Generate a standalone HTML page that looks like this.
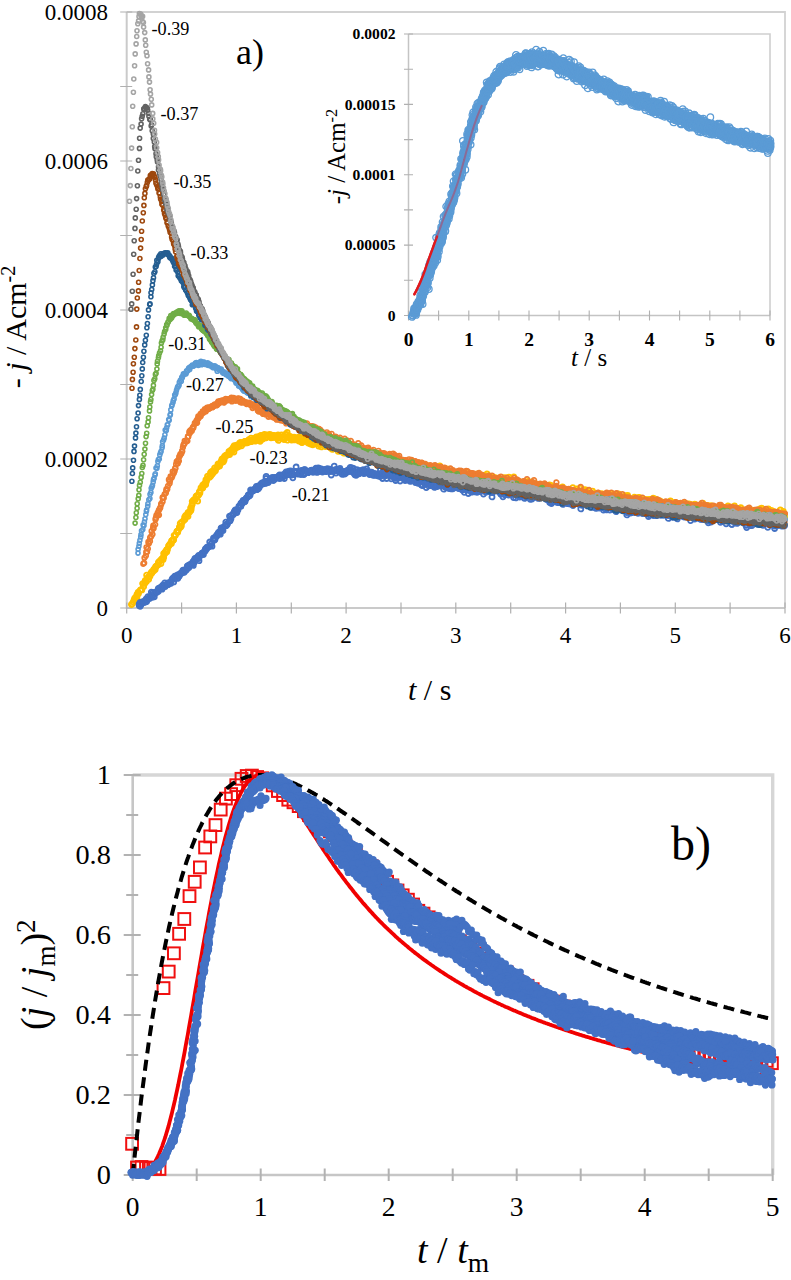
<!DOCTYPE html>
<html><head><meta charset="utf-8"><style>
html,body{margin:0;padding:0;background:#fff;}
svg{display:block;}
text{font-family:'Liberation Serif',serif;fill:#000;}
</style></head><body>
<svg width="791" height="1280" viewBox="0 0 791 1280">
<rect width="791" height="1280" fill="#fff"/>
<defs><marker id="a0" markerWidth="8" markerHeight="8" refX="4" refY="4" markerUnits="userSpaceOnUse"><circle cx="4" cy="4" r="2.5" fill="none" stroke="#FFC000" stroke-width="1.8"/></marker>
<marker id="a1" markerWidth="8" markerHeight="8" refX="4" refY="4" markerUnits="userSpaceOnUse"><circle cx="4" cy="4" r="2.5" fill="none" stroke="#4472C4" stroke-width="1.8"/></marker>
<marker id="a2" markerWidth="8" markerHeight="8" refX="4" refY="4" markerUnits="userSpaceOnUse"><circle cx="4" cy="4" r="2.3" fill="none" stroke="#ED7D31" stroke-width="1.7"/></marker>
<marker id="a3" markerWidth="8" markerHeight="8" refX="4" refY="4" markerUnits="userSpaceOnUse"><circle cx="4" cy="4" r="2.0" fill="none" stroke="#5B9BD5" stroke-width="1.6"/></marker>
<marker id="a4" markerWidth="8" markerHeight="8" refX="4" refY="4" markerUnits="userSpaceOnUse"><circle cx="4" cy="4" r="2.0" fill="none" stroke="#70AD47" stroke-width="1.6"/></marker>
<marker id="a5" markerWidth="8" markerHeight="8" refX="4" refY="4" markerUnits="userSpaceOnUse"><circle cx="4" cy="4" r="2.0" fill="none" stroke="#255E91" stroke-width="1.6"/></marker>
<marker id="a6" markerWidth="8" markerHeight="8" refX="4" refY="4" markerUnits="userSpaceOnUse"><circle cx="4" cy="4" r="2.0" fill="none" stroke="#9E480E" stroke-width="1.6"/></marker>
<marker id="a7" markerWidth="8" markerHeight="8" refX="4" refY="4" markerUnits="userSpaceOnUse"><circle cx="4" cy="4" r="2.0" fill="none" stroke="#636363" stroke-width="1.6"/></marker>
<marker id="a8" markerWidth="8" markerHeight="8" refX="4" refY="4" markerUnits="userSpaceOnUse"><circle cx="4" cy="4" r="2.0" fill="none" stroke="#A5A5A5" stroke-width="1.6"/></marker><marker id="ib" markerWidth="10" markerHeight="10" refX="5" refY="5" markerUnits="userSpaceOnUse"><circle cx="5" cy="5" r="3.3" fill="none" stroke="#5B9BD5" stroke-width="1.3"/></marker><marker id="bs" markerWidth="16" markerHeight="16" refX="8" refY="8" markerUnits="userSpaceOnUse"><rect x="2.1" y="2.1" width="11.8" height="11.8" fill="none" stroke="#F01010" stroke-width="2"/></marker>
<marker id="bc" markerWidth="10" markerHeight="10" refX="5" refY="5" markerUnits="userSpaceOnUse"><circle cx="5" cy="5" r="3.6" fill="#4472C4"/></marker></defs>
<path d="M126.7 12.0H785.0V608.0" fill="none" stroke="#d2d2d2" stroke-width="1.8"/>
<path d="M126.7 12.0V608.0H785.0" fill="none" stroke="#cacaca" stroke-width="2"/>
<path d="M120.2 608.0H132.2M120.2 533.5H132.2M120.2 459.0H132.2M120.2 384.5H132.2M120.2 310.0H132.2M120.2 235.5H132.2M120.2 161.0H132.2M120.2 86.5H132.2M120.2 12.0H132.2M126.7 602.5V613.5M181.6 602.5V613.5M236.4 602.5V613.5M291.3 602.5V613.5M346.1 602.5V613.5M401.0 602.5V613.5M455.8 602.5V613.5M510.7 602.5V613.5M565.6 602.5V613.5M620.4 602.5V613.5M675.3 602.5V613.5M730.1 602.5V613.5M785.0 602.5V613.5" stroke="#b0b0b0" stroke-width="1.2"/>
<text x="108" y="615.8" text-anchor="end" font-size="23">0</text>
<text x="108" y="466.8" text-anchor="end" font-size="23">0.0002</text>
<text x="108" y="317.8" text-anchor="end" font-size="23">0.0004</text>
<text x="108" y="168.8" text-anchor="end" font-size="23">0.0006</text>
<text x="108" y="19.8" text-anchor="end" font-size="23">0.0008</text>
<text x="126.7" y="643" text-anchor="middle" font-size="23">0</text>
<text x="236.4" y="643" text-anchor="middle" font-size="23">1</text>
<text x="346.1" y="643" text-anchor="middle" font-size="23">2</text>
<text x="455.8" y="643" text-anchor="middle" font-size="23">3</text>
<text x="565.6" y="643" text-anchor="middle" font-size="23">4</text>
<text x="675.3" y="643" text-anchor="middle" font-size="23">5</text>
<text x="785.0" y="643" text-anchor="middle" font-size="23">6</text>
<text x="408" y="700" font-size="30"><tspan font-style="italic">t</tspan> / s</text>
<text transform="translate(26 327) rotate(-90)" text-anchor="middle" font-size="30">- <tspan font-style="italic">j</tspan> / Acm<tspan font-size="20" dy="-11">-2</tspan></text>
<text x="236" y="64" font-size="36">a)</text>
<polyline points="131.4,604.5 132.2,603.8 133.2,602.0 134.8,600.2 134.1,599.7 134.8,597.9 136.5,598.3 137.1,598.9 136.9,595.5 137.0,594.3 137.3,594.7 138.5,593.5 138.1,592.2 140.8,589.8 140.4,590.0 141.8,589.9 143.4,586.3 143.6,586.4 142.6,583.6 144.6,583.4 145.4,581.7 144.7,582.8 145.2,580.5 146.4,581.6 146.0,580.5 148.7,579.2 146.6,575.2 148.2,576.9 149.4,576.6 150.0,575.9 150.9,572.8 151.6,573.3 151.9,571.7 153.5,571.0 151.8,572.5 153.9,569.2 154.0,569.3 155.2,569.6 155.9,566.7 155.7,566.4 156.6,565.8 158.2,564.8 158.5,562.2 158.4,562.9 160.9,563.6 161.7,558.9 159.7,561.0 161.6,559.1 163.7,557.1 163.1,559.5 163.4,556.9 163.7,553.3 164.1,554.0 164.9,553.6 165.3,551.6 166.8,551.7 166.6,549.6 167.2,549.6 167.3,549.5 168.7,545.7 168.8,545.8 169.9,543.9 171.4,543.6 171.5,540.8 172.2,540.5 172.7,540.0 173.2,540.3 173.7,539.6 174.1,535.3 175.5,534.9 174.8,535.7 177.2,531.2 176.9,532.1 176.9,531.5 177.7,532.2 178.2,530.3 179.4,527.9 179.4,526.8 181.4,525.8 180.6,527.0 180.2,523.4 181.9,522.4 181.6,522.1 183.6,520.4 185.0,519.2 185.4,516.8 184.6,517.1 185.6,515.4 188.0,516.3 187.6,514.5 188.0,512.5 189.4,512.3 191.0,509.8 190.8,510.5 190.6,508.0 191.3,507.6 192.2,504.1 191.9,505.1 192.2,501.3 193.6,499.8 193.5,501.0 194.8,499.1 195.5,499.4 197.7,501.1 196.1,496.1 197.2,495.3 197.8,495.4 198.8,494.8 199.9,492.9 199.4,491.8 199.8,492.0 199.9,490.8 201.0,487.7 202.6,488.0 202.9,487.2 202.8,484.8 203.9,485.5 204.8,483.1 205.7,484.5 205.6,482.5 206.4,481.5 205.9,479.6 207.0,479.3 209.6,475.9 207.5,476.1 209.5,477.2 210.5,473.0 210.7,476.1 211.0,471.8 212.1,474.3 212.8,471.3 213.4,472.6 212.7,471.0 214.6,467.9 214.7,470.9 215.5,470.4 216.7,467.5 217.6,466.5 218.4,465.9 218.0,464.0 219.6,466.0 220.4,463.0 221.0,463.0 221.8,461.2 221.4,460.7 222.0,459.0 223.3,461.8 222.4,459.2 224.1,460.0 224.2,458.0 224.9,456.3 224.6,456.2 225.8,455.2 227.0,455.3 228.3,454.2 229.0,453.6 228.9,451.5 229.4,451.7 229.6,454.6 231.1,450.8 231.2,449.7 232.4,451.1 233.9,452.1 233.2,447.5 232.8,448.8 233.9,447.7 234.1,445.6 234.9,448.7 237.3,447.2 237.1,446.8 236.5,445.2 238.7,446.5 239.7,444.6 239.2,444.8 239.6,443.0 240.5,442.4 241.5,445.8 242.4,442.7 243.4,443.5 244.0,442.7 244.6,441.9 245.4,441.5 245.5,442.9 244.6,441.3 246.2,441.3 247.1,441.3 247.3,442.8 248.8,441.9 248.5,441.3 248.7,439.6 251.0,438.2 251.1,441.5 251.4,441.4 252.5,439.6 253.2,440.4 253.3,440.6 252.0,440.6 253.9,440.6 254.6,438.4 254.9,441.2 256.3,436.9 257.7,440.0 257.1,439.3 257.3,439.8 260.1,441.3 259.0,440.6 259.1,436.4 260.7,435.5 261.5,439.3 261.3,436.4 263.0,437.8 262.7,439.0 263.0,435.1 264.4,434.3 265.4,437.9 265.1,437.5 266.4,437.0 266.7,437.3 269.3,435.9 267.5,434.8 269.6,436.9 269.2,435.6 269.8,434.5 271.0,437.8 271.7,436.9 272.6,437.6 272.6,435.4 272.5,436.0 273.2,435.4 274.5,435.6 275.2,437.3 276.4,435.8 276.3,437.6 277.4,437.6 278.3,440.4 278.0,434.9 277.5,438.6 278.3,437.1 278.8,437.2 281.5,435.0 280.4,436.6 282.5,438.6 282.7,437.3 284.1,437.6 284.2,437.1 284.0,439.5 284.6,437.6 285.4,434.1 286.1,436.6 286.2,434.6 287.2,432.5 288.9,437.0 287.2,440.2 289.2,438.1 289.0,436.2 290.4,436.6 291.5,440.1 291.5,438.5 292.7,438.4 291.7,438.3 294.2,438.5 293.6,439.9 295.1,439.6 295.4,439.1 294.1,437.1 296.0,439.8 297.3,437.9 298.8,441.0 298.6,437.1 299.2,439.1 298.6,439.4 301.2,437.3 302.1,442.6 301.5,442.3 301.9,439.1 301.6,441.4 303.9,440.8 305.8,435.9 305.1,440.9 306.1,440.5 306.2,440.8 305.7,439.0 308.0,440.5 306.8,440.8 308.1,443.2 309.1,441.9 310.1,441.5 310.4,444.2 311.0,440.8 310.8,441.2 311.1,438.9 312.7,444.8 312.7,443.9 312.9,444.0 313.6,443.7 314.8,442.9 314.4,443.2 315.4,442.5 315.8,442.7 317.7,443.3 318.5,446.0 320.2,444.5 318.4,443.6 319.6,442.8 321.3,442.9 321.1,446.9 321.7,445.2 323.7,444.5 322.9,444.0 323.0,442.8 323.5,444.8 325.3,446.6 325.9,444.5 325.3,445.0 326.2,445.1 327.9,445.8 328.5,443.0 328.3,445.5 329.8,444.6 330.4,447.8 329.4,445.0 331.0,447.6 332.1,449.4 332.1,446.3 331.6,445.9 333.5,447.5 334.8,447.3 336.0,445.7 334.0,448.4 338.0,451.3 336.0,447.4 338.1,447.7 338.9,446.3 339.3,448.9 339.4,446.2 339.1,446.6 341.0,451.1 340.6,447.3 340.0,451.0 344.4,451.9 343.5,449.8 344.9,450.5 343.6,453.2 345.9,449.4 346.6,448.9 347.2,447.6 346.7,450.3 346.5,453.1 347.8,452.3 347.0,449.0 348.0,449.3 349.9,450.1 349.7,451.7 350.9,450.9 351.6,451.8 353.7,452.1 353.8,451.2 353.5,451.8 355.0,452.4 354.2,452.0 355.2,453.2 356.7,455.9 355.8,453.7 357.1,452.9 357.0,449.8 358.6,453.8 360.3,449.6 359.2,450.8 360.5,455.1 360.4,455.0 360.8,453.6 361.4,450.8 363.9,453.5 365.1,453.1 364.4,455.7 364.2,458.8 365.8,455.2 365.7,453.5 367.1,452.9 367.4,455.1 368.0,455.1 368.8,453.4 368.6,455.9 369.4,453.7 369.1,458.1 370.6,458.2 370.5,458.4 372.0,455.6 372.1,457.6 373.5,456.5 374.3,456.2 373.6,456.5 374.7,454.8 375.2,454.7 377.0,459.1 378.3,457.4 378.3,458.3 378.1,459.9 380.0,454.9 378.5,456.8 381.2,458.8 380.4,459.4 379.5,458.1 383.9,460.9 383.8,459.5 382.6,456.9 384.0,457.6 384.4,461.1 385.2,460.6 384.7,456.2 385.9,462.6 387.3,461.3 387.8,462.9 389.1,459.7 388.9,460.0 391.1,458.6 389.6,465.8 390.9,460.7 390.0,464.3 391.1,460.1 393.5,461.8 392.6,458.4 394.2,461.1 394.4,463.9 394.3,459.7 395.5,464.3 396.0,463.1 396.6,460.5 398.1,461.7 398.6,462.0 398.4,462.9 398.8,462.1 400.2,461.7 400.6,462.9 402.0,461.6 403.8,461.2 403.1,463.8 403.1,465.8 403.6,461.2 403.8,464.4 404.4,463.2 404.9,462.8 406.0,466.5 406.6,464.0 408.0,468.0 407.8,463.7 408.6,466.2 408.5,465.1 411.1,464.2 410.9,467.0 412.5,465.7 412.4,467.3 413.5,466.2 412.9,464.3 414.2,466.4 416.2,466.8 414.1,468.7 416.4,465.2 417.3,467.0 417.1,463.9 417.9,468.6 418.9,465.4 418.2,464.1 419.6,467.7 419.3,470.1 420.0,465.1 420.7,466.0 421.6,466.8 422.5,466.2 423.3,469.3 422.6,467.1 425.6,467.4 425.7,470.0 426.0,467.5 425.8,470.0 426.6,467.4 427.7,467.0 428.2,465.9 427.4,473.2 429.7,469.1 431.9,470.3 429.1,469.9 431.8,470.4 431.9,470.3 432.2,474.0 433.9,468.4 432.7,467.5 434.3,468.6 435.8,468.1 435.2,472.3 435.7,472.5 436.7,469.2 436.9,468.5 439.0,470.6 437.8,474.1 439.7,466.0 438.8,472.6 440.8,469.6 440.9,473.8 439.7,469.8 442.2,471.5 442.1,469.2 443.1,470.3 445.2,475.0 443.9,474.0 444.5,471.7 447.0,470.9 446.6,469.0 448.3,472.1 448.0,472.9 447.8,472.9 449.0,473.0 450.5,471.1 450.9,473.2 450.9,473.4 451.5,476.1 452.0,477.3 452.3,473.5 454.8,472.3 454.0,473.8 453.8,472.9 454.9,472.7 456.4,474.1 456.9,472.3 457.0,475.6 457.2,474.3 458.3,475.1 457.7,474.4 458.6,473.4 460.8,473.1 460.5,474.5 461.7,474.0 462.9,475.7 463.1,475.3 463.3,472.7 465.4,475.6 465.0,473.0 464.9,474.5 466.3,475.2 466.7,471.8 466.4,476.1 467.7,476.3 468.1,475.8 467.4,475.4 469.4,475.6 469.9,474.5 470.4,476.0 470.2,475.5 471.7,476.8 472.6,474.4 473.3,477.3 473.0,477.2 474.9,476.7 474.2,476.2 475.5,478.3 477.2,474.0 476.4,478.3 477.2,477.9 478.9,478.1 478.5,478.4 479.2,476.4 480.2,477.3 481.4,479.1 479.7,478.8 481.3,478.5 481.8,475.2 482.3,479.3 483.1,480.6 483.8,480.4 485.2,478.9 485.0,475.5 486.3,480.5 487.1,478.4 486.9,473.9 488.2,479.6 489.9,476.1 489.6,476.5 489.5,477.9 490.5,481.7 490.5,478.6 492.0,479.9 493.0,482.9 492.5,482.6 493.5,479.4 495.1,479.2 494.5,477.3 495.7,478.5 495.4,480.7 496.2,480.8 497.0,480.3 499.5,482.1 498.3,478.7 498.9,480.2 499.5,481.8 500.4,481.6 501.6,482.6 501.9,481.4 503.8,480.1 503.1,481.5 504.6,478.9 504.4,477.7 505.2,482.1 504.4,481.0 506.0,481.8 506.6,477.9 507.1,480.6 506.4,480.2 509.2,479.8 508.9,477.2 509.5,481.0 510.2,483.5 510.9,482.6 511.9,480.7 511.4,482.0 512.2,483.5 513.7,476.8 514.2,482.0 514.5,483.4 515.0,483.7 515.4,485.8 516.6,484.8 518.0,483.3 517.1,483.3 519.5,484.4 519.7,481.9 519.4,482.9 520.9,484.9 519.9,487.0 520.3,483.0 521.3,483.3 522.5,483.9 523.2,486.2 523.7,483.6 524.7,486.6 523.8,482.0 526.2,483.6 525.5,483.7 526.7,485.7 527.5,486.3 527.6,481.4 528.0,482.7 528.9,485.2 530.2,483.4 531.3,481.8 531.9,486.9 531.4,485.9 532.2,486.0 532.7,484.2 534.3,487.3 533.2,484.9 536.1,487.6 535.5,483.8 535.9,484.0 537.3,486.2 538.4,484.5 538.5,487.3 539.7,486.6 539.6,484.4 541.0,486.5 541.7,485.8 541.3,488.3 543.0,485.4 542.8,485.9 543.3,489.2 543.2,491.3 544.3,491.0 545.7,487.3 544.8,487.7 546.8,490.4 547.2,487.3 547.8,485.7 546.7,487.9 548.8,488.7 549.9,486.3 549.5,484.8 550.8,485.3 549.7,489.5 552.4,486.9 552.1,488.2 553.8,489.0 552.5,489.9 554.9,488.1 554.9,489.9 556.2,487.2 555.6,488.4 556.5,487.2 559.1,491.5 557.6,489.3 558.3,488.1 559.2,488.9 559.3,489.3 561.5,491.2 562.4,486.8 561.4,488.0 561.3,489.4 563.9,495.1 564.5,492.2 564.9,490.2 565.8,491.9 565.0,494.6 566.1,490.2 565.9,490.1 566.4,493.2 568.7,491.9 568.2,492.4 570.9,490.1 570.0,495.0 570.1,494.7 571.7,492.5 573.0,492.8 572.7,487.7 572.2,492.9 573.9,491.4 575.2,492.7 574.5,493.3 575.0,491.4 576.8,488.9 576.8,493.0 576.6,490.9 577.7,491.8 578.1,491.3 579.4,491.9 579.9,488.2 581.3,495.2 581.6,493.4 580.6,495.1 582.6,496.9 583.6,493.2 583.9,489.7 584.9,491.6 584.4,491.1 584.8,492.5 586.7,493.8 585.9,489.8 585.8,494.5 588.6,490.9 588.0,494.5 588.9,493.8 588.8,493.5 589.5,494.1 590.2,493.3 591.4,493.2 592.5,491.2 591.3,494.5 594.0,498.3 593.3,498.6 594.0,497.4 595.8,496.3 595.9,493.7 595.5,497.9 598.5,495.1 597.2,495.1 598.6,494.8 599.2,495.6 600.7,494.7 600.0,495.4 601.6,493.6 601.0,495.1 602.9,500.3 602.2,495.8 603.1,495.6 605.3,497.2 604.9,497.6 605.3,494.1 607.4,496.0 606.8,498.2 606.5,497.1 608.3,496.9 607.5,499.7 609.8,495.5 610.4,497.0 609.8,495.9 610.4,499.9 611.6,493.3 612.1,495.9 612.0,496.2 613.7,498.7 612.5,498.6 614.3,500.2 614.9,494.5 615.6,499.1 616.6,497.2 616.2,496.5 618.1,499.0 618.2,496.2 618.4,494.0 618.6,497.4 619.3,495.3 621.0,497.1 620.7,499.1 622.0,499.1 623.4,501.7 624.0,498.3 625.0,495.7 624.3,497.3 624.3,497.1 626.4,496.6 626.6,499.9 627.7,497.9 627.6,495.3 629.0,500.6 629.4,499.1 629.9,500.1 630.4,499.7 631.0,500.8 631.5,499.7 632.1,502.1 633.2,500.6 632.8,500.7 635.0,500.8 634.3,497.2 635.7,499.8 635.6,499.7 636.1,500.7 638.3,497.7 637.3,503.6 637.2,500.7 638.2,498.2 639.1,497.3 641.5,500.2 640.7,500.6 641.9,499.5 641.1,501.1 642.7,499.8 643.6,502.2 645.0,499.8 643.8,501.2 645.4,503.2 645.8,506.4 645.5,499.5 646.8,500.6 647.2,500.0 646.4,503.2 649.1,499.5 649.7,500.9 649.6,501.9 649.6,500.1 652.2,500.2 651.9,501.2 653.1,498.1 654.0,499.5 653.3,501.5 654.8,502.7 654.7,502.1 655.4,499.1 656.0,501.7 656.7,504.3 658.1,503.9 658.0,502.7 658.5,501.2 659.0,504.2 660.1,501.9 659.8,500.8 660.7,501.6 661.6,506.1 661.9,503.8 662.8,505.7 663.1,502.5 665.6,505.4 665.7,502.4 665.7,503.4 666.0,508.6 668.2,505.3 667.5,502.9 667.8,503.8 668.7,504.7 669.3,506.4 670.7,503.2 670.3,500.8 672.4,503.7 671.0,504.4 672.7,504.6 672.1,507.1 674.7,505.2 673.8,506.2 674.7,502.5 676.0,506.4 676.8,508.9 675.8,506.4 676.9,505.4 676.8,505.3 678.5,508.6 679.0,503.3 679.4,505.0 679.8,506.2 680.6,506.8 681.0,504.5 682.5,506.1 683.8,505.0 682.0,505.8 683.9,505.4 684.3,503.5 685.6,505.7 685.2,507.5 686.4,504.0 686.4,505.5 688.2,507.3 688.4,504.0 688.8,506.5 689.8,504.1 690.0,508.5 689.7,510.8 691.9,510.3 692.3,506.0 692.6,507.9 694.0,506.8 694.8,506.8 693.8,509.7 694.6,504.2 696.9,508.9 697.4,506.8 696.5,509.7 696.8,507.3 697.8,505.7 698.5,507.6 698.4,508.6 700.1,507.3 699.8,508.2 700.5,506.3 702.6,503.2 702.1,509.2 703.2,508.9 704.3,507.9 705.0,507.8 704.8,509.7 705.7,506.8 705.7,506.4 708.2,507.5 708.0,510.2 707.4,505.3 708.8,510.3 709.9,506.8 710.4,506.0 711.9,510.6 712.2,508.1 711.5,505.8 712.5,507.7 712.2,510.2 713.9,510.8 714.5,507.7 716.9,509.4 715.7,510.0 714.8,507.4 716.4,509.4 717.6,508.7 717.2,507.8 718.1,508.0 719.1,509.1 720.2,509.1 720.5,508.0 720.6,508.3 722.4,511.4 722.1,509.7 722.7,511.0 722.7,511.7 723.7,510.6 725.4,513.9 724.4,507.9 726.1,511.2 727.3,509.0 727.1,513.3 728.2,513.1 727.9,506.0 730.2,508.0 730.7,511.2 730.7,511.5 729.9,511.4 731.0,509.9 733.0,511.0 734.2,511.4 733.8,510.1 735.1,512.3 734.4,505.9 735.3,511.6 736.1,508.4 737.0,512.4 736.2,510.1 738.6,508.9 739.5,511.4 738.4,508.9 738.9,509.0 740.7,507.7 740.6,510.8 740.0,511.9 742.8,513.0 743.0,510.7 743.2,513.1 745.6,511.1 744.9,511.0 744.9,512.3 746.1,513.3 745.9,510.7 746.7,510.9 748.1,511.1 748.1,511.6 748.8,509.8 750.9,513.6 750.9,510.8 751.5,512.6 752.0,510.1 752.5,512.5 753.8,512.6 753.4,511.1 755.4,515.9 754.0,512.7 755.1,515.5 755.0,514.0 756.3,510.8 757.5,511.4 758.8,513.1 757.9,512.4 759.0,512.4 759.4,511.8 759.7,508.9 760.0,512.0 761.5,508.2 760.9,513.3 762.8,511.2 763.4,511.3 763.5,512.3 763.9,513.3 764.3,510.0 767.1,509.5 765.5,510.8 768.2,509.0 768.1,511.1 768.1,516.2 768.1,511.1 770.3,514.4 771.4,510.5 770.1,513.8 771.2,512.7 772.8,513.2 772.9,514.5 774.7,516.9 773.5,513.9 774.9,513.8 774.3,511.7 777.2,514.8 775.9,513.2 775.5,515.4 777.5,513.7 778.1,517.2 780.2,510.0 779.2,513.3 780.1,515.7 781.1,513.3 782.5,512.5 781.9,513.6 783.3,511.5 783.6,514.4 783.6,519.0 784.5,516.5" fill="none" stroke="none" marker-start="url(#a0)" marker-mid="url(#a0)" marker-end="url(#a0)"/>
<polyline points="139.1,605.6 139.2,604.0 140.1,606.3 140.1,602.5 140.0,605.4 140.9,604.7 142.8,602.8 143.2,601.5 144.6,601.8 144.1,602.2 145.3,602.1 146.2,601.0 146.6,601.5 146.1,599.0 147.1,599.5 147.9,596.7 147.7,599.2 149.4,598.0 150.4,596.7 149.9,598.3 152.3,597.2 151.3,592.1 152.0,595.3 152.6,592.8 152.9,595.5 154.3,596.8 154.6,592.3 156.4,592.5 156.3,591.6 156.9,591.8 156.9,591.6 156.7,591.9 158.3,588.4 158.4,591.2 160.2,587.4 160.2,588.5 162.0,589.2 162.0,588.1 162.6,585.5 162.8,585.4 163.4,585.2 164.4,585.3 165.2,586.5 164.7,582.9 166.1,584.8 168.2,584.5 167.0,584.1 167.5,583.6 167.8,584.5 167.9,582.8 170.3,582.9 170.2,582.1 170.9,583.3 172.7,578.1 173.7,581.9 172.0,579.5 174.0,579.0 174.3,577.7 174.7,576.1 175.4,577.7 175.7,576.8 177.4,577.9 177.4,574.9 177.8,578.3 179.1,576.3 179.4,575.2 179.7,574.1 180.3,573.5 181.9,572.5 181.6,572.8 181.8,573.0 181.9,572.3 182.9,570.1 183.0,571.1 184.5,569.8 185.2,570.6 184.2,572.3 186.3,570.1 187.3,568.4 187.6,566.1 187.4,565.8 189.6,564.9 188.9,567.5 189.1,564.9 189.8,565.4 191.2,564.0 192.5,564.3 193.3,565.4 193.2,562.1 192.8,562.0 193.8,560.7 194.3,562.3 195.4,559.2 194.9,558.5 196.9,557.5 197.9,556.9 197.9,558.7 199.0,560.7 198.6,555.5 198.9,557.3 200.1,555.7 201.9,553.3 202.5,553.7 202.0,553.1 203.8,551.8 203.4,554.5 205.3,548.8 205.2,551.0 205.1,550.3 206.6,548.3 206.2,548.6 206.7,548.8 206.9,547.1 208.7,546.7 209.1,546.3 209.7,542.0 210.1,545.9 212.0,546.2 211.4,543.7 211.8,543.0 213.8,539.0 214.5,540.0 214.4,538.3 213.5,537.9 215.0,539.2 216.4,536.0 216.6,536.2 218.3,533.0 216.9,534.6 219.0,534.1 218.7,532.2 220.6,531.4 220.3,534.2 221.7,529.1 221.1,528.5 221.2,528.0 222.0,530.0 223.0,530.4 223.3,527.2 225.5,524.9 226.2,524.5 226.1,525.7 225.8,522.1 227.1,524.6 227.3,523.8 229.4,521.1 229.2,521.0 230.0,520.4 230.0,520.7 229.5,516.2 231.0,518.6 231.3,515.5 233.0,514.2 233.4,514.6 233.4,513.4 234.3,511.4 236.3,509.8 235.2,509.9 235.8,512.5 236.9,512.5 237.2,509.8 238.0,509.8 239.3,506.5 240.8,506.4 238.9,506.2 240.8,503.5 241.4,502.8 242.0,503.7 242.5,502.3 243.0,500.4 244.6,501.8 244.2,500.1 245.1,501.2 245.8,498.9 246.5,497.7 246.9,497.6 248.3,496.4 248.2,495.0 249.0,494.7 249.4,495.7 249.4,494.8 250.1,495.1 250.6,490.0 252.1,491.3 252.1,490.7 252.5,491.0 254.0,489.5 254.8,488.8 253.8,490.3 256.9,488.9 256.3,486.4 256.8,489.7 258.3,488.7 258.2,485.9 258.4,487.6 260.9,484.8 259.3,487.2 260.6,484.8 261.9,483.4 261.1,483.7 262.4,482.7 263.4,483.8 265.4,483.4 263.7,482.9 264.9,481.6 266.1,476.4 266.3,481.9 266.0,478.5 267.7,481.5 268.2,482.6 269.0,481.0 270.1,479.6 270.6,479.7 270.8,479.5 271.4,478.5 271.0,478.2 272.3,477.4 273.2,480.5 273.4,478.3 274.3,479.6 274.3,477.4 276.6,477.7 277.6,477.0 276.5,477.8 277.7,478.2 277.8,477.0 279.5,475.3 279.5,474.9 279.9,478.6 280.3,475.3 281.2,475.1 281.0,477.7 282.8,476.9 282.5,475.9 284.0,474.2 284.3,478.5 285.6,475.2 285.4,475.3 286.8,474.0 286.0,471.8 287.7,471.9 287.8,474.6 288.7,474.5 289.2,473.3 290.4,471.7 289.0,471.1 291.2,472.9 290.6,470.9 293.1,474.7 291.5,475.1 292.8,477.8 292.9,474.5 295.9,471.9 294.5,471.4 296.1,467.0 296.2,471.7 296.0,472.3 297.6,474.2 298.9,473.5 299.0,473.4 300.4,472.7 300.1,473.4 300.9,474.6 301.3,470.3 302.4,471.3 304.1,469.6 303.7,474.6 304.2,474.0 304.2,473.0 304.8,469.6 306.9,471.9 305.7,471.1 306.5,471.6 307.7,471.1 308.1,472.2 310.4,470.6 308.0,472.7 310.5,471.5 311.4,470.6 310.7,470.8 311.6,470.2 313.0,472.3 314.5,470.4 313.3,471.4 313.5,470.2 315.9,468.2 316.9,472.4 316.2,469.0 315.5,471.9 318.7,471.5 318.2,467.9 319.7,469.1 319.5,469.8 319.9,469.3 320.5,468.6 322.4,472.0 323.0,470.3 321.1,471.3 322.6,469.9 325.1,471.2 324.2,469.3 324.2,470.6 325.7,471.7 326.3,470.7 326.9,469.8 327.3,468.7 328.0,470.9 328.5,471.2 329.7,470.1 329.5,469.2 330.5,471.6 331.2,475.0 332.9,470.1 332.8,471.2 333.1,471.3 334.2,466.1 334.7,470.9 335.8,469.4 336.0,473.1 337.5,470.2 337.8,469.3 337.5,470.3 337.8,471.0 339.4,469.8 339.7,470.7 339.9,468.4 339.6,470.4 340.0,472.3 342.1,474.4 343.0,472.2 343.7,471.4 342.8,473.1 345.1,472.9 344.6,474.1 345.9,473.1 346.5,470.9 346.3,471.6 347.0,471.5 346.6,471.8 348.0,471.7 348.0,469.9 350.2,467.5 350.6,470.2 351.8,467.8 352.0,471.6 352.0,471.6 353.3,468.5 353.4,472.9 354.7,473.3 355.1,471.9 354.8,474.8 356.1,475.3 356.8,469.6 357.1,473.8 358.6,472.8 359.8,472.8 359.0,473.8 359.6,470.8 358.9,471.0 361.0,470.6 361.4,470.8 360.8,472.1 363.1,469.6 364.0,470.4 363.7,473.5 364.5,472.3 364.7,473.2 366.6,469.0 365.6,471.1 367.1,471.6 369.3,472.8 368.6,471.7 369.5,474.6 369.7,472.8 369.6,473.0 371.0,473.0 371.9,474.4 371.5,472.2 373.1,475.3 374.4,474.1 374.8,473.6 373.6,473.5 374.7,474.4 374.8,475.4 377.3,475.4 377.6,474.4 378.3,475.4 377.8,474.0 378.2,476.2 379.7,473.9 380.4,470.1 380.3,476.6 381.6,474.4 382.6,472.0 382.9,473.9 382.7,472.7 382.5,478.5 384.5,475.5 385.4,471.6 385.7,475.7 386.2,474.0 386.6,478.5 388.2,472.9 388.3,470.7 389.1,475.2 388.9,474.5 389.8,474.5 391.0,471.3 390.8,476.3 391.2,478.8 392.5,472.0 394.2,478.0 394.1,474.8 395.6,480.5 395.1,476.9 395.6,475.8 395.4,478.4 396.6,477.4 398.7,475.4 398.5,478.0 399.4,475.8 400.0,473.4 400.1,481.0 400.6,476.5 401.5,476.1 402.5,478.1 402.9,474.6 403.6,475.1 404.0,476.9 403.9,477.0 404.9,478.3 405.1,480.5 407.0,477.5 405.5,479.6 407.4,479.9 409.9,476.8 408.6,479.5 408.6,477.4 410.0,481.4 411.6,480.4 411.2,479.7 412.3,477.2 412.6,480.2 412.9,478.6 416.0,481.6 414.4,480.2 414.6,478.9 415.3,482.5 416.5,482.2 417.2,479.8 418.0,483.4 418.2,480.6 417.7,480.7 419.7,481.7 419.8,480.1 420.4,480.9 420.2,481.5 421.4,485.0 422.0,485.0 423.1,481.7 422.7,485.5 424.4,482.3 425.0,483.3 424.8,484.4 425.7,483.3 426.2,487.6 428.1,483.5 426.3,480.8 428.4,485.8 428.1,482.5 429.6,482.9 431.1,477.7 430.7,485.6 431.9,485.4 431.8,485.5 434.4,485.9 434.3,487.4 435.0,484.2 433.9,486.2 434.7,483.0 436.9,483.9 436.6,486.7 437.2,485.6 438.2,482.3 437.7,485.7 439.7,484.7 439.8,483.6 440.8,486.2 440.6,484.6 442.0,482.4 441.8,483.4 443.6,489.2 444.3,482.8 444.8,486.3 445.1,487.2 445.8,487.3 444.1,483.8 447.2,485.6 447.1,486.6 447.9,488.0 448.3,485.3 448.1,484.3 449.4,488.6 450.8,488.9 452.0,487.6 451.2,485.7 451.6,487.8 453.9,487.3 452.8,488.8 455.5,484.8 454.7,487.5 454.7,487.0 456.6,485.2 457.7,487.9 456.2,487.6 458.9,486.8 458.2,488.4 460.1,484.9 459.4,487.6 459.2,488.6 461.3,488.4 462.2,490.0 463.6,485.6 464.0,485.1 463.9,488.5 463.8,489.0 464.3,492.3 465.0,489.4 465.3,486.6 466.3,489.9 465.3,486.7 467.8,485.5 468.3,493.5 470.8,489.1 470.1,490.0 469.9,489.7 471.2,492.2 470.6,489.3 471.6,491.1 471.4,486.8 474.3,486.2 474.3,491.7 473.7,491.9 475.1,490.0 476.4,489.5 476.7,489.5 477.3,487.9 477.0,492.3 477.8,490.6 478.9,490.4 480.1,490.2 479.5,491.6 480.0,490.6 482.2,491.1 481.3,487.4 483.4,490.8 483.4,494.1 484.5,488.9 485.7,489.7 485.6,491.8 486.2,492.0 485.7,491.4 486.5,487.1 488.0,491.3 489.3,488.1 489.8,488.9 491.0,491.6 490.3,490.1 490.8,492.3 492.0,496.9 491.9,492.4 492.5,492.3 492.4,489.3 494.5,489.8 493.6,489.1 495.4,490.2 494.6,489.2 497.0,490.1 496.1,491.1 498.1,489.6 497.0,488.9 498.4,489.1 500.2,492.7 499.4,492.0 500.6,494.0 500.9,494.1 500.2,491.5 502.7,493.5 503.4,489.5 502.9,496.8 504.7,494.8 504.4,492.1 504.8,490.4 506.2,493.5 506.3,489.2 509.0,491.4 506.9,494.4 509.2,493.2 510.0,492.2 508.5,495.1 509.3,491.3 511.5,494.0 511.4,492.5 512.6,491.9 513.8,494.6 513.3,491.8 513.5,497.6 512.9,492.8 515.6,497.9 515.4,492.0 516.9,495.4 517.5,492.0 517.0,491.8 519.8,494.8 519.9,495.9 520.4,492.2 519.6,497.1 520.8,493.3 521.3,495.2 522.0,495.8 522.1,496.3 523.8,491.7 524.3,498.4 525.0,496.5 525.0,494.6 526.9,493.6 526.8,492.4 525.3,493.1 527.4,496.9 528.4,495.3 529.8,493.8 529.5,495.1 530.2,499.3 530.5,495.7 532.0,495.3 531.9,499.1 532.4,497.5 532.9,496.8 534.4,495.6 534.3,493.8 534.1,494.7 536.4,496.1 536.0,496.7 537.4,497.9 538.0,498.4 539.2,497.9 539.8,497.9 539.2,495.6 540.1,493.5 540.0,496.8 542.7,496.0 542.4,496.7 543.7,497.5 543.1,495.7 542.5,496.1 545.7,498.1 545.3,498.7 545.9,497.2 546.5,499.6 547.5,498.3 548.1,496.8 547.2,499.0 549.7,502.7 549.2,497.8 549.9,501.4 552.0,501.9 552.1,502.3 551.8,497.8 551.4,503.5 553.4,499.8 554.3,499.2 554.5,499.4 554.3,501.1 555.2,500.1 555.5,499.7 557.2,502.7 558.2,498.8 559.0,498.3 558.3,502.0 559.6,501.9 560.5,502.7 560.4,498.6 561.2,502.9 563.4,501.8 562.7,504.4 563.8,498.6 563.5,501.6 564.5,500.7 563.9,498.2 565.7,500.0 567.1,503.7 568.4,500.6 568.4,500.2 568.6,503.4 568.8,503.7 569.0,503.8 569.9,500.4 571.1,502.0 570.7,504.2 572.5,501.0 571.8,500.9 571.9,504.0 573.0,505.6 573.2,500.3 574.0,497.6 576.4,499.9 576.1,500.9 577.0,502.7 578.3,504.2 579.0,502.8 578.3,501.8 580.2,503.6 580.2,501.5 580.6,503.4 581.5,502.3 580.8,508.9 581.9,505.3 583.0,502.2 584.1,502.0 584.0,503.1 584.8,500.9 586.2,502.7 587.1,502.8 587.3,506.1 588.3,503.6 587.7,503.0 588.4,502.0 589.5,502.4 589.6,504.6 590.1,504.4 592.3,507.2 591.6,503.8 591.7,507.2 593.3,505.7 594.9,505.3 594.3,501.5 595.7,503.0 595.1,507.0 595.7,508.4 596.2,506.1 597.2,507.3 599.2,505.1 597.7,505.3 600.3,504.8 599.1,508.1 600.2,506.9 601.6,505.9 602.1,505.8 602.5,507.6 601.7,507.2 603.8,505.0 603.4,510.1 606.5,507.3 605.2,506.9 606.1,509.9 605.8,509.1 606.9,507.0 606.9,508.3 609.1,505.2 608.9,506.2 610.1,503.1 609.8,510.0 610.6,504.0 612.5,509.1 611.5,506.2 611.5,506.0 613.7,507.6 613.2,508.6 614.4,509.3 615.9,511.7 615.3,509.0 617.1,510.1 616.7,507.3 618.8,509.9 619.3,508.9 618.7,507.8 619.5,508.6 619.7,508.7 621.0,509.3 622.3,509.8 621.1,508.1 623.4,507.7 622.4,510.7 623.4,506.0 623.3,508.2 626.7,512.5 625.9,504.3 626.6,508.3 626.6,511.0 628.4,506.6 626.8,514.9 628.9,504.9 631.1,512.8 629.9,513.1 630.8,511.9 631.9,509.8 631.5,511.0 632.7,508.6 633.9,512.0 634.0,508.3 634.8,510.1 634.9,512.6 636.0,508.6 636.4,510.1 638.0,511.2 638.1,508.4 638.0,513.3 637.1,511.8 640.0,508.2 640.6,511.2 640.1,509.8 639.9,510.1 641.1,511.6 643.2,510.2 642.4,513.5 643.5,510.3 644.6,513.7 645.9,511.8 645.6,513.6 646.2,510.9 646.5,511.1 648.7,509.9 648.9,513.3 648.7,514.1 648.4,516.5 649.4,514.9 651.0,513.0 650.7,512.1 652.5,513.4 652.7,512.6 653.3,515.6 654.2,514.7 654.7,511.3 654.4,511.6 655.4,515.7 657.8,513.7 656.0,512.7 657.1,515.6 658.8,512.6 658.6,512.8 658.7,512.6 659.0,509.7 660.9,515.3 661.9,511.3 662.8,512.6 662.4,512.3 663.8,515.3 662.9,513.8 664.4,514.0 664.4,510.8 665.6,514.0 666.6,511.3 667.5,514.9 666.7,515.0 668.9,514.4 668.3,518.4 668.5,515.5 669.7,515.7 669.4,514.9 671.1,514.3 671.9,516.7 672.2,517.0 673.3,512.4 673.3,517.0 674.2,516.0 673.8,517.0 675.4,516.1 675.4,512.8 676.3,513.0 677.2,518.9 678.0,515.9 677.4,512.7 678.0,516.2 679.5,514.9 680.7,512.1 681.3,511.2 682.2,512.6 683.2,516.4 683.2,515.8 683.5,515.5 683.4,516.6 684.1,517.2 685.0,512.0 686.1,515.6 686.7,514.6 687.2,513.9 687.7,515.3 688.9,516.2 689.2,516.0 689.9,513.7 690.5,515.7 690.5,520.6 690.8,514.7 692.5,513.5 693.1,517.4 693.2,518.1 693.7,517.9 696.2,514.8 694.7,519.0 695.7,515.6 696.7,515.0 696.3,516.1 697.8,517.1 699.6,518.8 699.6,518.6 700.0,517.4 700.6,519.4 700.9,517.7 702.1,519.4 702.0,515.0 702.4,514.7 703.4,519.3 704.6,515.2 704.8,517.3 705.7,517.8 704.4,517.1 707.3,517.2 708.7,520.9 708.6,513.3 708.1,520.0 708.3,522.8 709.7,518.4 709.4,518.4 711.3,519.9 711.0,522.1 712.7,516.3 713.6,518.8 711.8,518.3 714.1,519.8 714.0,519.1 714.1,520.1 715.3,518.1 716.2,519.1 717.7,517.7 716.5,517.8 718.9,518.8 720.2,518.9 719.9,516.9 720.4,522.3 720.7,519.1 720.5,516.7 722.3,521.6 722.8,518.0 723.7,520.5 725.6,519.6 724.9,520.1 725.3,520.0 726.7,518.6 725.3,519.9 726.1,523.8 727.2,515.5 727.7,520.1 729.2,520.9 729.1,518.0 731.2,517.4 731.7,524.4 731.8,519.5 731.6,524.3 732.9,521.4 733.6,520.5 733.0,521.3 734.6,521.7 735.4,522.8 735.7,521.4 737.3,520.9 737.6,521.0 736.8,523.4 738.1,522.4 738.1,518.9 739.7,519.6 739.3,521.6 741.2,519.8 741.4,520.3 742.4,519.2 742.3,520.6 742.0,522.0 744.9,523.2 744.1,521.3 745.8,525.4 745.8,521.2 746.6,527.6 748.0,523.4 747.6,522.5 748.9,520.6 747.5,516.1 749.8,521.4 749.7,522.1 750.3,525.5 751.1,519.1 751.9,525.6 753.5,521.4 751.6,523.4 753.6,517.1 753.7,522.3 755.6,521.4 755.1,523.5 756.3,522.4 756.4,520.0 757.7,524.1 758.6,523.7 758.2,523.6 759.2,524.4 758.7,524.6 760.6,522.5 761.6,519.9 761.2,519.9 763.0,525.3 761.4,524.1 762.2,523.0 763.1,522.0 764.4,522.9 765.3,523.0 765.9,522.3 766.5,521.6 767.7,527.3 767.5,523.5 767.5,522.0 768.2,520.6 771.1,521.8 768.6,524.7 770.8,524.8 772.5,522.9 772.5,523.5 772.2,522.9 773.4,521.3 774.6,526.1 775.5,524.3 774.6,528.5 776.4,522.2 776.7,523.5 777.9,525.5 778.7,523.3 778.1,521.2 777.9,522.1 779.9,524.1 781.4,524.7 781.3,523.9 781.6,526.0 783.7,526.1 782.0,524.8 783.9,524.3 783.5,523.8 784.6,525.4" fill="none" stroke="none" marker-start="url(#a1)" marker-mid="url(#a1)" marker-end="url(#a1)"/>
<polyline points="143.3,563.8 144.2,562.9 144.5,557.8 145.9,555.8 146.2,552.2 147.1,552.1 147.9,548.7 146.5,547.3 148.9,543.4 148.4,541.9 150.0,541.2 150.1,537.7 151.2,536.4 152.5,534.2 151.6,531.2 153.1,527.8 153.6,528.6 153.3,525.7 155.2,524.6 155.5,519.4 155.9,517.9 156.4,515.5 159.0,515.0 157.8,515.3 157.7,512.9 158.8,510.4 159.7,508.8 160.3,507.7 161.1,504.8 161.2,503.8 162.6,501.7 162.7,497.4 162.9,497.7 163.8,497.9 164.6,494.3 165.9,492.9 166.3,490.7 166.5,489.2 167.3,489.3 168.0,486.1 169.6,483.6 168.9,479.7 170.0,480.9 170.8,477.8 170.6,476.4 171.7,477.7 172.4,476.0 172.7,471.6 173.8,473.2 174.6,471.2 175.3,468.3 175.3,468.5 176.1,464.4 177.8,463.4 176.7,461.6 178.0,460.4 178.9,461.1 179.2,457.0 180.0,455.6 180.4,454.2 181.3,453.8 182.2,451.5 182.1,451.1 182.9,447.6 183.4,445.3 183.8,444.5 184.7,443.5 184.7,440.9 186.3,440.7 187.4,441.0 188.0,437.0 188.4,436.5 187.9,436.7 189.8,433.3 189.3,432.0 190.2,430.6 191.8,431.1 191.0,430.2 192.5,428.4 192.9,427.6 193.3,428.0 193.5,426.6 194.8,423.2 195.0,423.7 196.4,423.0 197.1,422.7 196.4,420.8 197.4,419.4 198.2,418.7 198.3,416.4 199.0,417.4 200.2,415.9 200.7,416.2 200.6,413.8 201.8,413.6 202.9,412.3 202.7,411.5 203.4,412.8 205.3,410.9 205.8,411.4 204.9,409.1 205.7,410.0 207.2,407.6 207.0,408.5 208.1,408.1 208.6,409.0 209.8,408.2 208.8,407.4 209.6,408.2 210.7,407.2 212.5,407.2 212.5,407.2 212.3,405.9 214.1,405.3 214.8,405.6 214.9,404.4 215.5,405.0 216.5,405.4 217.5,404.7 217.6,402.8 218.4,401.4 218.7,402.4 219.2,401.9 219.6,403.0 220.8,401.0 221.1,400.9 221.7,401.8 223.0,400.3 223.4,400.5 224.2,402.6 223.6,402.2 225.2,401.0 225.3,400.5 225.8,398.9 226.4,400.6 228.1,400.0 228.5,400.1 228.3,399.1 228.7,399.7 229.9,399.4 230.3,400.0 232.0,401.4 231.1,400.1 231.5,397.7 232.9,398.5 233.7,397.8 234.3,398.8 235.3,400.5 236.5,400.4 236.0,399.2 236.5,400.4 236.5,399.2 238.1,398.5 239.0,398.6 239.1,399.3 240.4,402.2 240.5,398.9 241.8,402.2 241.9,402.5 241.8,400.8 242.6,401.1 242.8,400.6 243.3,401.6 244.9,402.7 245.9,402.1 247.0,403.6 246.6,404.1 247.2,403.4 247.4,403.6 249.0,403.4 249.3,404.2 249.5,402.7 250.7,404.9 251.3,404.9 250.7,403.9 252.6,408.1 252.9,404.4 253.3,404.9 253.9,406.8 255.6,404.3 256.1,406.2 256.9,405.6 256.0,406.8 256.9,408.2 258.3,409.2 257.8,410.6 258.7,410.6 258.8,411.5 261.2,411.0 261.5,410.0 261.8,412.4 262.3,410.6 262.6,410.8 263.2,413.9 264.3,413.3 264.3,412.9 265.9,413.9 265.6,414.4 266.1,411.8 267.8,413.7 267.7,412.6 268.6,414.6 268.8,413.9 268.5,416.8 270.5,416.0 270.2,414.5 272.0,415.8 271.3,414.5 271.8,416.4 273.5,417.4 274.2,417.3 274.6,414.6 274.6,416.9 276.3,418.3 275.7,418.3 276.8,419.7 277.3,416.6 278.1,419.3 279.3,417.9 279.2,419.3 280.4,419.8 281.1,420.4 280.5,418.8 281.4,420.1 282.4,418.4 283.0,418.3 284.0,421.1 283.5,420.5 285.5,418.5 286.1,419.7 286.3,421.1 286.3,423.4 287.6,422.9 287.9,422.7 289.1,419.2 289.4,421.8 290.4,422.7 290.5,422.8 292.0,422.9 290.8,422.2 292.0,425.1 293.4,424.9 293.0,422.8 294.8,421.7 294.4,426.2 295.7,422.6 295.8,425.2 296.7,426.4 297.6,422.5 298.1,424.4 298.6,423.6 300.4,425.0 300.0,424.9 300.1,427.4 301.7,425.6 302.3,424.9 303.1,426.7 304.0,424.9 303.2,424.9 304.9,428.8 305.5,424.6 305.6,425.2 306.3,426.2 305.3,424.8 307.1,423.4 308.9,428.2 307.8,425.7 309.0,426.3 310.1,426.7 310.8,426.1 312.0,426.1 310.9,428.2 312.4,431.7 313.4,429.5 313.0,429.7 314.2,426.7 315.8,429.1 316.1,427.7 316.4,430.9 315.4,429.7 317.3,430.4 318.2,430.5 318.4,430.1 319.2,429.0 321.4,432.4 320.3,429.8 320.6,430.4 321.8,432.1 322.2,431.8 322.8,433.5 323.5,434.9 324.6,434.1 324.9,434.4 324.8,434.4 326.0,436.0 326.9,432.3 327.0,435.8 328.5,434.2 328.9,434.1 328.6,436.2 329.9,435.9 331.4,437.6 331.8,438.6 331.6,433.8 332.7,437.4 332.5,440.7 332.7,439.3 334.4,440.4 334.8,438.7 335.6,436.6 335.9,437.3 336.7,440.3 336.9,440.9 338.0,438.6 338.8,439.5 339.0,440.5 340.1,437.7 339.4,440.1 340.5,443.3 342.3,444.4 343.0,441.1 342.9,444.3 343.3,440.9 343.4,440.7 344.8,438.7 345.6,443.8 345.1,442.0 346.8,446.4 347.4,443.6 348.0,443.6 347.8,440.7 349.2,446.0 348.8,443.4 351.0,443.9 350.9,441.0 350.9,446.0 352.7,446.4 353.3,444.1 353.0,445.4 355.0,446.1 354.0,447.3 355.3,446.2 356.4,448.9 355.3,446.1 357.5,445.8 357.6,446.2 358.3,443.2 358.4,446.1 359.7,449.2 359.6,448.3 360.3,446.8 361.1,448.9 361.4,445.4 363.4,448.3 362.6,449.8 363.5,450.3 364.3,448.2 365.1,451.1 366.1,452.8 366.7,449.4 366.8,451.5 367.4,448.1 368.2,447.6 369.2,451.9 369.8,451.2 369.8,451.6 369.6,450.6 372.4,451.2 372.4,453.2 372.7,454.8 373.3,451.9 373.5,449.8 373.9,454.6 374.8,453.8 375.5,454.1 375.9,453.4 376.1,457.0 377.3,453.6 378.4,454.5 378.5,450.8 379.4,453.0 378.9,453.0 380.5,454.2 381.1,455.0 381.2,453.4 381.6,457.6 383.3,453.2 383.3,454.4 384.6,455.6 384.7,453.4 385.9,456.5 386.0,456.8 386.0,455.4 387.4,459.1 387.9,456.3 389.0,456.8 389.0,455.0 389.7,454.0 390.9,455.8 391.7,456.5 392.1,456.4 392.9,458.6 393.2,453.6 394.0,455.8 394.7,454.8 395.1,460.2 395.5,457.2 396.2,457.5 397.9,456.7 397.3,460.1 397.8,458.2 398.4,459.4 399.2,455.8 399.9,461.3 399.9,460.2 400.1,460.6 401.8,461.9 401.5,459.7 403.0,459.9 403.6,461.5 404.7,461.2 405.6,460.3 405.6,460.9 405.7,460.2 406.0,462.3 406.9,462.9 407.9,461.5 407.5,464.8 409.1,459.3 409.7,461.6 410.7,465.0 410.8,461.6 411.6,459.8 411.8,464.9 412.6,463.7 412.6,461.0 414.1,464.4 415.5,461.6 415.4,461.2 416.1,463.3 416.1,462.9 417.9,462.1 417.4,463.4 418.8,462.5 419.1,464.4 419.2,464.4 420.8,465.9 420.9,464.0 421.6,462.7 422.4,462.9 422.7,464.8 423.2,467.9 424.2,466.9 424.4,464.6 425.3,467.3 425.5,464.0 425.7,467.7 426.8,465.6 427.5,467.6 428.3,467.5 429.5,466.2 428.7,467.3 430.3,465.1 429.7,466.9 430.9,469.0 431.8,474.1 431.5,468.6 432.4,467.7 434.0,466.0 434.6,469.6 435.1,465.2 435.4,466.8 437.5,468.8 436.9,466.4 437.2,471.0 439.1,470.4 439.2,467.8 439.3,468.0 440.7,466.8 440.8,466.8 441.7,470.0 442.1,470.4 442.1,470.1 443.7,470.1 443.9,468.8 443.9,470.5 444.7,467.6 446.2,470.2 446.1,472.7 447.0,472.6 447.9,469.8 448.2,470.1 448.0,473.1 449.7,473.9 450.5,468.5 451.1,470.4 452.1,471.7 452.1,473.4 452.9,470.1 453.9,472.7 453.6,471.3 455.2,475.8 455.9,472.7 456.0,471.9 457.1,471.7 457.3,474.1 457.0,473.6 458.7,470.8 458.9,473.1 459.5,470.6 460.0,471.7 461.2,471.0 461.5,471.0 461.5,472.2 462.7,471.8 463.4,474.5 463.3,475.0 464.1,473.4 464.7,472.1 465.2,475.4 466.3,470.8 467.3,471.1 468.3,475.6 468.6,475.6 469.1,476.3 469.8,474.4 470.5,472.8 470.3,474.1 471.5,476.0 471.9,473.9 472.3,474.2 472.7,473.1 473.3,473.6 474.1,477.1 474.2,476.5 475.7,474.0 476.1,474.2 476.7,475.2 477.5,477.1 478.3,474.4 478.3,476.1 479.1,472.9 479.0,474.5 479.3,477.4 480.1,478.3 482.4,475.0 481.4,475.7 483.1,478.4 484.2,476.5 483.9,476.4 485.6,478.2 486.3,477.8 486.5,479.4 487.8,478.9 487.5,476.7 487.5,477.6 488.7,477.8 488.9,475.7 489.1,476.4 489.7,479.7 492.1,475.6 491.3,479.9 492.2,478.8 492.5,478.2 493.5,479.4 493.9,479.4 494.5,480.7 494.7,478.1 495.2,478.5 496.2,478.5 497.3,482.1 498.8,480.7 498.9,477.6 499.9,478.7 499.9,478.2 500.2,479.4 500.2,479.8 501.5,483.4 501.0,476.6 502.6,481.4 504.2,480.5 504.1,478.7 505.2,479.7 505.0,479.2 505.2,480.2 506.2,481.9 506.9,477.8 508.3,482.5 509.3,479.8 508.6,483.0 509.4,481.3 510.1,482.7 510.6,481.7 510.8,482.6 512.1,481.0 512.8,479.6 513.5,482.2 513.3,482.3 514.5,484.7 514.3,478.0 516.2,481.1 515.9,483.3 516.9,479.5 517.4,481.3 518.0,485.3 518.3,484.2 518.6,480.5 521.0,484.4 520.9,484.1 521.5,483.5 523.0,483.0 522.5,482.8 523.5,481.1 523.8,481.8 525.0,483.9 525.3,483.1 525.8,486.0 526.2,482.5 527.1,479.2 528.1,482.7 527.1,483.8 528.7,484.1 529.2,483.7 529.9,482.3 529.7,486.2 531.6,482.8 531.5,485.1 532.4,483.6 532.9,482.2 532.9,486.6 534.1,480.2 534.1,483.1 535.1,485.3 536.1,484.1 536.8,486.1 537.5,484.8 538.0,484.3 539.8,488.7 539.5,484.9 539.3,485.1 540.3,483.7 540.9,484.3 541.7,486.8 542.1,486.7 542.6,485.9 544.5,484.9 544.3,487.3 544.7,483.4 545.4,485.8 546.0,486.0 547.5,485.2 547.6,486.9 548.6,485.7 547.1,485.6 549.4,490.0 550.4,488.3 551.5,489.2 551.1,487.4 550.9,489.0 552.6,488.8 552.7,489.7 552.7,491.7 553.9,487.5 555.4,488.4 556.0,488.0 556.4,482.4 556.2,486.0 558.6,488.4 557.3,489.6 558.5,487.7 558.4,490.6 560.4,490.9 560.6,488.2 561.5,491.4 561.7,492.0 562.2,490.0 563.0,487.7 562.6,491.9 564.6,489.3 565.2,489.0 565.2,489.9 566.0,488.9 566.8,491.7 568.0,491.3 568.1,492.1 568.5,491.2 568.8,489.0 569.0,490.1 570.0,491.9 571.0,489.9 571.4,495.5 572.2,490.4 573.2,489.9 573.6,492.9 574.2,492.3 575.0,491.1 575.4,490.9 575.9,492.0 576.8,492.8 576.3,492.8 578.4,491.1 577.7,492.4 579.4,493.2 579.6,493.2 580.8,486.9 580.9,490.6 581.0,490.9 582.7,491.9 582.8,492.7 583.4,494.0 584.0,493.6 585.1,492.4 585.6,492.8 586.0,495.7 585.7,491.9 586.9,493.5 587.7,495.7 589.2,493.8 589.1,489.9 589.5,494.0 590.8,492.8 590.7,493.4 591.4,495.4 592.1,494.5 591.9,493.4 593.8,495.4 594.1,494.7 594.4,494.2 594.6,494.7 595.9,494.7 597.1,493.8 596.7,493.7 597.1,494.6 598.4,493.0 598.1,492.6 598.4,496.9 599.9,494.5 600.4,494.9 601.2,494.8 601.7,495.2 602.7,495.2 603.1,495.4 603.5,494.1 604.2,497.0 605.4,494.4 606.2,497.3 606.8,492.6 607.3,494.1 605.9,497.5 607.7,495.7 608.6,495.0 609.5,496.8 609.2,494.5 611.4,496.4 611.4,492.7 611.6,495.7 612.6,495.5 612.9,497.5 613.4,498.2 614.6,495.4 614.8,499.5 614.9,496.0 615.9,493.7 616.8,493.2 616.9,499.8 618.7,497.2 618.2,496.3 620.2,496.2 620.4,495.7 620.1,499.9 621.2,497.6 622.4,500.7 622.3,497.5 622.4,494.1 623.7,499.4 625.3,497.5 624.2,497.8 625.8,500.8 626.1,497.9 626.7,500.3 627.2,498.5 627.8,497.3 629.1,499.5 629.5,497.7 629.4,500.8 631.3,500.5 630.5,499.1 632.1,500.1 632.4,500.1 633.6,498.7 633.8,500.8 634.7,499.0 634.8,500.5 635.9,497.9 636.2,499.8 637.8,500.4 637.0,498.4 638.5,499.1 638.8,499.0 639.3,501.2 639.5,498.9 640.6,500.9 640.3,502.7 641.0,500.9 642.6,497.7 642.1,500.6 644.2,502.2 644.0,500.1 644.9,502.5 645.4,501.8 646.2,501.5 646.5,500.5 647.0,500.1 647.8,500.6 649.0,501.2 649.7,502.1 650.3,502.0 650.5,500.8 650.8,501.5 650.7,502.1 652.5,498.9 653.2,500.4 653.2,500.4 654.5,501.4 655.3,501.4 655.3,501.5 656.4,500.6 656.7,503.2 656.3,502.6 657.5,499.5 658.2,502.3 659.3,500.5 659.2,505.2 660.0,501.7 660.4,501.9 661.5,502.8 662.1,502.4 663.2,502.7 663.7,505.4 664.1,503.3 664.7,504.4 665.3,504.9 665.9,501.5 667.2,506.0 665.8,504.4 667.6,504.9 668.5,502.0 669.5,504.8 669.0,504.2 670.3,502.7 671.2,507.4 671.2,504.7 671.1,503.4 672.5,504.2 672.7,505.4 674.2,505.9 674.1,505.0 676.0,506.1 675.8,506.6 676.0,502.2 676.7,503.5 677.1,502.9 678.4,504.6 679.6,506.9 679.4,505.7 680.6,502.9 680.2,504.2 681.5,506.5 683.1,504.0 681.9,504.8 683.8,505.5 684.4,502.0 683.5,506.4 684.3,505.7 685.2,506.2 686.8,503.7 686.7,504.1 687.4,504.4 688.5,505.9 688.8,505.7 689.5,505.8 689.8,508.6 691.2,507.9 690.9,504.6 692.7,504.8 692.3,508.7 692.7,505.5 694.1,508.3 694.6,508.7 694.0,505.3 695.7,505.8 695.5,506.4 696.4,504.9 697.8,504.8 697.6,505.8 698.9,507.9 699.1,505.8 700.9,506.3 700.5,505.9 700.6,504.5 701.2,509.3 702.0,503.0 703.1,505.9 703.6,507.9 704.7,504.7 705.0,508.1 705.6,509.2 706.3,505.8 706.7,507.6 707.5,505.5 708.4,508.2 709.0,507.6 709.0,507.9 709.0,509.8 710.1,508.4 711.2,509.9 710.5,508.8 712.1,505.8 713.2,508.3 713.3,508.7 713.6,505.6 715.7,510.2 716.1,508.2 715.9,508.7 717.3,506.7 717.9,508.4 717.3,508.8 719.9,507.8 718.7,508.5 719.6,505.0 719.8,510.8 721.0,506.7 721.0,505.0 722.2,507.1 723.4,507.4 723.6,509.7 724.0,507.3 725.5,509.4 724.9,507.4 726.4,512.7 726.4,510.0 727.3,512.4 727.8,507.5 728.5,510.3 729.0,507.7 729.3,510.3 730.0,510.5 731.1,506.8 731.5,507.6 731.6,507.6 732.4,507.1 733.0,508.5 734.0,508.1 734.7,507.4 735.3,510.0 735.5,510.8 736.5,507.8 736.4,509.1 736.3,510.1 738.3,509.7 738.1,509.0 739.1,511.5 739.6,511.7 741.1,511.4 740.8,510.0 742.2,513.7 742.4,513.3 742.7,509.9 743.1,510.4 744.8,512.6 745.4,509.4 746.2,511.4 747.3,510.9 747.2,509.7 747.8,510.5 748.2,508.3 748.9,510.1 749.3,507.7 749.7,514.8 751.7,513.6 750.4,513.2 752.1,511.7 752.8,512.9 753.3,513.4 753.4,513.1 754.4,513.0 754.8,510.0 755.2,512.3 756.3,510.7 756.7,509.7 757.3,509.8 758.5,512.4 758.3,513.5 759.6,509.6 759.7,514.8 760.9,514.4 761.3,511.4 762.0,511.3 762.0,512.0 762.7,513.8 763.3,511.6 764.5,510.4 765.4,512.9 766.1,508.9 766.0,512.6 766.9,514.3 766.7,513.0 767.0,513.8 768.3,513.4 769.0,513.8 769.2,512.9 769.7,511.4 771.5,512.4 771.4,512.7 771.6,514.9 774.2,515.6 773.7,513.7 774.1,511.8 775.2,511.9 775.1,512.8 776.9,515.4 776.0,513.8 776.7,513.2 777.9,512.0 778.2,514.8 779.9,513.9 779.1,513.4 780.1,513.7 781.2,516.3 782.0,513.3 782.8,516.4 783.1,515.7 784.7,513.8 784.0,515.2 784.9,513.6" fill="none" stroke="none" marker-start="url(#a2)" marker-mid="url(#a2)" marker-end="url(#a2)"/>
<polyline points="138.0,553.1 138.1,549.2 138.9,546.3 139.3,543.3 139.9,540.2 140.7,536.9 141.0,534.6 141.5,530.8 142.8,529.6 143.1,525.0 144.0,525.4 144.4,522.1 145.0,518.7 145.8,514.6 146.4,511.3 146.6,510.0 147.7,506.2 147.9,503.7 148.8,499.8 149.9,498.6 150.0,494.2 150.9,492.4 151.2,488.2 152.0,486.7 152.5,485.2 153.2,481.9 153.5,479.5 154.1,478.2 155.0,475.0 155.3,473.7 156.0,468.0 156.9,468.3 157.3,465.8 157.9,461.6 158.4,459.5 159.3,459.0 159.8,454.9 160.5,452.8 161.1,451.3 162.1,447.8 162.3,445.7 162.6,441.7 163.6,440.0 164.2,438.0 164.9,434.7 165.2,430.1 166.3,430.4 166.7,427.7 167.3,424.8 167.7,424.7 168.7,419.6 169.2,420.3 170.1,415.3 170.4,414.3 170.8,409.9 171.7,406.0 172.1,404.8 173.0,402.6 173.3,400.5 174.1,398.9 174.7,395.1 175.4,394.4 175.9,392.9 176.5,390.3 177.2,388.1 177.8,386.5 178.5,386.5 179.1,385.1 179.3,382.2 180.3,380.3 181.3,381.2 181.7,377.4 182.3,377.7 182.9,375.8 183.4,373.9 183.8,374.5 184.9,373.3 185.5,373.8 186.1,373.7 186.6,370.8 187.3,371.2 187.8,370.5 188.5,368.5 189.0,367.7 189.7,369.4 190.1,367.1 190.8,367.0 191.6,366.3 192.1,366.0 192.3,365.1 193.4,365.9 193.6,366.0 195.0,364.2 195.4,363.0 196.0,364.0 196.4,362.5 196.9,363.1 197.7,364.7 198.3,365.5 198.8,363.7 199.6,362.4 200.3,364.0 200.9,361.2 201.2,362.6 201.6,364.7 202.7,364.1 203.2,362.3 204.0,362.1 204.9,364.5 205.5,363.8 205.8,363.5 206.6,364.6 207.3,363.8 207.7,362.8 208.3,365.5 209.0,364.4 209.5,364.3 210.0,364.3 210.6,366.0 211.4,365.2 211.9,366.8 212.8,366.2 213.2,367.7 214.1,366.6 214.7,366.6 214.8,365.7 215.9,366.8 216.2,368.8 217.2,371.2 217.7,367.5 218.2,368.0 218.9,369.6 219.3,370.1 220.1,369.3 220.7,370.3 221.3,369.1 222.0,370.7 222.3,372.2 223.3,373.2 223.5,371.9 224.5,372.2 225.1,373.3 225.8,374.4 226.1,374.2 227.4,373.5 227.4,375.0 228.1,376.1 228.6,374.9 229.6,374.8 229.9,377.1 230.8,377.5 231.0,378.6 231.9,378.2 232.4,378.0 233.2,378.8 233.6,378.7 234.1,379.3 235.0,380.2 235.3,380.9 236.0,383.1 236.9,381.4 237.1,383.1 238.2,383.2 238.6,385.9 239.1,385.3 239.9,385.3 240.6,387.1 241.0,386.9 241.7,386.9 242.5,389.5 243.1,389.2 243.6,390.8 244.1,390.7 244.7,390.9 245.4,390.8 246.2,390.0 246.8,392.4 247.4,392.2 248.2,393.3 248.5,393.1 249.1,392.8 249.7,392.9 250.8,395.1 250.7,396.2 251.7,394.9 252.4,396.1 252.9,397.4 254.0,395.5 254.4,396.4 254.9,395.9 255.2,398.7 256.1,398.1 256.6,397.7 257.3,396.8 257.9,398.6 258.4,400.2 259.2,399.2 260.0,399.3 260.6,400.8 261.0,399.1 261.2,400.8 262.4,401.7 263.0,400.6 263.4,400.8 264.0,402.3 264.8,402.3 265.2,402.4 266.1,403.2 266.4,403.6 267.0,402.7 267.8,403.3 268.1,404.9 269.0,406.0 269.8,406.6 270.0,404.6 271.1,407.1 271.4,407.1 272.2,406.6 272.8,407.6 273.3,408.4 273.9,409.9 274.3,407.2 275.1,409.4 275.7,409.1 276.8,409.4 277.3,411.4 277.5,411.4 278.5,409.9 279.0,411.1 279.5,412.2 280.3,410.8 281.0,413.8 281.3,413.2 282.0,413.9 282.7,414.6 283.1,416.7 284.0,415.1 284.5,415.2 285.0,417.9 285.6,415.9 286.5,416.3 287.2,415.8 287.7,419.0 288.1,418.5 289.0,419.2 289.5,419.2 290.2,419.3 291.0,419.0 291.2,419.4 292.0,421.2 292.5,421.2 293.1,423.3 294.2,421.0 294.6,421.7 294.7,421.5 295.8,424.6 296.2,422.0 297.2,424.7 297.6,425.8 298.1,424.4 298.8,425.8 299.5,422.9 300.0,425.3 300.6,424.2 301.3,426.6 302.0,426.8 302.3,426.3 303.1,428.7 303.7,428.3 304.3,427.7 305.1,428.0 305.4,427.3 306.2,429.1 306.7,432.2 307.6,429.2 308.0,430.9 308.7,430.1 309.4,432.0 309.7,432.0 310.7,431.5 311.1,430.0 311.8,431.9 312.4,434.2 313.2,432.8 313.8,434.2 314.6,433.2 315.0,431.9 315.5,434.9 316.1,435.1 316.9,434.4 317.7,435.0 318.1,436.1 318.5,435.3 319.3,436.8 319.9,436.4 320.5,434.2 321.0,437.1 321.3,436.9 322.3,436.9 323.2,438.7 323.6,437.9 323.8,439.5 324.8,440.4 325.1,439.6 326.5,437.9 326.7,439.1 327.1,441.4 328.1,440.3 328.4,439.9 329.3,441.1 329.8,442.1 330.2,442.0 331.2,442.8 331.4,441.3 332.5,442.2 332.9,442.5 333.3,443.1 333.8,440.8 335.1,443.3 335.7,442.2 335.8,445.8 336.9,446.3 337.3,446.7 337.8,445.9 338.5,444.6 339.0,446.6 340.0,445.4 340.4,446.6 340.6,445.0 342.0,445.7 342.4,447.2 342.6,449.0 343.4,447.1 343.9,450.1 344.7,451.0 345.4,446.2 346.0,448.0 346.4,447.1 347.0,448.4 347.9,448.1 348.4,448.9 349.4,450.5 349.5,450.7 350.4,450.1 350.9,450.0 351.4,450.4 352.4,450.6 352.8,451.5 353.2,451.0 353.9,451.9 354.8,449.8 355.0,452.7 356.1,454.2 356.6,452.5 357.0,450.7 358.0,454.5 358.6,452.6 359.1,449.5 359.6,453.2 360.5,454.5 361.1,454.5 361.2,455.8 362.0,455.3 362.6,454.9 363.2,452.5 363.6,453.8 364.7,455.7 365.2,456.6 365.8,454.6 366.6,455.4 366.9,457.0 367.6,454.2 368.3,454.4 368.8,456.8 369.5,457.6 370.2,456.9 370.7,454.8 371.6,458.0 371.8,456.4 372.6,459.2 372.9,458.4 373.8,459.1 374.3,459.8 375.3,458.5 375.8,460.4 376.4,461.1 377.3,460.2 377.8,461.6 378.3,459.3 378.7,461.5 379.1,460.8 380.0,459.4 380.6,460.7 381.1,460.3 381.8,460.5 382.2,461.5 383.4,462.9 383.5,461.3 384.2,462.1 385.1,460.2 385.3,462.4 386.4,464.0 387.0,463.7 387.4,463.4 387.9,462.3 388.6,461.9 389.0,463.2 390.2,461.7 390.6,462.0 391.0,465.1 391.6,462.8 392.5,466.6 393.3,462.5 393.4,465.1 394.2,463.2 394.6,465.1 395.6,463.7 396.2,465.3 397.2,465.2 397.4,465.0 397.9,466.4 398.5,467.9 399.4,465.3 399.6,467.4 400.6,466.6 401.1,466.6 401.6,469.7 402.2,464.0 403.2,466.2 403.9,464.9 404.1,467.0 404.9,467.3 405.8,472.9 405.9,468.4 406.6,470.5 407.1,470.0 407.9,467.9 408.5,469.3 409.1,471.0 409.6,469.2 410.1,469.4 410.8,469.9 411.5,467.4 412.4,468.5 412.8,470.2 413.3,470.6 414.2,468.8 414.8,469.8 415.2,470.2 415.9,470.3 416.7,471.6 417.3,471.0 417.7,471.2 418.5,469.3 419.1,469.9 419.9,471.9 420.2,469.5 421.1,472.1 421.6,471.0 422.0,470.9 423.0,473.0 423.6,471.4 423.8,471.3 425.0,471.7 425.1,472.8 425.7,476.5 426.5,470.2 427.3,473.1 427.9,473.0 428.4,474.7 429.3,473.1 429.7,470.4 430.5,475.6 431.4,472.5 431.5,474.0 431.6,472.4 432.6,472.9 433.1,473.8 434.0,475.8 434.6,475.9 435.0,474.1 435.6,475.7 436.4,474.6 437.0,475.4 437.2,475.6 438.5,476.3 438.9,474.8 439.5,475.6 440.2,476.2 440.6,476.1 441.4,475.1 442.2,478.6 442.8,475.8 443.3,477.5 443.8,476.9 444.3,478.4 445.4,473.9 445.8,479.7 446.3,476.8 446.6,475.6 447.4,477.5 447.8,480.5 449.1,478.3 449.5,476.1 449.9,477.2 450.6,479.7 451.8,476.2 452.2,477.9 452.3,477.9 453.2,481.3 453.6,478.1 454.1,480.4 455.1,477.9 456.1,477.8 456.6,480.4 456.9,480.0 457.4,476.9 458.2,480.2 459.0,480.3 459.1,478.8 459.6,480.0 461.0,480.2 461.3,479.3 462.2,479.3 462.5,479.3 463.4,479.9 463.6,478.6 464.4,480.5 465.3,478.7 465.8,480.9 466.1,480.8 467.0,479.6 467.3,482.3 467.8,483.8 468.8,483.1 469.6,479.6 470.1,483.3 470.3,482.0 471.3,481.7 471.9,481.1 472.3,482.0 472.5,484.0 473.8,483.0 474.4,481.8 475.0,481.5 475.2,482.0 475.8,483.4 476.9,485.2 477.5,481.4 478.1,482.9 478.6,482.5 479.3,482.1 479.7,483.8 480.4,484.1 480.9,481.5 481.8,482.1 482.2,485.2 483.1,484.1 483.7,484.5 484.0,483.2 485.2,483.4 485.2,484.7 486.1,483.5 486.9,482.7 487.5,484.3 487.5,485.6 488.7,483.1 489.4,486.0 490.0,485.6 489.9,483.5 490.9,484.8 491.6,484.8 492.2,485.8 493.1,485.9 493.3,483.4 494.3,483.4 494.8,486.6 495.0,485.5 495.8,486.0 496.5,485.9 497.2,487.6 498.0,484.0 498.4,487.2 499.2,484.7 499.4,486.8 499.7,487.7 500.9,484.2 501.6,486.6 502.1,485.8 502.6,485.8 503.5,486.4 504.4,485.0 504.6,485.2 505.1,487.4 505.7,487.7 506.9,485.9 507.1,484.8 507.9,489.9 508.6,488.4 509.2,487.5 509.4,485.7 510.4,486.4 511.0,487.5 511.6,486.0 512.3,489.5 512.6,487.6 513.3,488.1 513.8,486.2 514.7,486.5 515.0,486.7 515.9,488.2 516.2,487.6 517.0,487.7 517.6,488.5 518.3,488.5 518.9,490.3 519.5,488.1 520.1,487.1 520.3,488.5 521.6,490.6 521.9,488.0 522.6,488.9 523.1,488.5 524.1,489.6 524.3,489.5 525.2,488.1 526.0,489.0 526.7,490.7 527.2,491.0 527.7,490.8 528.0,490.8 529.1,489.4 529.7,489.4 530.2,491.2 530.8,488.5 531.3,490.1 531.8,487.8 532.8,489.9 533.4,489.6 533.6,489.0 534.6,491.5 535.1,489.8 535.8,490.4 536.3,490.7 537.1,490.2 537.7,493.1 538.3,490.7 538.5,491.7 539.5,489.8 540.0,491.0 540.4,491.3 541.4,491.5 541.6,491.2 542.6,492.3 543.4,494.3 543.6,492.1 544.5,492.2 545.0,492.0 545.7,496.0 545.9,494.9 546.9,493.6 547.5,493.9 548.2,492.1 548.7,492.9 549.5,493.5 550.0,493.5 550.7,492.3 551.4,492.5 551.8,494.3 552.6,494.2 553.1,491.1 553.7,494.1 554.1,495.8 555.0,493.3 555.7,494.6 556.1,492.5 556.9,495.6 557.4,493.1 557.7,493.0 558.7,494.4 559.5,498.0 559.7,494.2 560.1,493.4 561.1,495.8 561.6,495.6 562.7,497.6 562.9,493.8 563.5,493.5 564.0,495.3 564.8,496.3 565.3,496.3 565.8,497.4 566.6,494.1 567.1,495.1 568.1,496.1 568.3,497.4 569.1,497.1 569.6,496.0 570.1,495.3 571.3,497.9 571.2,498.1 572.5,500.5 572.6,496.7 573.5,499.2 574.5,495.6 574.3,496.5 575.1,496.4 576.2,496.8 576.6,496.4 577.1,496.9 577.8,497.6 578.2,497.2 579.1,498.8 580.0,497.9 580.2,498.1 580.9,500.1 581.8,498.7 582.5,498.5 582.7,498.4 583.4,498.6 583.9,499.4 584.5,497.6 585.2,500.3 585.7,500.9 586.1,500.5 586.7,498.4 587.6,497.0 588.4,498.6 589.2,499.5 589.5,500.5 590.2,499.2 591.0,499.2 591.6,501.7 592.0,498.9 592.7,501.2 593.7,501.1 593.9,498.2 594.5,500.5 594.8,499.4 595.9,499.0 596.4,497.9 597.4,498.4 597.6,501.1 598.4,500.1 599.1,501.0 599.8,499.4 599.9,500.4 601.1,500.6 601.4,499.0 602.0,498.9 602.5,501.8 603.1,501.5 603.8,500.1 604.0,501.3 605.2,502.4 605.7,504.0 606.1,500.5 606.9,502.6 608.0,504.7 608.3,502.0 608.7,504.0 609.8,498.7 609.9,504.1 610.6,502.2 611.2,499.9 611.9,503.5 612.7,503.9 613.3,504.2 613.6,504.2 614.4,502.7 615.0,501.8 615.5,502.3 616.2,502.9 616.7,503.6 617.3,502.5 618.1,503.3 618.5,504.5 619.4,503.8 619.9,506.5 620.4,506.4 621.1,502.1 621.7,502.9 622.4,502.0 623.1,502.3 623.6,504.6 624.1,502.7 625.2,502.7 625.7,503.8 626.2,505.3 627.0,503.8 627.5,503.9 628.0,505.7 628.7,505.2 629.8,505.2 630.1,506.0 630.7,503.4 631.0,505.1 631.9,504.1 632.8,506.4 633.1,506.2 633.8,503.8 634.5,507.0 635.0,503.8 635.8,506.9 636.1,505.7 636.8,504.4 637.2,504.1 638.5,505.3 638.6,505.7 639.2,504.9 640.1,506.7 640.3,504.1 641.0,506.0 641.5,506.1 642.3,503.7 642.8,506.7 643.6,504.7 644.1,503.1 644.6,505.7 645.3,506.3 646.0,507.8 646.5,506.1 647.4,508.7 648.0,508.8 648.5,508.4 648.9,508.8 649.8,507.5 650.1,506.4 651.0,508.1 651.6,508.6 652.1,507.7 652.7,507.1 653.3,505.4 654.5,508.5 654.6,508.1 655.3,506.0 656.1,507.9 656.6,508.8 657.4,507.8 657.5,509.0 658.2,509.1 659.7,506.2 659.6,507.8 660.2,508.9 660.9,509.6 661.7,510.3 661.9,505.9 662.8,508.5 663.4,509.6 664.1,510.3 664.6,511.0 665.1,507.6 665.7,508.4 666.0,507.5 667.3,510.1 667.4,507.3 668.2,510.7 669.3,510.5 669.5,509.9 670.3,506.5 670.8,508.5 671.6,510.5 672.1,507.7 672.6,509.3 673.5,509.5 673.9,510.9 674.3,510.2 675.1,510.2 675.9,509.3 676.2,510.0 677.2,509.9 677.8,511.1 678.7,509.9 678.7,511.6 679.6,508.0 679.8,512.0 680.6,510.2 681.4,512.0 682.0,510.7 682.6,511.8 683.2,512.7 683.7,510.0 684.4,510.9 685.1,510.6 685.8,511.2 686.4,508.8 687.1,510.8 687.8,510.8 687.8,510.1 688.7,511.0 689.4,509.2 689.9,513.2 690.8,512.0 691.4,514.0 691.9,510.4 692.5,510.0 693.4,512.0 693.7,509.5 694.3,512.1 695.2,510.9 695.7,511.4 696.5,512.3 696.9,512.1 697.6,514.5 698.0,513.0 698.5,510.5 699.3,513.5 699.4,510.5 700.6,512.5 701.4,510.7 701.8,511.4 702.4,514.3 703.3,511.8 703.7,511.8 704.5,511.9 705.3,512.3 705.7,514.7 706.3,511.3 706.9,511.3 707.4,513.7 708.1,510.9 708.6,512.6 709.5,514.6 709.6,513.2 710.4,512.6 711.2,512.4 711.6,512.1 712.3,512.6 712.8,513.6 713.7,515.2 714.4,514.9 715.1,512.9 715.5,512.7 715.9,514.7 716.7,511.4 717.4,513.3 718.2,513.5 718.1,512.5 719.2,512.7 719.4,514.5 720.5,511.9 721.1,512.9 721.7,513.4 722.4,514.4 723.0,512.5 723.4,515.8 724.2,514.0 725.0,514.1 725.3,514.0 726.0,513.7 726.4,513.3 727.4,516.2 727.7,515.0 728.3,514.6 729.0,516.2 729.5,513.9 730.3,515.8 731.2,515.0 731.7,513.9 732.5,516.1 733.1,513.2 733.3,516.1 734.1,514.1 735.0,515.8 735.7,517.2 735.6,516.2 736.3,514.7 737.2,515.5 737.7,515.1 738.2,514.0 739.1,514.2 739.5,515.8 739.8,516.5 740.9,513.5 741.5,515.8 742.2,516.6 742.9,516.1 743.4,514.7 743.9,517.4 744.5,514.5 744.9,517.0 745.7,518.3 746.6,513.5 747.2,516.6 748.1,516.8 748.3,516.7 748.6,515.4 749.7,516.1 750.4,514.7 750.6,516.8 751.1,517.4 752.1,515.8 752.8,515.5 753.1,516.2 753.8,516.8 754.4,517.0 754.9,516.8 755.5,517.1 756.4,515.3 756.9,513.5 757.5,518.0 757.7,519.1 759.2,515.4 759.3,516.4 760.1,517.7 760.5,518.6 761.4,518.3 761.7,519.2 762.6,517.5 763.1,518.1 764.0,518.2 764.2,517.1 764.9,519.3 765.6,518.6 766.7,519.1 766.6,517.3 767.6,519.3 768.0,516.6 768.8,518.5 769.5,514.6 770.0,516.8 770.7,519.1 771.3,517.6 771.8,518.5 772.4,516.1 772.8,520.4 773.7,519.2 774.2,518.4 774.9,519.0 775.7,518.9 776.3,520.4 776.9,518.9 777.7,516.7 777.6,518.4 778.8,520.4 779.3,519.5 779.9,518.3 780.3,519.7 781.3,519.1 782.0,519.8 782.6,516.9 783.0,517.9 783.8,520.0 784.4,518.8 785.2,519.6" fill="none" stroke="none" marker-start="url(#a3)" marker-mid="url(#a3)" marker-end="url(#a3)"/>
<polyline points="135.1,523.1 135.9,517.5 136.3,512.8 137.1,508.3 137.2,503.8 138.2,498.7 138.8,495.4 139.0,489.7 139.5,485.4 140.3,482.3 141.1,477.4 141.8,473.5 142.3,467.5 143.0,465.4 143.6,459.7 144.2,454.2 144.9,449.1 145.5,443.2 146.1,436.6 146.7,433.3 147.2,425.7 148.1,421.9 148.5,417.8 149.5,410.9 149.8,407.0 150.5,401.9 150.9,399.5 151.6,394.6 152.3,390.5 152.9,389.2 153.4,385.4 153.9,380.4 154.8,378.7 155.4,374.4 156.1,373.2 156.9,369.0 157.2,363.9 157.5,361.2 158.4,357.8 158.7,355.8 159.5,353.0 160.5,350.7 161.1,347.2 161.4,343.0 162.1,340.7 162.8,340.0 163.1,337.4 164.1,333.9 164.6,331.6 165.7,329.5 165.7,327.8 166.7,324.6 167.0,325.3 168.0,322.5 168.2,321.8 169.2,318.3 169.5,319.6 170.1,319.6 170.8,315.6 171.6,318.1 172.2,316.5 173.0,314.8 173.5,313.5 173.4,315.3 174.5,314.1 174.8,314.0 175.8,313.0 176.6,312.3 176.8,313.5 177.5,311.7 178.3,313.1 178.9,310.8 179.9,311.4 180.2,311.0 180.9,313.4 181.8,310.9 181.9,311.6 182.7,313.4 183.1,313.2 183.9,315.1 184.7,315.1 185.4,314.3 185.7,314.8 186.2,313.0 186.8,314.3 187.3,315.2 188.3,315.8 189.1,315.2 189.0,316.1 189.7,316.6 191.0,318.7 191.0,318.6 192.0,318.5 192.3,319.0 193.3,320.0 194.0,319.7 194.5,320.6 195.2,319.9 195.7,322.5 196.4,323.4 197.3,323.4 197.8,324.1 198.0,324.7 198.6,326.7 199.3,325.8 200.0,325.2 200.6,326.1 201.1,328.3 202.0,329.4 202.5,329.8 203.2,330.6 203.7,330.8 204.5,330.2 204.7,331.6 205.9,331.4 206.3,333.5 206.9,333.4 207.6,335.5 208.3,336.1 208.8,335.4 209.4,338.7 209.9,339.6 210.2,338.6 211.2,340.9 211.7,342.3 212.4,342.3 213.5,344.3 213.3,344.5 214.3,346.2 215.1,346.2 215.7,346.7 216.4,348.1 216.5,349.1 217.2,349.3 218.1,349.3 218.6,349.7 219.6,350.7 219.9,351.2 220.5,352.5 221.2,353.1 221.7,353.5 222.4,354.2 222.8,355.0 223.6,357.0 224.1,357.3 224.9,356.3 225.2,357.9 225.8,357.9 226.8,358.8 227.3,359.4 227.7,359.8 228.5,359.8 228.9,359.5 230.2,362.7 230.1,364.4 231.4,363.1 231.5,365.2 232.3,365.1 232.8,366.4 233.4,366.1 234.3,367.4 234.9,368.3 235.3,366.8 235.8,370.0 237.0,370.4 237.5,368.9 237.9,372.7 238.4,372.7 239.1,373.7 239.7,374.6 240.6,374.5 240.7,374.6 241.6,375.9 242.0,376.6 243.1,379.9 243.8,380.2 244.0,378.6 244.8,379.4 245.6,380.8 245.8,381.7 246.3,381.1 247.3,381.4 247.9,384.9 248.3,384.7 249.3,382.7 249.7,383.1 249.9,384.6 250.9,386.2 251.5,387.1 252.5,386.8 252.7,386.0 253.3,388.4 254.0,389.3 254.6,389.3 254.9,389.3 255.8,390.9 256.4,390.8 257.3,390.2 258.2,391.9 258.1,391.0 258.7,393.8 259.4,393.8 260.0,392.8 260.6,394.5 261.4,396.1 262.2,393.0 262.4,395.6 263.0,397.9 263.5,395.0 264.7,397.0 265.4,396.1 265.4,398.0 266.0,396.0 267.0,397.3 267.8,398.9 268.4,400.1 268.9,400.8 269.6,401.3 270.1,402.5 270.6,402.5 271.7,403.0 271.9,401.6 272.3,403.0 273.1,407.0 273.5,406.5 274.4,405.4 275.3,405.8 275.4,406.5 276.5,405.4 277.3,408.4 277.6,406.4 277.9,407.1 278.6,410.0 279.3,405.8 279.7,408.9 280.4,407.1 281.2,408.7 281.8,409.8 282.6,409.9 282.9,410.9 284.1,410.3 284.6,411.5 285.1,410.7 285.4,412.0 286.5,411.3 286.8,414.0 287.8,412.2 288.3,414.9 288.5,414.0 289.2,414.6 290.3,416.6 290.7,415.8 291.1,414.0 291.8,417.1 292.4,413.6 292.9,417.6 293.6,417.3 294.1,416.5 294.8,418.6 295.6,418.5 295.9,421.6 296.9,419.2 297.4,422.3 298.1,422.0 298.8,420.1 299.5,420.2 300.0,423.1 300.6,421.8 301.0,422.5 301.8,422.4 302.1,421.6 302.9,423.0 303.7,422.7 304.2,422.4 304.9,424.2 305.2,427.0 306.3,427.1 306.5,425.5 307.4,426.1 307.9,426.9 308.7,428.2 309.1,427.4 309.6,426.8 310.0,427.2 310.9,429.3 311.4,431.4 312.3,427.9 313.1,426.6 313.0,430.3 313.8,429.6 314.8,430.2 315.6,431.8 316.0,430.7 316.6,429.4 317.3,429.0 317.9,431.6 318.8,430.5 319.2,432.6 319.4,431.0 320.2,432.5 321.0,431.4 321.4,433.1 322.1,433.3 322.7,434.8 323.3,436.0 324.2,434.5 324.6,434.0 325.0,437.7 325.7,436.1 326.5,436.7 327.5,436.9 327.8,438.3 328.7,438.0 329.1,437.9 329.2,438.3 330.3,436.6 330.7,437.2 331.2,438.1 331.9,438.6 333.1,438.8 333.0,439.4 333.8,439.3 334.8,439.0 335.3,437.8 335.5,441.1 336.4,441.0 336.9,439.5 337.6,441.4 338.4,441.5 338.8,441.4 339.5,439.3 340.4,440.3 340.4,441.3 341.3,444.3 342.1,441.5 342.4,442.3 343.1,441.6 343.6,442.6 344.5,443.9 345.0,441.1 345.9,440.4 346.5,445.0 347.0,444.5 347.5,443.9 348.3,446.1 348.8,446.4 349.2,442.8 350.3,445.4 350.7,447.3 351.5,445.3 351.6,446.0 352.7,447.8 353.6,446.5 353.9,445.6 354.1,446.5 355.0,445.9 355.6,448.6 356.3,445.9 356.8,449.7 357.6,446.5 358.0,448.9 358.8,447.3 359.2,449.0 360.0,450.9 360.8,451.3 361.1,451.8 362.0,450.3 362.3,450.8 363.0,451.2 363.6,451.9 364.6,450.8 364.8,453.0 365.8,452.2 365.9,453.5 366.8,452.9 367.6,453.4 368.2,451.8 368.5,452.4 369.0,451.5 370.1,453.0 370.3,453.4 371.3,454.9 371.7,452.4 372.4,458.5 373.5,454.3 373.9,456.3 374.4,456.3 374.6,451.8 375.5,455.0 376.1,457.4 376.7,452.5 377.6,456.9 377.6,454.9 378.6,455.7 379.2,456.8 379.7,454.2 380.8,457.1 380.8,456.2 381.7,456.3 382.3,458.4 382.5,462.3 383.2,458.3 384.0,458.8 384.9,458.1 385.6,457.4 386.1,458.9 386.7,460.8 386.8,459.2 387.9,460.3 388.4,459.0 389.4,462.9 390.0,457.5 390.8,460.7 391.1,460.8 391.8,460.6 392.0,459.0 392.9,459.1 393.2,460.5 394.3,461.2 394.5,459.6 395.3,460.0 395.8,462.4 396.5,463.2 397.3,461.2 397.7,461.2 398.5,461.4 398.8,465.9 399.9,463.4 400.1,462.8 401.1,464.5 401.9,466.4 401.6,465.1 402.6,461.8 403.3,463.8 404.2,463.5 404.5,463.8 405.3,462.8 405.7,464.1 406.6,463.3 406.8,465.4 407.9,465.2 407.7,463.4 408.6,463.2 409.9,465.1 410.2,466.8 410.6,466.8 411.9,466.2 412.3,462.0 412.9,466.0 413.2,465.8 414.0,466.5 414.6,465.5 414.8,466.7 415.9,466.6 416.4,471.4 417.3,468.8 417.9,467.8 418.1,468.1 418.8,468.2 419.5,468.8 420.2,468.2 420.7,468.8 421.3,470.4 422.1,470.3 422.7,469.8 423.5,471.3 423.9,470.0 424.3,468.5 424.7,467.6 425.9,469.2 426.2,470.2 426.9,471.0 427.5,472.1 427.9,470.0 428.7,469.8 428.9,472.1 430.0,472.8 430.5,470.7 431.6,472.0 432.0,473.6 432.5,472.3 433.2,471.9 433.9,469.3 434.2,474.1 434.9,473.3 435.5,472.8 436.7,472.1 436.9,471.2 437.1,472.9 438.3,473.0 439.2,474.8 439.1,471.8 440.7,475.6 440.6,473.8 441.4,475.5 441.7,472.7 442.4,474.7 442.8,476.0 443.5,474.6 443.9,472.6 445.1,474.3 445.3,475.6 446.2,473.1 446.8,473.2 447.3,475.6 448.0,474.2 448.6,476.5 449.2,474.1 449.9,473.4 450.5,475.0 450.9,478.2 451.5,475.1 452.2,476.4 453.0,476.9 453.9,475.4 454.5,478.3 454.9,477.2 455.6,477.7 456.1,475.0 456.9,475.0 457.3,473.8 458.0,477.4 458.5,477.5 459.2,478.9 460.2,480.1 460.2,477.9 461.0,478.0 461.5,479.1 462.5,480.7 463.3,477.7 463.4,479.8 463.6,478.7 464.9,478.7 465.5,480.4 465.6,478.4 466.6,478.2 467.2,480.6 467.4,479.8 468.6,479.7 469.2,480.0 469.8,481.0 470.1,479.9 470.8,481.6 471.4,481.2 472.3,482.8 472.6,482.6 473.7,482.2 474.1,480.9 474.2,481.5 475.6,480.6 475.9,485.4 476.4,481.3 477.2,482.5 477.4,483.7 478.4,480.1 478.5,481.0 479.4,481.7 480.5,480.9 481.1,480.7 481.4,481.8 481.9,484.3 482.9,483.7 483.3,482.8 484.0,482.9 484.7,480.7 485.0,484.0 486.0,483.7 486.0,481.8 487.4,483.6 487.4,483.1 488.2,482.8 488.8,482.2 489.7,482.7 490.3,482.5 490.9,484.4 491.5,484.4 492.1,484.4 492.6,483.8 492.9,483.6 493.4,487.0 494.0,481.8 495.1,486.0 495.7,484.9 496.3,484.6 497.0,483.9 497.6,484.4 498.0,483.1 498.5,482.9 499.1,484.7 500.3,482.7 500.9,486.2 501.0,486.6 501.9,480.5 502.7,483.2 503.5,485.7 503.7,485.7 504.5,485.6 505.3,486.1 505.3,486.6 506.1,486.9 506.9,488.2 507.4,485.9 508.6,487.1 508.9,483.8 509.4,485.9 509.8,484.5 510.8,488.1 511.4,489.5 511.8,487.1 512.4,484.7 512.8,486.4 513.7,486.7 514.5,487.0 515.2,488.2 515.7,488.1 516.4,483.4 516.7,488.9 517.3,486.4 518.3,486.4 518.8,489.2 519.1,487.0 520.0,485.6 520.7,485.8 521.3,487.7 521.8,489.0 522.3,489.8 523.1,487.7 524.0,487.4 524.3,490.3 524.7,487.6 525.6,490.3 525.9,488.7 526.8,488.8 527.3,488.3 528.2,489.1 528.6,488.2 529.4,488.0 530.3,488.8 530.4,488.2 530.9,489.6 531.8,489.4 532.3,489.0 533.0,489.2 533.4,489.3 534.3,492.0 534.8,489.8 535.0,489.1 536.0,489.6 536.7,491.0 537.5,489.9 537.8,490.1 538.4,490.1 539.4,490.7 539.6,491.2 540.4,491.3 541.1,488.6 541.8,489.5 542.2,487.5 542.6,492.2 543.7,492.8 544.0,493.1 544.6,491.7 545.8,493.1 546.1,491.6 546.4,491.6 547.1,489.8 547.8,491.0 548.3,491.3 548.7,493.5 549.9,494.6 550.5,491.8 551.0,493.0 551.5,493.0 552.2,491.7 552.9,490.5 553.2,491.9 554.0,491.1 554.5,492.7 555.4,493.1 555.9,493.1 556.2,493.2 557.0,494.2 558.1,492.4 558.2,495.0 559.0,491.6 559.5,494.1 560.5,494.6 560.8,493.1 561.4,492.1 561.8,495.2 562.7,493.5 563.5,495.6 564.1,495.7 564.3,494.7 565.5,494.8 565.8,496.3 566.2,495.5 567.1,493.9 567.5,495.4 568.2,496.1 568.8,495.7 569.5,495.7 570.0,495.4 570.4,495.5 571.5,494.5 571.9,493.9 572.9,497.5 573.4,495.2 574.0,496.4 574.5,494.2 575.4,496.5 575.7,495.3 576.1,500.5 577.0,495.2 577.0,495.4 578.1,498.0 578.9,498.4 579.4,494.1 580.3,497.4 580.8,498.3 581.3,495.6 581.8,498.2 582.8,496.7 583.0,496.1 583.7,497.1 584.6,497.0 585.1,495.9 586.1,500.8 586.2,497.3 586.5,497.0 587.6,499.2 588.4,498.1 588.7,500.1 589.7,498.0 590.3,498.9 590.5,498.7 591.1,498.8 591.6,498.4 592.6,498.7 593.2,501.1 593.8,498.1 594.1,498.3 594.8,498.7 595.3,500.0 595.8,499.8 596.5,500.7 597.1,497.7 598.0,499.9 598.7,499.4 599.4,499.4 599.9,500.0 600.4,497.3 601.1,500.4 601.9,500.3 602.3,498.2 603.0,500.1 603.6,502.4 604.1,499.9 604.9,501.3 605.3,500.3 606.3,499.6 606.4,499.5 607.4,500.3 607.7,502.6 608.9,502.1 609.4,500.1 609.7,502.5 610.3,501.1 610.8,500.4 611.7,502.0 612.4,500.3 613.4,499.5 613.3,503.4 614.4,499.3 614.7,502.5 615.5,499.8 616.2,501.9 616.8,501.8 617.3,501.5 617.8,499.3 618.5,502.1 619.2,502.3 620.0,501.2 620.1,502.4 620.9,503.9 621.3,501.7 622.0,503.1 622.7,501.3 623.7,503.4 624.5,503.8 625.0,506.4 625.1,504.3 626.0,503.8 626.3,505.2 627.3,502.0 628.1,504.9 628.5,502.8 629.2,502.8 629.6,505.1 629.9,504.1 630.5,505.6 631.5,502.0 632.3,504.3 633.0,503.4 633.3,503.8 634.0,501.7 634.7,505.5 635.5,504.6 635.8,503.1 636.3,502.7 637.3,503.4 637.8,506.5 638.4,504.6 638.7,504.4 639.6,505.5 639.8,505.0 640.4,505.3 641.4,506.1 642.0,505.6 642.8,506.4 643.6,503.8 643.9,505.5 644.9,505.0 645.0,505.7 645.9,505.6 646.1,504.9 647.0,505.3 647.6,507.1 648.2,505.2 649.0,504.4 649.1,506.9 650.1,507.4 650.6,505.9 651.4,506.5 652.1,505.3 652.5,506.2 653.1,508.0 653.6,507.6 654.6,506.8 654.9,506.4 655.8,504.6 656.0,507.3 657.2,507.5 657.4,508.4 658.4,509.7 658.7,507.6 659.5,508.5 660.0,505.8 660.8,508.9 661.3,508.6 662.2,509.3 662.7,508.5 663.3,508.2 664.1,509.7 664.2,506.9 665.3,508.7 665.6,509.3 665.9,506.9 667.0,506.5 667.4,508.7 668.4,508.3 668.6,509.0 669.4,509.2 670.0,507.4 670.2,508.9 671.3,510.0 671.6,508.1 672.7,508.3 673.4,507.2 673.7,509.8 674.0,511.4 675.0,507.1 675.6,510.0 676.3,510.2 676.7,508.4 677.2,508.7 678.0,507.8 678.5,508.3 679.6,509.6 679.7,510.3 680.4,509.6 681.1,510.7 681.5,509.9 682.3,508.1 683.0,511.6 683.5,511.3 684.2,508.9 685.1,512.2 685.5,510.6 685.8,510.2 686.6,512.6 687.5,506.9 687.8,508.1 688.6,511.2 689.2,510.0 689.9,509.2 690.4,512.4 691.0,511.2 691.5,508.9 692.4,509.8 692.7,511.8 693.9,513.1 694.1,508.2 694.7,511.2 695.5,510.4 696.0,508.7 696.6,510.8 697.2,509.0 697.7,510.5 698.3,513.4 699.0,512.0 700.0,512.4 700.2,512.2 700.9,511.9 701.5,512.8 702.3,510.1 703.2,511.2 703.3,512.8 704.2,510.8 704.7,511.2 705.2,513.5 706.0,514.0 706.3,511.2 707.3,511.0 707.8,512.9 708.2,512.5 709.3,511.3 709.8,513.1 710.5,513.1 710.6,512.5 711.4,516.3 712.0,514.3 712.9,513.6 713.6,514.0 713.6,516.6 714.6,514.2 715.2,511.8 716.0,513.3 716.5,513.0 716.8,512.2 717.7,513.3 718.1,513.4 718.8,513.0 719.6,512.5 720.1,514.3 720.9,511.2 721.1,514.4 722.5,513.4 722.9,513.8 723.4,510.3 723.6,515.8 724.1,511.3 725.0,512.5 725.7,514.5 726.8,512.9 727.3,513.3 727.5,510.9 728.5,513.3 729.1,514.2 729.5,514.9 730.3,513.7 730.8,514.4 731.2,514.8 731.7,513.3 732.6,513.3 733.4,516.9 733.5,513.3 734.1,516.1 735.2,514.6 735.1,516.5 736.7,513.7 736.8,515.3 737.7,515.1 738.5,514.4 738.5,515.2 739.2,513.8 740.5,514.8 740.6,514.4 741.2,516.0 741.9,514.9 742.7,513.3 743.4,514.7 743.8,515.1 744.3,514.1 745.0,517.1 745.7,515.9 746.5,516.5 746.9,514.5 747.8,515.0 747.9,516.9 748.8,513.7 749.7,516.2 750.2,515.8 750.6,515.1 751.0,515.9 751.7,514.4 752.4,516.2 753.1,514.4 753.6,514.3 754.0,517.9 754.7,515.2 755.6,513.4 756.3,517.5 756.5,515.2 757.3,511.6 757.7,516.3 758.5,517.6 760.0,516.9 759.9,518.8 760.4,516.4 761.0,517.4 761.5,515.3 762.0,516.9 763.0,518.8 763.5,517.5 764.5,517.1 764.5,514.3 765.5,516.4 766.3,515.3 766.3,518.1 767.4,516.1 767.6,517.6 768.6,515.8 769.5,519.7 769.8,515.7 770.5,517.5 770.9,520.9 771.7,517.7 772.5,516.3 772.8,518.3 773.5,518.9 774.2,518.8 774.9,515.0 775.0,518.0 776.0,514.9 776.5,520.3 777.3,517.9 778.1,517.3 778.5,518.8 779.3,518.6 779.5,516.4 780.2,520.2 780.7,517.8 781.6,515.8 782.2,520.1 782.8,520.3 783.2,520.0 784.0,519.1 784.6,517.2" fill="none" stroke="none" marker-start="url(#a4)" marker-mid="url(#a4)" marker-end="url(#a4)"/>
<polyline points="131.9,481.2 132.4,473.5 132.7,467.9 133.5,460.2 134.0,451.4 134.5,446.1 135.5,437.9 135.9,433.1 136.5,426.7 137.1,418.7 138.1,413.0 138.5,405.6 139.4,399.4 139.8,395.3 140.3,389.4 141.2,381.5 141.8,375.8 142.3,368.9 142.7,362.5 143.4,357.3 143.9,351.2 144.7,344.9 145.4,340.2 146.3,335.3 146.9,327.8 147.4,323.5 148.1,316.7 148.5,309.9 149.7,304.5 150.0,303.9 150.9,296.8 151.0,292.7 151.7,289.5 152.4,284.9 152.9,280.7 153.5,277.8 153.9,273.2 154.9,271.8 155.3,267.1 156.1,266.5 156.5,264.4 156.8,260.4 157.9,261.7 158.6,257.4 158.8,258.2 159.5,255.6 160.2,255.5 160.8,253.8 161.2,256.2 162.5,254.5 163.0,254.9 163.2,253.7 163.6,253.5 164.7,253.0 165.6,252.7 166.0,253.7 166.7,253.6 166.9,253.6 167.8,252.9 168.0,254.4 169.3,255.9 169.7,255.8 169.8,257.4 170.4,257.8 171.5,258.0 172.1,259.2 172.6,260.6 173.4,262.2 174.3,263.6 174.6,266.2 174.8,265.5 175.7,266.0 176.1,270.0 176.8,270.3 177.7,271.9 178.2,275.7 178.7,276.0 179.5,276.5 179.9,278.1 180.8,278.6 181.3,280.7 182.0,280.6 182.5,281.8 183.4,283.3 183.8,286.5 184.4,287.8 185.0,287.1 185.7,290.1 186.0,290.2 187.5,292.6 187.4,292.7 188.2,295.2 188.7,295.5 189.3,296.7 190.1,298.2 190.5,299.6 191.2,300.2 191.6,300.7 192.3,304.7 192.9,303.9 194.1,303.7 194.1,304.4 194.8,305.0 195.6,308.1 196.5,310.9 196.5,309.2 197.2,311.5 198.1,311.1 198.8,314.8 199.0,315.1 199.6,316.1 200.4,318.0 201.3,319.3 201.8,319.7 202.6,319.2 203.0,319.4 203.7,320.6 204.4,320.9 204.9,325.2 205.6,324.3 206.0,325.6 206.6,326.6 207.5,329.3 208.0,327.8 208.5,330.5 209.4,330.6 210.0,331.2 210.5,330.5 211.0,334.2 211.9,333.6 212.8,334.9 212.8,336.6 213.3,337.6 214.0,339.6 214.6,339.0 215.2,340.9 215.8,342.2 216.9,343.1 217.5,344.9 218.2,345.2 218.7,347.8 219.1,347.1 220.0,347.6 220.3,350.2 221.0,352.6 221.4,352.1 222.5,353.2 223.1,354.7 223.4,356.4 224.1,357.3 224.8,358.9 225.4,358.0 226.2,362.4 226.6,362.6 227.3,362.2 227.5,365.5 228.4,365.6 228.7,367.6 230.1,365.9 230.6,369.7 231.1,369.0 231.8,367.7 232.6,371.4 233.0,371.2 233.1,371.4 234.0,373.0 234.2,372.1 235.1,375.5 235.7,375.5 236.5,376.3 237.2,378.8 237.6,378.2 238.3,378.3 239.1,378.7 239.6,380.4 240.2,382.3 240.4,381.4 241.4,381.6 242.3,384.4 242.8,384.2 243.0,384.8 243.9,387.8 244.6,385.0 245.0,387.2 246.0,385.7 246.3,388.0 247.0,389.6 247.7,390.8 248.7,388.9 248.9,391.7 249.4,392.3 250.3,391.9 250.7,395.3 251.4,393.3 251.6,392.9 252.7,394.9 253.3,393.0 253.6,397.2 254.8,397.2 255.1,396.2 255.7,397.8 256.1,398.3 256.7,400.3 257.5,398.0 257.9,397.8 258.9,397.5 259.6,399.9 260.0,399.0 260.4,401.0 261.2,402.1 261.7,401.7 262.6,401.6 263.2,404.4 263.7,403.4 264.4,404.3 265.3,405.6 266.0,403.5 266.2,404.4 267.0,408.7 267.5,406.2 267.9,405.7 269.0,407.0 269.5,407.1 270.0,406.9 270.7,408.3 271.2,409.2 271.7,409.6 272.8,410.7 273.3,408.6 273.8,409.4 274.5,412.4 275.2,411.5 275.5,413.8 276.3,413.3 276.8,411.8 277.6,414.4 278.0,413.1 279.2,415.0 279.2,416.6 280.0,418.1 280.6,416.0 281.1,417.3 282.0,417.3 282.4,418.3 282.9,414.9 283.6,417.8 284.1,419.1 285.1,419.7 285.6,418.7 286.3,421.0 286.5,421.7 287.4,421.0 287.8,421.0 288.6,421.3 289.5,422.3 289.9,423.9 290.4,424.7 291.3,422.8 291.9,422.7 292.7,423.2 292.6,425.8 293.6,425.3 294.1,425.7 294.6,426.4 295.4,426.6 295.8,426.4 296.2,425.7 297.1,426.6 297.8,427.9 298.9,428.6 299.0,428.1 299.5,428.4 300.0,431.0 300.9,429.1 301.6,430.3 302.3,430.1 302.6,429.8 303.3,429.4 303.6,430.9 304.8,431.0 305.0,433.3 305.4,431.3 306.8,432.5 307.3,434.2 307.9,433.6 308.5,434.7 308.9,435.5 309.9,432.8 310.1,434.7 311.3,434.4 311.6,437.5 311.8,436.1 313.0,437.2 313.8,439.0 314.0,436.8 314.9,437.7 315.2,438.4 315.8,437.9 316.0,440.1 317.4,439.9 317.7,440.5 318.4,439.6 318.8,439.5 319.4,439.8 320.4,440.1 320.8,438.8 321.4,441.6 321.8,442.5 322.7,441.8 323.5,441.5 323.9,442.5 324.5,443.0 324.9,443.4 326.1,445.6 326.3,442.6 327.0,444.4 328.0,445.1 328.2,444.6 328.6,444.5 329.3,443.9 330.1,444.7 331.1,446.6 331.4,447.8 332.0,445.5 332.8,447.1 333.5,447.5 333.7,448.4 334.8,447.7 335.3,448.2 335.8,449.0 335.9,446.7 337.0,448.5 337.9,446.5 338.1,446.5 339.3,448.2 339.5,447.5 339.9,450.4 340.8,451.2 341.4,449.8 342.1,450.3 342.5,450.4 343.4,450.7 343.7,451.4 344.4,451.9 344.8,451.1 345.5,451.0 346.3,451.6 346.8,453.5 347.4,452.2 348.1,454.8 348.8,452.9 349.5,455.2 350.1,452.2 350.8,453.1 351.3,454.8 351.7,455.1 352.1,454.5 353.0,457.6 353.5,455.3 354.0,455.8 355.3,455.0 355.2,458.1 356.3,457.3 356.9,457.0 357.4,454.6 358.6,457.5 358.7,456.6 359.1,458.0 360.3,458.9 360.4,457.0 360.9,458.5 361.6,459.6 362.3,459.0 363.0,458.6 363.7,457.9 363.9,458.6 364.9,458.1 365.9,461.2 366.0,460.3 366.7,458.8 367.5,460.6 368.2,459.2 368.5,456.8 369.0,462.9 369.6,463.1 370.7,459.8 371.2,461.0 371.2,462.4 371.9,461.9 372.7,461.5 373.2,462.1 374.2,462.7 374.8,462.4 375.8,463.6 376.2,463.3 376.7,462.8 377.5,464.0 377.7,461.9 378.2,466.2 379.1,462.2 379.9,464.6 380.0,465.3 381.2,465.6 381.8,465.6 382.1,467.1 382.9,464.1 383.4,465.7 384.1,466.2 384.9,465.5 385.2,465.5 386.2,468.2 386.7,465.7 387.4,466.2 387.4,466.7 388.0,466.9 389.2,467.6 389.5,467.3 390.1,468.2 390.8,468.1 391.3,468.7 392.1,470.1 392.6,467.3 393.3,470.8 394.1,468.2 394.4,469.9 395.5,469.4 395.4,468.9 397.0,466.9 396.8,471.8 397.8,468.8 398.5,468.9 399.0,471.6 399.7,470.5 400.2,473.1 400.5,473.0 401.5,471.8 402.3,471.4 402.6,472.2 403.0,469.6 403.8,471.8 404.6,471.9 405.2,471.3 406.0,472.4 406.5,470.3 407.1,473.6 407.2,474.3 408.7,471.0 408.9,473.1 409.7,475.1 410.1,473.8 410.7,472.0 411.4,472.2 412.3,474.9 412.9,476.3 413.4,472.6 414.3,474.2 414.4,473.3 415.2,474.1 415.6,475.1 416.6,474.8 417.0,474.1 417.8,478.0 418.5,475.1 418.4,475.2 419.9,477.1 420.1,475.7 420.6,475.6 420.9,477.3 421.8,474.8 422.1,477.3 423.2,477.8 423.7,477.5 424.8,476.5 424.9,476.9 425.8,474.7 426.5,477.0 427.3,477.7 427.4,478.6 428.3,477.8 428.4,477.2 429.1,476.7 429.9,477.9 430.6,478.3 431.0,479.9 431.7,478.4 432.6,477.9 433.0,478.5 433.7,478.1 434.1,478.6 435.2,476.1 435.9,477.1 436.2,477.7 436.8,480.1 437.7,479.5 438.1,479.9 438.5,481.4 439.0,478.6 439.8,481.6 441.0,480.7 441.0,479.4 442.3,482.5 442.4,478.7 442.9,479.2 443.9,480.6 444.2,481.5 444.9,480.8 445.3,478.4 445.8,480.9 446.6,481.3 447.4,485.0 447.8,483.5 448.2,482.0 449.3,480.5 449.8,482.5 450.4,480.6 450.9,482.6 451.2,482.9 452.6,482.0 452.8,483.0 453.6,482.3 454.4,482.1 455.0,485.1 455.4,483.9 456.0,482.9 456.7,482.4 457.4,483.7 458.0,484.4 458.4,484.9 459.2,485.8 459.8,484.6 460.5,482.6 461.0,486.9 461.9,485.9 462.3,485.6 463.0,486.4 463.5,482.7 464.0,484.3 464.5,484.3 465.3,486.6 466.0,483.6 466.8,484.9 467.2,487.4 467.7,486.4 468.3,485.1 469.3,488.2 469.7,484.1 470.2,486.6 471.0,485.8 471.2,486.9 472.2,485.9 472.7,485.3 473.3,486.8 473.8,484.9 474.8,487.4 475.6,486.4 475.6,488.2 476.5,486.5 477.2,486.3 478.2,487.8 478.2,489.0 478.8,484.7 479.6,487.7 480.6,488.5 480.8,485.8 481.5,486.7 482.4,488.8 482.2,486.9 482.8,487.3 484.1,490.5 484.7,487.0 484.9,487.2 485.9,485.4 486.4,487.1 487.1,487.0 487.5,491.0 488.2,490.4 488.7,487.2 489.5,491.6 490.1,490.1 491.1,488.9 491.5,490.3 491.6,489.8 492.7,488.4 493.5,487.1 493.9,488.3 494.7,489.6 495.1,489.2 495.8,488.8 496.1,491.1 497.1,488.5 497.3,491.2 498.4,489.4 498.5,490.3 499.0,488.7 500.1,490.3 500.6,489.3 501.3,488.1 502.0,490.5 502.5,490.5 502.9,491.8 503.8,491.1 504.4,489.5 505.1,490.1 506.0,487.7 506.1,489.6 506.9,492.9 507.6,493.2 508.0,492.3 508.5,491.8 509.2,492.2 510.2,492.2 510.5,489.3 511.3,490.5 511.7,493.3 512.5,493.4 512.9,492.3 513.5,491.6 514.3,491.6 514.9,491.5 515.8,491.0 515.8,489.8 516.9,492.6 517.7,491.9 518.3,492.3 518.6,495.0 519.1,493.6 519.8,491.9 520.6,493.7 521.1,491.1 521.8,494.6 522.5,493.6 522.8,493.1 523.4,494.2 524.0,495.5 524.6,493.0 525.4,492.4 526.1,496.6 527.2,493.9 527.4,496.0 527.9,493.2 528.8,494.7 529.0,493.5 529.9,495.3 530.6,494.2 531.2,493.7 531.7,496.8 532.2,495.3 532.6,492.2 533.5,494.7 534.0,493.9 534.9,493.6 535.3,494.6 536.1,494.8 536.3,495.6 537.4,494.6 537.7,493.3 538.1,495.2 538.8,497.2 539.6,494.3 540.6,497.0 541.1,496.9 541.3,495.8 542.2,496.9 542.8,495.6 543.1,496.2 543.8,495.5 544.3,497.6 545.1,498.9 545.4,496.3 546.4,498.9 547.0,494.5 547.6,496.3 548.2,496.2 549.2,500.0 549.6,497.0 550.3,499.0 551.0,495.3 551.7,498.3 552.2,499.0 552.6,498.3 553.1,494.8 553.8,498.8 554.5,499.7 555.2,500.5 555.8,499.4 556.7,496.7 557.0,498.8 558.1,500.4 558.5,498.2 558.8,500.1 559.7,498.8 559.6,499.7 561.1,500.7 561.5,498.8 562.1,503.7 562.3,500.2 563.8,500.5 563.8,499.2 564.5,500.4 565.4,500.0 565.7,498.5 566.2,498.5 567.1,501.0 567.4,500.6 568.4,497.3 568.9,498.0 569.7,500.6 569.8,501.0 571.0,502.0 571.4,499.6 572.4,502.2 572.4,501.1 573.6,500.9 574.0,501.5 574.6,503.1 574.9,502.6 575.8,503.2 576.4,501.1 576.7,501.8 577.3,500.7 578.0,501.6 579.1,501.9 579.4,501.9 580.2,503.6 580.7,503.3 581.3,503.8 581.9,503.0 582.4,504.4 583.4,503.2 583.8,504.4 584.4,503.9 584.7,504.3 585.7,503.3 586.1,501.8 586.7,501.6 587.7,506.3 587.8,504.3 588.6,504.5 589.4,503.7 590.2,503.4 590.4,508.0 591.2,502.7 591.8,504.2 592.2,504.3 592.6,502.9 593.3,502.8 594.4,503.7 594.9,504.3 595.2,504.2 596.0,506.0 596.7,503.4 597.3,505.6 598.0,507.2 599.1,506.5 599.1,503.8 599.9,501.4 600.3,506.7 601.0,506.3 601.5,504.9 602.3,507.5 602.8,505.3 603.6,506.1 604.2,504.6 604.6,506.5 605.8,505.6 605.8,505.6 606.7,507.8 607.7,506.7 607.8,504.5 608.8,507.5 609.4,507.8 609.8,505.7 610.0,506.3 611.3,507.0 611.6,506.7 612.1,507.3 613.1,508.1 613.3,506.6 614.3,510.2 614.6,506.5 615.5,506.8 615.7,510.3 616.5,510.9 617.0,507.8 617.7,507.6 618.5,506.5 619.0,509.5 619.7,508.3 620.6,507.0 620.9,508.8 621.2,510.2 622.1,509.3 622.8,511.5 623.6,510.1 624.2,509.2 624.8,508.7 625.2,509.5 626.0,510.5 626.2,510.1 627.4,510.5 627.8,509.4 628.5,510.2 628.9,510.9 629.6,509.1 630.1,507.7 631.0,511.8 631.2,510.4 632.3,509.1 632.8,510.0 633.7,509.5 633.9,507.6 634.6,509.7 635.2,508.1 635.8,510.4 636.4,510.0 636.8,511.8 637.4,510.2 638.2,510.9 638.9,510.1 639.3,510.1 639.9,508.8 640.7,512.1 641.5,511.0 642.0,510.1 642.8,511.2 643.4,510.5 644.0,510.1 644.4,511.5 645.0,512.9 645.3,511.0 646.2,509.5 647.1,510.6 647.4,514.0 648.5,510.5 649.1,513.3 649.4,511.4 650.3,512.8 650.4,511.8 651.1,509.9 651.9,511.5 652.6,515.0 653.1,512.0 653.6,513.0 654.8,511.9 655.1,512.2 655.7,512.9 656.4,513.2 656.9,515.6 657.5,512.7 658.0,512.5 658.4,512.0 659.7,511.2 659.8,510.8 660.3,514.0 661.1,510.6 661.5,515.1 662.9,514.4 663.2,512.9 664.0,511.9 664.6,513.5 665.1,513.6 665.7,515.1 666.0,512.7 666.8,513.3 667.3,513.8 668.1,513.5 668.5,513.1 669.5,511.7 670.1,511.9 670.5,513.3 670.8,513.9 671.9,515.6 672.6,517.5 673.0,516.7 673.4,515.0 674.3,517.1 675.1,514.5 675.1,514.0 676.2,517.9 676.4,513.4 677.4,514.3 678.3,514.6 678.6,517.0 679.3,514.3 679.8,516.2 680.4,514.7 681.5,513.6 682.0,515.7 682.2,515.6 682.9,513.9 683.6,514.4 684.6,514.5 684.8,517.0 685.6,516.3 686.0,516.1 686.4,516.5 687.5,515.3 687.9,516.6 688.4,515.2 689.0,514.3 689.6,515.2 690.2,516.5 690.7,516.4 691.9,517.8 692.3,514.1 693.0,516.2 693.4,517.1 694.2,515.3 694.7,517.0 695.6,516.2 696.1,515.2 696.6,518.3 697.1,515.0 697.6,518.3 698.3,516.4 698.9,515.8 699.6,515.9 700.0,516.2 701.2,516.1 701.6,517.7 701.7,514.8 702.5,519.1 703.1,518.6 704.1,519.4 704.8,516.3 705.0,514.5 706.0,516.9 706.4,517.5 707.3,518.2 708.0,517.2 708.4,517.8 709.1,518.2 709.6,516.0 710.1,520.5 710.6,516.7 711.5,518.6 712.1,519.7 712.6,517.3 713.3,518.4 713.9,520.7 714.3,518.1 715.1,520.0 716.0,519.0 716.4,519.0 717.3,519.7 717.4,518.5 718.0,518.6 718.9,520.2 719.7,519.3 720.0,519.7 720.9,517.5 721.6,519.1 722.2,520.8 722.6,520.5 723.2,519.8 723.5,518.7 724.5,518.6 725.1,520.1 726.0,521.4 726.1,519.6 726.8,521.4 727.4,519.3 728.4,521.4 728.3,518.4 729.2,520.1 730.5,518.5 730.8,520.8 731.0,520.8 731.9,518.8 732.7,519.1 733.3,519.6 733.7,518.2 734.2,519.0 735.2,519.2 735.6,521.4 736.4,522.3 737.0,519.9 737.4,520.2 738.4,520.9 738.6,519.9 739.4,520.3 739.8,521.9 740.5,521.1 741.2,520.7 741.7,520.1 742.5,522.9 743.3,520.2 744.1,521.2 744.6,519.7 744.9,520.4 745.8,521.4 746.3,520.7 747.2,522.0 747.2,521.5 748.3,519.6 748.5,518.4 749.5,522.9 749.8,520.8 750.7,523.6 751.1,521.7 751.4,520.7 752.2,522.5 752.9,521.5 753.6,521.9 753.8,520.7 754.6,522.9 755.3,523.5 756.0,521.4 756.8,524.6 757.2,521.4 757.6,522.6 758.6,520.1 759.1,519.8 760.0,525.2 760.3,524.4 761.2,524.0 761.5,520.3 762.3,522.9 762.9,523.2 763.6,522.8 764.0,523.1 764.7,521.6 765.2,522.6 766.0,521.4 766.8,522.5 767.9,523.5 767.9,522.0 768.6,522.7 769.1,522.6 770.0,523.2 770.4,524.5 771.2,523.6 771.7,523.9 772.7,521.4 773.1,522.9 773.1,524.6 774.1,522.4 774.7,523.0 774.9,522.3 775.8,525.5 776.5,523.1 777.0,522.8 777.8,524.6 778.0,525.3 779.2,524.6 779.8,525.3 780.3,524.3 780.8,523.9 781.5,523.5 782.0,523.4 783.0,523.4 783.5,524.7 784.4,524.1 784.5,524.4" fill="none" stroke="none" marker-start="url(#a5)" marker-mid="url(#a5)" marker-end="url(#a5)"/>
<polyline points="132.0,388.3 132.4,379.4 133.1,372.3 133.4,363.8 134.3,357.2 134.9,348.6 135.8,340.0 136.5,326.9 136.8,309.1 137.3,298.0 138.4,290.9 138.6,282.2 139.2,270.5 139.9,258.5 140.6,248.1 141.2,239.5 141.6,231.2 142.3,221.0 143.3,212.7 143.9,205.4 144.3,197.8 144.9,193.4 145.4,188.7 146.3,186.4 146.6,185.5 147.3,182.4 147.8,180.1 148.4,180.2 149.2,179.1 149.8,178.8 150.3,175.5 151.0,175.1 151.7,175.3 152.2,173.5 152.8,175.9 153.5,173.9 154.3,176.4 155.0,177.2 155.4,179.8 155.9,183.0 156.6,184.8 157.6,187.1 158.0,189.0 158.3,188.8 159.1,193.1 159.6,193.3 160.3,196.7 160.6,199.1 161.6,201.2 161.9,204.3 162.7,205.3 163.7,209.7 164.2,210.8 164.5,213.4 165.1,215.1 165.7,217.4 166.2,218.7 167.0,222.8 167.7,222.3 168.2,225.9 169.1,227.7 169.6,229.7 170.1,232.3 171.2,233.5 171.6,237.1 172.1,239.2 173.1,240.7 173.6,243.5 173.8,244.1 174.6,245.7 175.1,249.1 175.6,251.7 176.8,256.4 177.3,256.0 177.4,259.1 178.4,260.8 178.6,263.8 179.7,263.7 180.2,265.9 180.7,266.7 181.6,267.7 182.0,269.2 182.6,270.9 183.4,274.4 183.8,274.9 184.7,276.0 185.1,277.6 185.9,278.6 186.5,280.5 187.1,282.0 187.4,284.0 188.6,285.7 188.8,284.8 189.8,287.9 190.0,290.3 190.7,289.6 191.3,291.7 192.2,293.4 192.5,295.6 193.3,296.5 193.5,297.1 194.3,299.1 195.1,300.9 195.6,301.7 195.9,304.3 197.0,304.3 197.3,304.3 198.5,305.8 198.7,307.7 199.8,308.9 200.1,310.9 200.7,312.0 201.2,314.5 201.8,314.9 202.6,316.8 202.7,316.0 203.9,317.5 204.1,319.8 204.9,320.5 205.1,322.2 206.3,323.1 207.0,323.5 207.5,326.9 208.1,327.6 208.6,326.3 209.3,328.4 210.2,330.2 210.5,332.0 211.3,332.6 211.9,332.6 212.4,335.8 213.1,336.1 213.7,338.6 214.2,339.0 215.4,340.8 215.4,341.9 216.5,343.2 217.0,343.1 217.0,345.7 218.0,346.2 218.8,346.0 219.4,348.0 219.7,349.3 220.5,351.2 220.9,352.6 221.5,352.1 222.3,355.0 223.0,355.4 223.9,355.6 224.3,358.6 225.0,358.1 225.2,358.8 225.8,361.8 226.6,363.0 227.6,362.5 227.6,365.2 228.2,366.1 229.1,365.6 230.0,369.0 230.1,367.9 231.0,369.1 231.4,367.4 232.5,371.2 233.0,370.9 233.5,372.8 234.1,371.5 234.7,375.2 235.4,376.3 235.8,377.6 236.4,373.5 237.0,377.9 237.8,378.4 238.3,375.8 239.2,378.9 239.3,380.3 240.4,382.6 241.0,381.0 241.8,382.8 242.1,383.3 242.5,384.4 243.2,384.3 244.2,386.3 244.6,387.1 245.2,385.4 245.8,388.6 246.5,387.4 247.1,388.5 247.4,390.6 248.2,390.1 249.2,391.3 249.9,392.1 250.2,392.5 250.7,391.9 251.7,392.1 252.0,394.4 252.5,395.0 253.3,395.2 254.1,395.1 254.9,396.8 255.1,396.4 255.9,395.5 256.4,397.8 257.3,398.5 257.7,399.3 258.3,398.0 258.7,398.7 259.5,400.3 260.1,400.0 260.1,400.9 261.5,402.4 262.0,402.3 262.6,404.3 263.2,403.2 263.9,405.1 264.5,404.9 264.8,407.0 265.7,404.7 266.4,405.1 267.0,407.0 267.3,405.5 268.2,406.1 268.6,407.3 269.5,407.9 270.3,406.4 270.9,408.7 271.2,408.6 271.8,409.3 272.4,410.0 273.2,410.1 273.7,411.9 274.3,411.8 274.5,411.5 275.5,412.2 276.1,413.7 276.8,413.9 277.7,414.9 277.9,413.8 278.5,414.6 279.5,417.1 279.8,415.3 280.6,417.6 281.3,417.1 281.8,416.2 282.3,415.5 283.3,418.2 284.0,417.2 284.1,417.6 284.9,416.9 285.7,420.6 286.1,419.8 286.6,420.1 287.3,421.0 288.2,421.2 288.5,421.5 289.3,422.3 290.0,421.9 290.4,419.6 291.3,423.8 291.9,423.9 292.6,423.8 293.2,426.0 293.3,423.0 294.4,421.7 295.0,427.1 295.7,426.3 295.9,424.3 296.9,426.1 297.4,427.7 297.7,425.9 298.8,428.4 299.0,430.6 299.6,430.1 300.5,428.8 300.9,429.6 301.8,428.5 302.3,430.2 303.0,430.0 303.7,429.6 304.2,429.5 305.0,433.7 305.6,431.9 305.9,431.0 306.8,432.1 307.4,434.7 307.9,435.2 308.7,432.9 309.4,434.2 309.9,435.4 310.1,434.3 311.1,433.6 311.6,434.2 312.2,435.7 312.9,435.1 313.4,434.8 314.4,436.4 314.8,438.1 315.3,438.2 316.1,437.4 316.7,440.3 317.4,437.4 317.9,438.6 318.4,437.4 319.1,440.3 319.2,439.5 320.0,437.9 321.1,439.3 321.5,442.7 322.5,441.8 323.1,441.3 323.1,442.6 324.1,439.9 325.2,441.1 325.1,440.8 325.9,441.7 326.4,442.6 327.1,444.0 327.7,444.8 328.3,445.1 329.1,447.5 329.4,443.9 330.3,444.8 330.7,445.7 331.5,444.3 332.1,445.3 332.5,446.4 333.3,445.1 333.8,447.0 334.4,448.2 335.4,445.6 335.4,444.4 336.5,447.6 337.2,446.5 337.5,448.2 338.5,447.7 339.1,448.9 339.3,450.2 340.2,450.0 340.8,448.8 341.2,448.1 342.1,446.7 342.7,447.3 343.1,449.3 343.5,450.6 344.5,449.9 344.9,450.2 345.4,449.2 346.2,449.4 346.5,449.5 347.5,452.7 348.5,449.7 348.3,453.3 349.5,451.5 349.9,453.6 350.6,453.4 351.1,454.3 352.0,455.1 352.5,452.9 353.0,452.9 353.5,453.8 354.3,453.7 355.2,455.7 355.4,455.0 356.3,455.4 356.9,456.2 357.1,455.3 358.3,457.5 358.7,454.1 359.8,457.0 360.3,457.5 360.5,456.2 361.2,456.5 361.6,458.8 362.2,457.5 363.2,455.7 363.6,456.7 364.2,459.9 364.9,457.8 365.7,460.8 366.3,461.1 366.8,459.4 367.4,460.5 368.0,459.0 369.0,459.8 368.9,459.6 369.7,461.5 370.6,459.3 371.2,461.0 372.0,461.4 372.6,462.3 373.4,459.0 373.4,459.7 374.3,461.1 374.8,462.1 375.7,462.8 376.1,463.0 376.9,465.6 377.2,464.0 378.0,464.1 378.5,462.9 379.1,464.8 379.7,464.8 380.2,465.0 381.3,464.2 381.7,465.3 382.5,466.7 382.7,463.8 383.1,462.2 384.0,466.3 384.7,466.4 385.5,465.3 386.2,465.2 386.9,469.6 387.5,465.5 388.0,464.7 388.5,465.9 389.0,467.3 389.9,466.0 390.2,466.5 390.8,467.6 391.7,466.8 392.2,467.7 393.0,467.7 393.3,466.5 394.3,468.2 394.8,466.7 395.3,469.7 395.8,467.4 396.3,468.5 396.9,466.5 398.1,468.6 398.1,467.7 399.1,471.5 399.6,469.5 400.2,470.5 400.8,467.7 401.5,468.5 402.3,470.1 402.9,468.7 403.4,472.2 403.7,470.3 404.3,471.3 405.6,471.6 405.6,471.2 406.2,472.6 407.3,470.8 407.4,472.4 408.5,473.7 409.1,472.5 409.6,472.6 410.4,472.1 410.5,472.8 411.2,473.8 412.0,472.7 412.7,471.0 413.3,473.6 414.0,473.3 414.4,474.3 414.7,473.9 415.8,476.1 416.3,472.6 417.2,473.0 418.0,475.3 418.3,473.2 419.0,475.2 419.3,474.9 420.3,472.5 420.8,476.1 421.4,477.2 422.1,475.8 422.4,473.8 423.3,476.8 423.9,474.6 424.8,475.9 424.7,476.8 425.7,475.3 426.7,474.3 426.8,476.5 427.5,476.7 428.5,475.8 429.3,476.0 429.4,478.2 429.9,477.2 430.5,476.8 431.2,476.8 431.7,478.0 432.3,478.0 433.2,477.8 433.8,476.3 434.5,477.8 435.0,477.6 435.4,478.6 436.4,480.2 436.9,480.0 437.3,479.8 438.0,479.2 438.8,478.7 439.3,479.7 439.9,478.8 440.7,479.1 441.4,478.6 441.7,479.7 442.4,479.8 442.8,482.5 443.6,480.9 444.4,479.8 445.1,481.4 445.6,479.9 446.1,482.0 446.6,481.8 447.4,484.7 447.8,479.6 448.6,481.1 449.2,481.1 449.7,481.8 450.5,482.5 451.1,480.4 451.8,480.8 452.2,482.3 453.1,483.3 453.9,480.7 454.2,480.2 455.0,483.9 455.3,483.6 456.0,484.0 456.3,481.5 457.3,482.6 457.7,483.3 458.6,483.7 458.8,483.1 459.6,483.3 460.4,484.8 461.1,483.0 461.3,483.0 462.2,483.2 463.4,483.3 463.7,484.2 464.2,483.9 464.2,483.7 465.2,486.3 466.1,484.9 466.6,484.2 467.3,486.4 468.0,484.1 468.5,485.0 469.2,485.0 469.4,484.5 470.8,484.8 470.9,485.5 471.4,483.7 472.5,485.1 472.9,486.1 473.6,486.2 473.9,486.4 474.7,489.1 475.4,487.1 475.7,486.1 476.5,486.2 477.1,486.5 477.7,487.2 478.2,486.3 478.8,488.8 479.7,485.5 480.3,487.8 481.1,487.7 481.5,485.7 482.0,488.1 482.4,488.1 483.4,486.6 483.9,490.5 485.0,488.6 485.7,487.3 486.1,487.2 486.3,486.9 486.8,488.3 487.6,488.2 488.1,486.3 489.2,486.9 489.6,487.4 490.1,487.9 490.8,488.0 491.6,487.7 491.8,489.5 492.7,489.9 493.0,488.9 493.8,486.1 494.4,488.8 495.2,489.8 495.8,489.0 496.6,489.5 497.1,489.4 497.5,487.4 498.0,486.2 498.7,490.3 499.4,488.9 500.0,490.2 500.6,489.3 501.5,489.6 502.1,491.6 502.5,488.4 503.1,490.0 503.8,488.7 504.4,490.3 505.0,490.9 505.3,491.2 506.2,490.6 506.5,488.7 507.5,490.9 508.3,491.8 508.6,492.0 509.4,493.6 509.9,491.6 510.5,489.7 511.6,490.4 512.0,491.2 512.6,492.6 513.0,489.8 513.8,492.6 514.3,492.3 515.1,490.4 515.4,492.4 516.2,490.7 516.7,491.8 517.2,491.5 518.4,492.3 518.8,490.6 519.1,492.8 519.6,489.5 520.4,491.8 521.0,491.7 521.7,494.5 522.1,493.3 522.9,492.1 523.7,491.7 524.3,492.9 524.5,492.2 525.5,496.0 525.9,489.6 526.5,493.4 527.3,490.2 527.8,494.8 528.7,492.6 529.4,495.7 529.8,493.1 530.3,495.3 531.4,494.3 532.1,495.6 532.4,494.2 532.9,490.5 533.8,493.5 534.5,492.5 534.7,495.8 535.8,495.4 536.0,494.8 536.9,495.5 537.2,495.3 537.9,494.4 538.4,497.8 539.1,495.7 540.0,495.2 540.2,493.7 540.9,494.9 541.7,495.8 542.1,495.7 543.3,495.4 543.2,496.1 544.6,494.8 544.6,496.3 545.5,494.5 546.3,495.4 546.7,495.7 546.9,497.9 547.8,497.5 548.5,497.1 549.2,495.6 549.9,496.7 550.5,498.3 551.2,499.0 551.4,495.6 552.4,497.1 552.4,497.9 553.4,498.3 553.8,497.9 554.3,498.9 555.4,496.3 555.9,500.2 556.7,496.9 556.8,498.5 557.5,499.2 558.3,500.2 558.8,499.9 559.6,500.0 560.1,500.6 560.8,498.9 561.2,500.1 562.3,501.3 562.6,498.4 563.1,497.7 564.1,498.3 564.7,501.5 565.2,501.4 565.8,499.4 566.3,500.3 567.0,500.7 567.2,501.5 568.0,497.8 568.7,499.6 569.6,500.1 570.4,500.9 570.7,500.7 571.3,500.3 572.2,501.2 572.5,497.6 573.4,505.0 573.9,502.1 574.2,502.3 575.2,500.4 575.8,501.9 576.1,504.1 576.8,503.9 577.3,501.7 578.5,500.1 579.2,502.0 579.6,501.5 580.4,503.1 580.4,500.5 581.6,502.0 582.3,502.6 582.9,501.8 583.0,503.8 584.0,501.1 584.4,501.1 585.2,502.3 585.5,503.9 586.3,502.5 586.8,502.2 587.6,504.1 588.1,503.5 589.0,502.6 589.5,503.5 590.1,503.1 590.6,504.3 591.2,503.8 591.8,502.7 592.6,503.2 593.1,503.4 593.8,504.5 594.3,504.6 594.9,503.1 595.4,504.0 595.8,504.7 596.9,505.8 597.5,504.8 597.8,507.1 599.0,504.7 599.0,505.7 600.1,504.4 600.6,503.7 601.2,505.2 602.0,505.7 602.6,505.6 603.0,505.5 603.4,504.9 604.0,504.4 604.9,505.1 605.8,506.2 606.3,506.9 606.7,501.5 607.4,506.7 608.1,507.4 608.9,507.7 609.0,506.6 610.0,507.1 610.5,505.7 610.9,506.3 611.5,507.1 612.6,505.1 613.0,505.6 613.5,507.0 614.2,505.1 615.0,506.9 615.4,505.0 616.3,507.3 616.6,507.1 617.1,506.5 617.9,506.1 618.3,506.7 619.1,504.5 620.0,507.0 620.7,507.7 621.1,509.2 621.6,507.1 622.0,507.6 622.6,509.7 623.5,510.2 624.1,507.4 624.6,509.5 625.2,509.7 626.3,509.0 626.8,507.1 627.2,507.2 627.8,509.3 628.7,511.6 629.1,508.5 629.7,510.8 630.0,511.3 630.6,507.3 631.1,508.2 631.7,511.0 632.8,510.4 633.4,510.0 633.8,509.3 634.7,510.2 635.3,508.7 635.8,512.8 636.2,508.1 637.4,507.4 638.0,510.0 638.2,511.7 639.3,509.3 639.6,509.9 640.0,508.8 640.7,510.1 641.1,508.9 642.0,509.0 642.4,508.5 643.5,509.8 644.0,513.0 644.3,510.5 645.3,510.9 645.4,513.7 646.4,510.0 647.1,509.6 647.7,511.7 648.0,509.5 648.9,511.6 649.5,512.7 650.1,509.9 651.0,510.7 651.7,513.6 652.3,510.1 652.5,510.7 653.1,512.0 653.8,511.3 654.5,510.7 654.7,513.9 655.6,511.2 656.7,512.4 656.7,511.5 657.4,511.9 658.0,510.4 658.9,513.5 659.4,511.8 660.0,514.1 660.4,511.0 661.4,511.9 661.9,513.3 662.4,512.9 663.1,511.9 663.9,512.7 664.1,511.2 664.7,513.1 665.4,509.6 666.1,513.4 666.3,515.0 667.4,514.4 668.3,514.4 668.7,512.9 669.5,514.1 669.4,513.0 670.6,513.5 671.5,513.5 672.1,509.4 672.3,515.0 672.9,514.5 673.8,515.0 674.1,512.8 674.8,515.0 675.2,514.8 676.2,511.3 676.8,512.0 677.7,514.4 678.1,513.5 678.5,514.4 679.2,513.7 679.6,516.5 680.5,512.2 681.1,513.0 681.8,513.5 682.5,513.1 682.6,514.2 683.7,514.9 684.4,513.3 684.6,515.6 685.8,516.9 685.9,516.7 687.2,517.9 687.5,516.8 688.1,515.4 688.6,517.8 689.4,516.5 689.6,518.0 690.3,515.4 690.6,513.0 691.8,514.3 692.1,516.1 693.1,516.6 693.6,515.7 693.9,517.3 694.9,514.6 695.4,515.2 696.0,517.5 696.7,516.3 697.2,516.5 697.9,518.2 698.7,517.9 698.9,515.5 699.5,516.8 700.2,514.4 701.2,516.7 701.5,517.3 702.6,514.6 702.2,518.9 703.3,519.5 704.0,517.6 704.7,518.3 705.6,519.1 705.9,516.9 706.3,518.6 707.3,517.8 708.1,515.4 707.9,516.2 709.1,516.7 709.7,518.9 710.1,517.7 710.8,518.9 711.6,517.1 712.1,516.1 712.7,520.5 713.1,521.4 714.0,518.4 714.5,517.7 715.2,519.6 715.7,516.7 716.5,517.9 717.2,516.3 717.7,518.9 718.5,518.6 718.7,517.9 719.7,517.6 720.2,516.5 720.7,517.5 721.4,520.2 721.5,518.2 722.7,520.3 723.2,517.6 723.4,518.7 724.6,518.3 725.0,518.6 725.8,520.0 726.3,516.4 727.1,520.1 727.6,520.1 728.2,519.2 729.0,519.4 729.6,519.0 729.6,520.3 730.7,519.5 731.2,518.4 731.7,519.7 732.8,520.8 733.4,520.1 733.6,519.7 734.2,520.0 735.2,519.2 735.6,519.3 736.2,517.5 736.5,519.7 737.5,521.3 738.4,519.6 738.7,518.9 739.4,521.3 740.4,520.4 740.8,520.5 741.5,520.9 742.0,521.3 742.7,520.4 742.8,519.4 743.6,522.8 744.0,520.7 745.4,519.6 745.6,520.9 746.2,522.3 746.7,519.0 747.3,522.6 747.5,520.7 749.1,523.5 749.3,521.9 750.0,520.9 750.3,522.7 751.2,522.8 751.9,520.8 752.4,521.6 753.2,520.7 753.5,522.6 754.3,519.6 755.1,521.2 755.6,518.8 756.2,522.3 756.7,518.8 757.2,520.3 758.1,522.1 758.5,521.3 759.0,521.3 760.0,520.6 760.2,521.3 761.0,519.7 761.9,522.4 762.5,523.1 762.9,523.1 763.6,522.1 764.3,523.8 764.8,522.9 765.3,523.6 766.1,522.9 766.7,522.5 767.3,521.5 768.1,519.1 768.6,523.4 769.1,522.5 769.8,525.2 770.8,520.2 770.9,523.8 771.6,521.6 772.1,522.9 772.9,521.8 773.2,523.4 774.2,523.0 774.9,524.2 775.2,523.3 775.8,523.8 776.3,524.8 777.2,523.9 777.6,523.1 778.3,524.9 779.0,523.2 779.6,524.0 780.5,523.1 781.3,522.7 781.1,519.7 782.0,524.5 782.8,522.2 783.2,524.7 783.9,526.1 784.7,522.1" fill="none" stroke="none" marker-start="url(#a6)" marker-mid="url(#a6)" marker-end="url(#a6)"/>
<polyline points="131.0,309.2 131.7,303.9 132.3,291.3 133.1,274.3 133.7,254.3 134.2,240.8 135.0,228.4 135.3,217.9 136.2,209.2 136.6,198.6 137.4,185.7 137.8,171.0 138.5,160.2 139.5,148.4 139.6,138.3 140.2,128.1 141.1,124.1 141.6,118.8 142.2,116.2 142.9,113.8 143.9,109.1 143.9,108.9 144.7,108.9 145.4,106.6 145.8,107.6 146.6,107.7 147.3,108.0 147.7,110.1 148.7,113.2 148.9,116.2 149.7,119.2 150.4,119.9 151.6,124.8 151.2,126.1 152.2,130.7 153.3,134.1 153.3,138.4 154.3,141.9 154.7,146.6 155.0,148.8 156.0,153.8 156.3,156.8 157.2,159.8 157.5,162.0 158.5,166.8 158.5,169.9 159.6,173.7 160.5,176.3 161.0,179.5 161.4,183.2 162.1,186.5 162.6,189.8 163.9,194.0 163.9,194.7 164.6,199.9 165.1,198.0 165.7,203.8 166.6,204.5 166.9,209.4 167.5,209.1 168.2,213.1 168.8,213.5 169.6,215.6 170.1,219.5 170.7,221.8 171.3,222.5 172.3,227.4 172.7,227.1 173.2,230.9 173.9,230.7 174.5,232.8 174.8,235.8 175.7,236.8 176.7,240.2 177.1,239.8 177.8,243.9 178.1,245.2 178.5,246.8 179.3,249.8 180.4,251.3 180.5,253.0 181.2,256.0 182.2,257.4 182.5,259.3 183.1,262.0 183.9,262.6 184.4,265.2 185.0,265.9 185.7,268.6 186.1,270.2 186.9,271.0 187.7,271.9 187.9,273.8 188.7,275.8 189.2,278.9 190.1,279.9 190.7,281.4 191.4,283.8 192.1,285.6 192.7,287.9 193.2,287.7 193.6,290.3 194.5,292.1 194.8,292.1 196.0,294.7 196.3,295.3 196.9,297.5 197.2,299.6 198.3,299.2 198.9,301.5 199.0,303.0 199.8,305.3 200.4,306.1 201.0,308.5 202.1,308.9 202.8,310.7 202.8,313.1 203.8,314.3 204.2,315.6 205.2,316.8 205.0,319.2 206.0,320.9 207.0,320.8 207.2,321.8 208.2,322.9 208.5,326.8 209.4,325.8 210.0,326.8 210.4,329.6 210.9,331.7 211.7,330.9 212.6,333.3 212.9,333.4 213.4,335.4 214.8,338.9 214.5,338.8 215.4,339.7 216.1,341.3 216.5,342.8 217.3,343.7 217.8,343.9 218.2,345.2 219.2,349.4 219.5,348.0 220.2,351.0 221.2,350.4 221.4,353.5 222.4,354.0 223.1,354.3 223.7,357.5 224.2,355.8 224.7,357.6 225.1,358.0 226.0,359.2 226.7,360.6 227.1,361.0 227.6,362.6 228.6,365.4 228.8,363.2 229.8,364.6 230.2,365.8 230.6,367.2 231.9,369.5 232.3,370.1 232.9,370.7 233.1,371.3 234.0,374.3 234.7,371.7 235.1,372.5 236.2,374.4 236.1,375.5 237.3,375.8 237.4,376.0 238.0,376.3 238.7,378.1 239.7,378.5 240.1,379.4 240.7,379.6 241.3,382.8 241.8,382.6 242.5,384.7 243.1,383.0 243.9,384.3 244.5,384.7 244.7,385.6 245.7,386.0 246.7,386.8 246.9,385.6 247.6,388.0 248.1,389.6 248.8,387.5 249.5,389.8 249.9,391.3 250.7,392.6 251.0,391.8 252.1,393.0 252.3,394.9 253.4,395.0 254.0,393.7 254.1,394.1 255.2,396.3 255.6,396.0 256.6,395.8 256.8,396.6 257.5,397.7 258.1,397.7 259.1,398.1 259.0,398.6 260.2,397.8 260.7,401.7 261.2,401.6 261.9,402.4 262.7,401.1 263.3,401.9 264.1,402.8 264.3,403.6 264.6,401.2 265.5,404.0 266.2,403.0 266.8,404.5 267.7,404.3 268.6,407.3 268.8,406.5 269.0,406.4 270.2,408.4 270.5,407.3 271.2,407.0 272.0,408.1 272.5,408.3 273.0,409.3 273.7,410.6 274.5,410.0 275.0,410.5 276.0,412.2 275.6,411.8 276.6,413.0 277.3,412.6 278.2,411.4 278.7,412.1 279.4,411.9 279.6,415.5 280.5,415.1 281.2,414.6 281.7,414.5 282.3,416.4 283.0,416.3 283.9,417.2 283.8,416.4 285.2,416.5 285.5,419.9 285.9,417.5 286.8,419.0 287.3,421.0 288.2,417.8 288.4,421.1 289.4,420.8 289.6,421.0 290.5,421.8 291.2,420.6 291.6,419.8 292.4,424.9 292.8,422.8 293.7,424.6 294.0,425.2 294.6,424.7 295.4,425.3 296.0,426.0 296.5,427.4 297.4,426.5 297.8,427.8 298.6,426.4 298.8,426.6 299.5,427.6 300.3,428.3 300.8,428.9 301.6,430.9 302.3,430.0 303.0,429.5 303.7,432.1 304.2,430.5 304.5,430.9 305.4,431.4 305.8,430.8 306.6,430.3 306.9,432.1 308.0,431.9 308.5,431.6 309.0,433.2 309.4,433.1 310.3,433.0 310.8,432.0 311.5,434.2 312.0,436.8 312.6,436.1 313.5,436.7 314.3,435.7 314.3,437.3 315.2,435.6 315.9,436.2 316.4,437.7 317.0,435.7 318.1,437.8 318.2,438.4 319.0,440.4 319.5,437.9 320.2,439.5 320.3,438.6 321.6,439.0 322.0,436.8 322.5,439.2 323.6,442.0 323.8,441.6 324.4,441.4 325.0,444.5 326.0,442.5 326.4,440.7 326.9,442.2 327.4,442.7 328.1,445.0 328.9,442.2 329.5,444.1 329.7,445.1 330.5,443.2 331.4,444.6 332.5,442.3 332.4,445.2 332.8,442.6 334.0,445.1 334.3,448.0 334.8,446.6 335.8,446.5 336.3,446.8 336.7,449.5 337.3,447.8 338.1,448.7 338.8,447.2 339.0,447.4 340.2,446.9 340.4,448.2 341.5,447.8 341.9,450.2 342.5,450.0 343.2,449.3 343.6,449.0 344.3,446.4 345.3,449.5 345.5,450.8 346.4,451.5 346.7,447.1 347.5,448.2 348.3,451.6 348.5,450.4 349.4,451.6 349.5,451.6 350.3,453.1 351.1,450.3 352.0,452.2 352.6,454.3 352.9,453.7 353.6,452.6 354.3,454.5 354.6,454.5 355.6,453.3 356.4,455.6 357.0,455.8 357.3,455.1 357.9,456.7 358.4,454.3 359.1,457.0 359.8,456.0 360.6,455.3 361.1,456.0 361.5,458.5 362.5,456.6 363.1,457.1 363.5,457.0 364.2,457.0 364.8,459.5 365.1,461.3 366.1,460.5 366.8,459.6 367.7,460.2 368.0,459.0 368.5,459.1 369.1,458.4 369.9,462.0 370.6,459.9 370.8,459.7 371.7,460.0 372.4,461.2 372.5,460.5 373.8,461.4 374.1,461.8 374.9,463.5 375.4,460.4 375.9,462.6 376.6,461.5 377.3,462.1 378.0,464.9 378.4,463.8 378.9,462.7 379.6,464.0 380.1,463.5 381.1,465.2 381.4,463.3 382.5,464.8 382.8,464.1 383.4,464.5 384.3,464.5 384.6,464.1 385.2,465.2 386.1,466.5 386.7,464.6 386.9,465.1 388.3,466.3 388.5,465.0 388.8,467.3 389.6,467.3 390.4,463.5 390.9,465.8 391.7,465.4 392.6,468.1 392.9,468.5 393.7,465.8 394.1,466.7 394.5,467.7 395.5,467.5 395.7,469.1 396.6,469.6 397.2,469.3 397.5,470.1 398.2,470.1 398.9,468.9 399.6,468.6 400.4,468.4 400.8,470.7 401.8,470.9 402.2,471.3 402.5,469.7 403.1,469.8 403.9,470.8 404.4,472.3 405.1,471.3 405.9,471.3 406.4,470.0 407.2,471.9 407.5,472.2 408.1,470.4 408.6,474.2 409.1,470.8 410.0,473.4 410.7,472.1 411.3,472.7 412.0,471.6 413.0,472.1 413.0,473.9 413.8,472.9 414.3,472.9 414.9,474.7 415.9,474.6 416.3,474.0 417.2,474.3 417.3,476.4 418.5,474.1 419.2,475.0 419.2,475.2 420.0,472.9 420.6,472.3 421.4,475.2 421.6,476.4 422.6,475.6 423.3,474.8 423.6,474.8 423.9,476.9 424.8,475.6 425.5,474.0 426.4,477.1 426.7,476.7 427.2,477.0 428.2,478.1 428.8,478.6 429.5,477.7 429.9,476.9 430.8,474.4 431.3,477.8 431.4,477.3 432.5,479.4 433.2,479.5 433.7,478.6 434.6,479.9 434.8,478.1 435.7,478.3 435.9,477.3 436.8,478.2 437.3,479.0 437.8,480.3 438.4,478.0 439.3,480.2 439.9,482.4 440.3,477.6 440.8,479.2 441.5,479.7 442.5,481.1 442.7,482.5 443.8,481.7 443.9,480.1 444.9,479.2 445.6,480.3 446.3,480.5 446.6,481.0 447.1,479.6 447.6,482.9 448.7,480.1 449.1,482.1 449.7,481.6 450.3,480.0 451.1,481.6 451.6,481.7 452.5,481.5 452.4,483.0 453.7,481.4 454.0,485.5 454.7,483.8 455.3,481.2 456.0,479.2 456.7,484.3 457.3,483.1 457.5,483.0 458.4,481.7 459.1,481.2 459.8,480.7 460.3,486.8 460.9,485.6 461.8,482.8 462.0,486.2 463.2,481.4 463.3,484.9 463.8,485.0 464.8,483.0 465.5,483.7 466.1,483.0 466.8,484.6 467.2,486.4 467.8,486.1 468.5,485.4 469.0,486.5 469.5,482.7 470.6,487.9 471.2,485.2 471.5,483.6 472.1,485.0 472.6,484.8 473.0,485.9 473.8,486.3 474.5,482.8 475.2,487.7 475.6,488.5 476.1,484.9 477.2,488.3 478.0,488.1 477.9,487.9 478.9,488.8 479.7,484.9 479.9,487.8 480.5,485.6 481.4,490.2 482.0,485.8 482.5,485.6 483.6,488.8 484.2,488.2 484.6,487.5 485.1,487.7 485.7,488.5 486.5,490.0 486.9,486.8 487.9,487.1 488.5,487.2 488.7,488.0 489.6,488.2 490.4,486.5 490.8,488.7 491.1,486.7 491.9,488.0 492.5,488.2 493.2,488.3 493.8,490.7 494.4,491.0 495.2,490.3 495.9,491.0 496.2,488.6 496.6,491.0 497.6,489.1 498.1,489.5 498.9,489.7 499.3,487.6 500.1,488.6 500.4,489.3 501.5,490.1 502.2,489.5 502.3,488.6 502.6,488.3 503.6,489.9 504.2,488.4 505.0,488.5 505.6,490.0 506.3,490.4 507.4,489.2 507.3,487.9 508.0,490.8 508.8,491.6 508.9,490.0 510.1,490.1 510.4,487.6 510.9,492.0 511.6,489.4 512.5,491.9 513.2,490.3 513.9,490.9 514.4,491.0 514.8,488.9 515.6,495.1 516.1,489.3 517.2,491.7 517.0,490.5 518.3,491.4 518.8,493.7 519.3,489.4 519.8,491.8 520.4,492.7 520.9,492.3 521.4,492.8 522.7,491.3 523.1,490.2 523.7,490.8 524.3,492.1 524.4,493.7 525.4,492.9 526.1,495.1 526.9,493.1 527.1,493.4 528.0,493.5 528.5,491.0 529.2,494.2 529.6,492.0 530.5,493.1 531.0,496.9 531.3,492.1 532.5,494.1 533.3,494.4 533.3,494.3 534.4,494.2 534.5,493.6 535.3,497.1 536.3,491.8 536.6,493.2 537.5,496.7 537.9,495.6 538.7,493.9 539.0,493.8 540.0,494.8 540.7,498.8 541.1,496.0 541.5,494.1 542.1,495.9 542.6,494.8 543.5,497.8 544.1,496.3 544.5,497.7 545.5,496.3 545.8,499.0 546.9,496.9 547.3,496.8 548.1,495.1 548.2,496.1 548.8,497.3 549.3,496.2 550.4,500.3 550.6,497.0 551.8,496.1 552.1,498.6 552.9,496.7 553.1,498.0 553.8,497.4 554.6,496.7 555.4,499.7 555.6,498.0 556.5,499.5 556.9,497.6 557.8,496.3 558.3,496.6 558.9,497.7 559.6,498.2 560.4,498.7 560.7,499.4 561.7,497.1 561.8,499.2 562.7,497.3 563.0,498.2 563.9,502.6 564.3,501.0 565.1,498.9 565.9,501.9 566.2,501.5 566.6,500.8 567.6,501.7 568.3,499.5 568.9,499.8 569.3,498.9 570.3,500.9 570.6,498.5 571.5,499.6 571.8,501.0 572.7,499.8 573.4,501.0 573.7,503.1 574.4,499.4 575.2,502.7 575.8,500.0 576.4,499.8 576.9,501.4 577.2,502.6 578.1,500.3 578.5,500.4 579.4,500.9 579.5,500.6 580.9,501.9 581.6,500.8 582.0,501.5 582.3,502.4 583.0,501.4 583.9,503.7 584.5,501.3 584.8,501.2 585.8,505.1 586.3,504.5 586.9,502.6 587.4,503.7 588.1,503.2 588.5,502.1 589.3,503.8 589.8,503.4 590.8,504.8 591.2,500.7 591.8,504.3 592.5,503.5 593.1,502.5 593.4,502.9 594.5,503.0 594.9,501.9 595.4,503.0 595.9,504.9 596.6,501.9 597.2,503.5 598.0,500.9 598.4,503.4 599.2,504.8 599.9,504.3 600.3,504.5 601.5,503.0 601.7,505.4 602.4,503.5 603.0,506.0 603.5,505.1 604.3,504.4 605.1,507.0 605.4,504.6 605.9,506.6 606.8,505.4 606.9,505.3 607.9,506.8 608.5,506.1 609.2,505.6 609.5,505.5 610.3,506.0 610.8,506.0 611.5,505.5 612.4,504.6 612.8,502.6 613.4,506.0 614.3,505.9 614.7,508.0 614.9,507.0 615.8,508.0 616.7,508.9 617.3,506.5 617.9,505.6 618.5,507.9 618.9,506.1 619.7,506.6 620.1,509.0 620.7,507.9 621.4,508.7 622.0,505.5 622.7,507.4 623.3,508.9 623.9,505.8 624.8,507.9 625.2,508.2 626.2,504.6 626.7,510.0 626.9,506.9 627.9,507.8 628.1,510.3 629.3,505.7 629.7,508.8 630.0,507.7 630.4,508.4 631.4,507.3 631.8,510.3 632.9,507.1 633.1,509.1 633.9,509.5 634.6,508.7 635.2,508.5 635.8,508.6 636.4,510.4 637.2,509.7 637.5,509.1 638.4,507.8 638.6,509.6 639.5,510.1 639.9,509.4 640.7,511.5 641.5,507.1 642.2,513.1 642.2,509.5 643.1,508.3 643.6,507.6 644.7,511.2 644.9,510.9 645.8,509.9 646.2,510.2 646.7,510.5 647.6,509.8 648.0,512.0 648.9,511.4 649.6,510.4 650.3,508.4 650.5,512.6 651.6,510.2 652.1,509.5 652.2,512.7 653.6,511.7 654.1,508.4 654.2,508.9 655.1,510.7 655.4,509.6 656.2,511.2 656.9,515.0 657.6,515.5 657.9,511.5 658.7,512.7 659.2,512.9 660.0,511.6 660.7,509.9 661.2,513.4 662.0,511.8 662.6,512.7 663.1,513.1 663.9,511.1 664.1,514.5 664.9,512.4 665.2,512.7 666.2,511.9 666.7,513.5 667.6,514.0 667.9,511.9 668.5,513.5 669.2,512.2 669.9,511.2 670.6,512.5 670.9,513.8 671.4,513.8 672.0,514.6 673.2,512.3 673.3,512.9 674.1,513.4 674.6,514.2 675.6,513.3 676.0,512.2 676.9,511.5 677.2,515.2 678.0,515.2 678.7,512.9 679.4,515.8 679.6,513.8 680.3,514.6 681.0,515.7 681.3,513.4 682.4,513.1 683.0,511.9 683.6,514.7 683.9,515.0 684.8,515.6 685.5,515.3 686.2,514.7 686.5,516.1 687.4,513.3 688.2,515.2 688.4,515.5 689.0,514.7 689.7,517.2 690.0,515.5 690.9,516.8 691.9,516.3 692.0,514.9 692.8,517.8 693.7,516.8 694.2,515.3 694.7,515.2 695.2,514.0 695.9,515.3 696.5,515.2 697.3,515.9 697.8,515.1 698.6,516.5 698.7,515.7 699.8,513.7 700.2,515.2 700.9,514.7 701.4,514.3 702.2,515.7 702.7,517.4 703.5,514.7 703.8,513.5 704.6,516.1 705.5,520.4 706.1,515.6 706.4,516.8 707.1,516.0 707.6,517.7 708.3,518.6 708.9,516.5 709.8,518.3 710.3,515.3 711.1,517.1 711.7,515.2 711.8,517.2 712.7,516.2 713.2,517.4 713.6,515.6 714.3,517.5 715.0,517.4 716.1,516.5 716.4,516.3 717.0,515.8 717.6,516.9 718.1,518.1 718.9,517.4 719.5,517.8 719.8,519.4 720.6,517.3 722.0,518.2 722.1,519.0 722.6,518.6 723.3,518.5 723.6,518.1 724.5,520.7 725.2,518.0 725.4,517.6 726.2,519.0 726.8,520.5 727.5,520.2 728.1,518.4 728.8,519.6 729.6,519.2 730.1,518.6 730.8,519.5 731.5,519.5 731.8,518.9 732.6,521.1 733.0,518.3 733.9,520.7 734.3,521.7 734.9,521.8 735.9,519.4 736.2,518.8 736.5,516.9 737.5,519.1 738.1,522.5 738.6,517.1 739.3,517.2 740.1,520.5 740.5,520.3 741.1,517.0 741.7,519.4 742.5,520.0 743.0,517.6 743.5,521.0 744.3,517.9 745.3,521.3 745.2,520.1 745.9,518.9 746.8,517.8 747.1,519.5 748.4,519.9 748.3,519.9 749.0,519.3 749.8,519.9 750.7,521.4 751.3,519.0 751.8,520.0 752.4,521.0 753.2,520.4 753.2,521.6 754.3,522.6 755.1,520.1 755.2,520.9 756.1,516.7 756.9,520.3 757.5,521.7 757.9,519.3 758.9,522.7 759.3,518.4 760.0,522.8 760.2,520.3 760.9,519.7 761.5,520.5 762.6,520.8 762.4,519.8 763.1,519.4 764.3,520.6 764.8,522.6 764.8,521.9 765.9,523.3 766.5,520.7 767.5,521.1 767.5,521.1 768.4,521.8 769.3,522.3 769.9,524.1 770.1,522.7 770.9,522.0 771.3,523.7 772.4,520.8 772.7,520.2 773.7,522.9 774.2,522.3 774.5,522.3 775.3,523.4 776.0,521.7 776.6,522.1 777.4,522.8 778.0,523.2 778.4,523.7 779.1,522.6 779.5,522.8 780.1,519.2 781.0,524.2 781.5,520.5 781.9,522.6 782.7,526.1 783.2,522.3 783.9,520.6 784.8,525.0" fill="none" stroke="none" marker-start="url(#a7)" marker-mid="url(#a7)" marker-end="url(#a7)"/>
<polyline points="129.5,201.2 130.3,185.6 130.9,168.5 131.6,148.1 132.3,126.8 132.7,106.3 133.4,92.2 133.8,79.0 134.6,65.7 135.2,53.9 136.1,43.9 136.7,36.5 137.0,30.8 137.8,23.8 138.6,20.9 139.0,16.6 139.4,13.5 140.7,14.1 141.0,15.6 141.6,16.7 142.6,16.4 142.6,21.6 143.4,22.5 143.6,27.1 144.7,32.6 145.3,39.9 145.7,45.3 146.3,52.2 147.0,55.7 147.6,63.8 148.6,69.9 148.9,76.9 149.5,82.1 150.1,89.7 150.5,94.1 151.3,99.3 151.7,104.9 152.7,113.4 152.8,118.9 153.7,123.3 154.5,130.2 154.7,134.1 155.4,139.0 156.6,142.4 156.7,147.7 157.6,152.5 158.3,156.6 158.6,159.9 159.1,165.1 160.4,169.2 160.6,170.9 161.4,175.4 161.8,177.1 162.6,182.0 162.9,184.0 163.5,187.8 164.2,191.1 164.9,193.8 165.5,197.8 166.2,199.2 167.0,202.4 167.4,205.9 168.3,208.4 168.6,211.5 169.5,213.8 170.3,216.0 171.0,220.0 170.8,222.1 172.2,225.5 172.1,228.5 173.4,229.6 173.7,231.9 174.4,234.7 174.8,237.0 175.8,238.3 176.3,243.9 176.7,245.3 177.3,249.3 178.2,249.2 178.9,252.6 179.5,254.6 179.8,256.6 180.5,259.8 181.3,261.1 181.9,263.2 182.6,265.4 183.0,265.3 183.5,268.5 184.3,270.3 185.0,274.1 185.4,275.0 186.2,276.8 186.6,278.3 187.4,279.2 187.9,282.4 189.0,282.4 189.5,282.9 189.9,286.2 190.2,288.2 190.8,288.7 191.8,290.4 192.3,292.4 193.0,294.3 193.2,294.9 193.9,297.2 194.8,297.4 195.4,300.3 195.8,298.6 196.5,301.9 197.4,302.6 197.8,303.6 198.6,303.6 199.5,306.8 199.8,306.9 200.4,307.3 200.9,308.7 201.9,310.2 201.9,311.6 202.6,311.8 203.5,312.9 203.8,315.3 204.9,316.0 205.2,319.0 206.1,318.2 206.5,320.5 207.1,322.6 207.8,322.2 208.0,324.5 208.8,325.2 209.6,326.3 210.7,329.0 211.1,328.0 211.7,329.6 212.0,329.8 213.0,332.5 213.6,334.8 214.2,334.9 215.2,337.0 215.0,336.8 215.7,339.7 216.4,339.8 216.9,340.7 217.7,343.8 218.5,343.5 219.0,345.3 219.6,346.1 220.3,347.8 221.0,348.5 221.3,348.4 221.9,351.0 222.9,352.3 223.3,353.4 223.8,353.9 224.6,356.9 225.1,355.7 225.8,357.5 226.4,358.7 227.2,358.5 227.8,359.4 228.1,362.2 228.7,363.1 229.8,363.6 230.0,362.9 230.4,365.0 231.0,366.4 232.0,367.6 232.5,369.0 232.9,369.2 233.7,370.5 234.3,372.0 235.3,369.0 235.8,373.0 236.3,372.5 236.7,374.1 237.5,374.7 238.3,374.3 238.8,375.1 239.6,377.2 240.1,377.3 240.8,379.0 241.4,378.6 241.8,381.8 242.8,380.2 243.2,383.1 243.9,381.1 244.2,383.0 244.8,384.3 245.6,382.6 246.1,383.5 247.0,385.5 247.6,386.9 248.4,387.8 248.9,387.6 249.1,388.7 250.2,387.1 250.5,388.4 251.1,390.9 251.8,389.5 252.5,390.3 253.3,389.4 254.3,391.5 254.4,390.6 255.2,393.1 255.5,394.8 256.2,394.1 256.7,394.5 257.3,394.4 258.3,395.9 258.7,394.7 259.4,395.8 259.7,399.0 260.9,395.9 261.1,397.2 261.6,396.8 262.4,399.9 263.1,398.9 263.8,398.3 264.5,398.8 264.6,401.7 265.4,401.7 266.4,402.3 267.2,401.8 267.2,403.3 267.9,404.2 268.3,404.0 269.0,402.1 269.6,402.1 270.4,403.1 270.8,405.4 271.9,404.0 272.3,404.9 272.9,406.5 273.7,406.0 274.1,406.1 274.5,408.9 275.4,408.8 276.5,409.6 276.7,410.2 277.4,411.2 277.8,410.1 278.5,410.3 279.2,409.1 279.2,411.2 280.1,411.2 280.9,413.4 281.5,413.5 282.5,414.8 283.3,414.8 283.6,415.3 284.2,415.0 284.8,415.0 285.6,414.9 285.7,415.7 286.5,415.1 287.2,417.0 287.9,416.9 288.0,415.2 289.1,414.8 289.3,417.4 290.4,418.1 291.1,418.7 291.1,420.8 292.2,419.1 292.8,418.8 293.3,421.0 294.2,422.1 295.0,423.2 295.3,420.6 295.6,421.9 296.2,422.1 296.9,424.6 297.5,424.1 298.6,423.7 299.0,424.9 299.6,424.0 300.4,424.6 300.8,425.2 301.4,425.0 301.9,425.7 302.6,426.7 303.3,426.9 303.7,428.7 304.9,428.4 305.2,427.7 305.7,425.6 306.6,426.8 306.8,428.3 307.8,428.7 308.3,428.0 309.3,429.4 309.4,430.3 310.0,429.8 310.6,430.7 311.1,431.1 312.0,430.8 312.4,430.9 313.3,432.1 313.7,432.9 314.7,431.7 314.6,430.9 315.8,432.4 316.3,434.4 316.9,432.3 317.4,435.6 318.5,434.1 318.7,435.3 319.5,434.6 320.0,436.4 320.6,436.1 321.3,436.8 322.0,434.4 322.3,437.8 323.0,435.4 323.5,437.2 324.5,438.5 324.8,438.0 325.5,439.1 326.4,439.0 326.9,439.2 327.6,438.4 328.1,440.8 328.8,441.3 329.4,439.6 329.7,439.5 330.6,441.0 331.1,440.2 331.8,441.5 332.5,442.6 332.9,442.7 333.5,443.9 334.5,443.0 335.3,441.5 335.5,441.9 336.4,443.8 336.9,445.7 337.3,443.3 337.8,442.9 338.6,445.8 339.2,444.3 339.8,445.5 340.5,446.2 340.9,444.0 341.9,445.0 342.1,445.0 342.8,446.5 343.8,446.9 344.4,445.8 345.1,447.3 345.5,444.7 345.9,447.5 346.9,447.7 347.3,447.6 347.9,446.1 348.4,447.9 349.3,447.0 349.3,450.3 350.5,448.4 350.6,448.8 351.8,449.1 352.0,450.2 353.0,449.9 354.0,450.7 354.1,449.2 354.5,451.8 355.8,450.2 355.9,451.9 356.4,451.6 357.5,452.8 357.3,451.7 358.2,450.3 358.8,450.9 359.6,452.3 359.9,454.5 361.1,452.5 361.8,453.4 362.2,455.1 362.7,453.1 363.1,454.4 364.1,454.6 364.5,453.8 365.4,455.0 366.1,456.3 366.5,456.5 366.7,455.0 367.6,459.2 368.7,456.3 369.1,455.8 369.9,455.4 369.8,455.3 370.9,457.7 371.5,453.4 371.8,457.0 372.6,455.7 373.6,457.4 374.1,457.7 374.5,456.4 375.3,456.9 376.1,459.9 376.2,457.9 377.1,458.7 377.9,458.5 378.2,460.1 379.2,460.8 379.5,460.6 380.4,460.3 381.0,460.5 381.5,458.6 382.0,461.8 382.5,459.7 383.3,459.5 383.9,460.3 384.8,459.9 385.1,461.6 385.8,462.2 386.7,463.0 387.1,461.5 387.7,461.1 388.6,461.6 388.9,460.7 389.6,461.4 390.2,465.0 390.7,461.7 391.1,462.3 391.7,463.8 392.5,463.5 393.4,464.3 394.0,462.5 394.8,462.4 395.2,465.6 395.5,463.2 396.0,464.1 396.8,464.7 397.5,462.3 398.0,464.5 399.0,464.1 399.2,465.8 400.1,464.9 400.8,462.6 400.9,466.6 401.8,462.5 402.7,465.4 403.3,465.2 403.8,465.5 404.1,466.4 404.8,467.8 405.6,465.7 406.5,466.2 406.9,468.1 407.4,467.9 408.1,468.4 408.9,468.1 409.0,467.5 409.7,467.3 410.6,467.5 411.4,469.4 412.0,470.3 412.3,471.1 413.0,467.4 413.5,468.6 414.2,469.1 414.9,469.0 415.4,468.0 416.0,472.3 416.5,471.6 417.1,469.6 418.0,469.4 418.7,470.1 419.4,468.8 419.7,470.0 420.3,471.6 421.3,472.8 421.8,472.0 422.5,472.7 422.8,469.8 423.4,467.2 424.0,473.2 425.0,471.8 425.2,471.6 425.7,474.0 426.5,470.8 427.5,470.9 427.9,471.3 428.6,474.5 429.2,473.8 429.8,470.4 430.4,474.9 430.7,473.0 432.0,473.6 432.2,472.2 433.1,475.8 433.2,474.0 434.2,475.3 434.5,472.5 435.1,474.8 436.0,474.1 436.8,473.8 437.5,473.2 438.1,473.5 438.4,473.0 439.2,473.8 439.6,474.7 440.2,475.6 441.0,473.0 441.5,473.8 442.3,474.5 442.4,473.3 443.6,475.1 443.9,475.3 445.0,475.5 445.5,476.4 445.7,477.2 446.5,477.1 447.3,476.6 447.6,477.1 448.2,475.5 448.9,475.4 449.8,477.6 450.4,477.6 450.8,479.8 451.6,476.8 452.4,475.9 452.9,477.7 453.2,476.9 453.8,476.4 454.6,479.4 455.4,480.3 455.9,478.4 456.4,477.2 456.9,478.5 457.9,478.2 458.3,476.6 459.3,479.6 459.3,479.1 460.1,480.4 460.6,478.2 461.8,479.0 462.3,479.0 462.5,477.0 462.9,482.6 464.1,476.8 464.5,478.1 464.9,479.2 465.4,477.8 466.4,480.5 466.9,479.4 467.6,480.2 468.3,480.6 468.8,480.5 469.4,480.6 470.2,480.4 470.7,481.3 471.3,481.9 472.1,480.6 472.2,480.5 473.4,480.6 473.9,481.7 474.3,480.9 475.0,481.0 475.9,479.6 476.4,484.2 476.5,480.2 477.3,484.1 478.2,483.0 479.1,483.4 479.5,482.5 480.0,482.9 480.7,482.7 481.2,483.2 481.8,483.6 482.6,484.6 482.7,481.5 483.9,483.5 484.4,485.0 484.9,484.8 485.4,481.8 486.0,483.6 486.9,483.6 487.5,483.7 488.1,480.5 489.0,484.6 488.9,481.5 489.8,486.5 490.4,484.6 491.3,483.7 491.7,484.8 492.2,484.2 493.1,483.4 493.7,484.0 494.6,484.7 494.9,483.3 495.4,485.3 496.0,485.9 496.6,486.0 497.5,486.2 498.1,486.4 498.6,485.7 499.2,486.6 500.1,485.0 500.5,485.5 501.2,486.9 501.5,487.7 502.2,484.8 502.5,483.4 503.3,488.2 504.3,487.0 505.0,487.9 505.4,486.8 505.8,486.0 506.7,484.9 507.5,484.6 507.9,487.8 508.7,487.3 509.1,486.5 509.5,484.7 510.2,485.6 510.9,485.5 512.1,486.0 512.4,482.7 512.8,486.8 513.5,488.7 514.1,486.0 514.6,486.8 515.3,487.2 515.9,485.7 516.7,487.6 517.5,486.1 518.1,486.6 518.4,487.6 519.2,487.3 519.5,487.6 520.1,486.4 520.9,488.6 521.7,486.3 522.1,489.0 522.9,487.3 523.6,486.5 524.2,488.0 524.6,486.8 525.0,487.6 526.2,488.2 526.4,489.5 527.3,489.7 527.8,489.3 528.3,488.4 529.3,486.9 529.7,488.7 530.2,488.7 530.8,489.0 531.3,488.6 531.8,488.7 532.8,490.6 533.2,487.9 533.9,489.7 534.7,491.5 535.1,488.9 535.9,488.7 536.3,489.8 536.9,489.8 537.8,490.7 538.1,492.2 539.0,490.4 539.6,491.4 540.1,490.0 540.4,490.2 541.1,491.4 541.8,490.2 542.4,492.8 543.4,490.7 543.7,491.2 544.2,490.1 545.0,491.0 545.7,490.4 546.0,491.2 547.1,489.6 547.7,492.0 548.1,494.4 549.0,489.8 549.1,494.6 550.0,492.3 550.6,493.7 551.3,491.3 552.1,495.4 552.5,491.4 553.0,492.9 553.8,495.1 554.4,491.5 555.1,490.2 555.6,493.3 556.3,492.5 556.8,492.3 557.6,492.5 558.0,491.8 558.6,495.7 559.6,495.6 559.8,492.3 560.6,494.0 561.3,493.7 561.8,495.8 562.6,493.4 563.0,496.7 563.9,494.7 564.0,493.7 564.7,494.7 565.6,494.2 566.5,498.1 567.1,495.3 567.3,494.6 568.0,495.4 568.6,497.4 568.9,494.2 570.0,493.4 570.4,497.4 571.4,496.6 571.8,495.3 572.3,495.9 572.9,497.5 573.6,492.5 574.3,497.9 574.8,496.1 576.0,497.3 576.1,496.4 576.5,500.7 577.4,495.9 578.2,498.3 578.7,493.4 579.1,497.0 579.7,498.1 580.3,495.1 580.8,494.5 581.6,497.4 582.4,498.8 582.8,499.1 583.9,496.7 584.2,498.1 584.7,495.9 585.4,500.2 586.3,497.2 586.3,499.7 587.3,497.7 588.4,497.8 588.7,500.5 588.9,497.2 589.8,500.2 590.3,498.1 591.5,497.5 591.5,497.6 592.2,500.3 592.8,498.8 593.2,498.5 593.4,497.0 594.7,500.7 595.4,500.6 595.9,499.8 596.7,500.5 597.3,495.1 597.9,498.9 598.1,499.9 599.3,499.9 599.8,499.1 600.4,500.2 600.9,499.0 601.5,499.2 602.0,498.5 602.8,500.4 603.6,499.4 603.9,499.7 604.8,502.4 605.1,500.5 606.0,500.6 606.5,498.7 607.3,500.1 608.1,502.2 608.4,501.7 608.9,501.1 609.5,500.9 610.3,501.3 610.7,501.9 611.6,501.0 612.1,498.1 612.9,504.2 613.2,503.2 613.7,501.5 614.4,503.7 615.2,500.1 615.6,503.7 616.5,502.3 616.6,503.3 617.5,501.7 618.2,502.5 618.5,503.1 619.4,503.9 619.8,503.2 620.7,503.2 621.3,501.9 622.1,505.1 622.4,503.1 622.9,502.6 623.7,502.5 624.5,501.4 625.1,502.1 625.7,501.2 626.6,503.6 626.9,503.3 627.5,503.7 628.0,501.8 628.7,503.0 629.6,502.8 630.1,505.1 630.1,501.8 631.5,501.9 631.5,505.7 632.4,504.5 633.3,502.0 633.8,506.0 634.5,506.3 635.2,505.9 635.7,501.7 636.0,504.7 636.9,503.4 637.3,504.3 637.6,502.6 638.7,507.2 639.4,504.0 640.0,505.3 640.6,506.1 641.5,505.9 641.9,505.7 642.6,504.7 643.1,505.6 644.0,505.1 644.2,502.4 645.2,506.9 645.9,504.8 646.1,505.0 647.0,505.2 647.1,504.0 648.1,504.3 648.8,503.6 649.1,506.7 649.5,507.7 650.5,506.3 651.1,504.7 651.8,508.1 652.4,506.0 653.1,504.3 653.9,504.0 654.3,506.9 654.5,508.6 655.6,506.2 656.2,506.0 656.7,506.5 657.6,505.8 658.0,506.3 658.5,507.5 659.3,506.2 659.5,508.5 660.6,506.0 661.1,508.3 662.0,507.9 662.4,507.0 663.0,507.2 663.6,507.2 663.9,510.0 664.7,506.7 665.4,509.5 666.2,509.3 666.7,507.5 667.4,510.3 668.0,504.9 668.4,508.5 669.2,508.4 669.7,508.4 670.1,509.5 670.7,507.9 671.7,508.3 672.5,510.1 673.1,508.5 673.3,507.3 674.4,509.6 675.0,508.7 675.2,508.2 676.0,509.7 676.9,508.0 677.2,507.8 678.0,508.8 678.3,509.0 679.0,509.4 679.8,507.7 680.2,511.7 680.9,510.4 681.5,509.7 681.9,509.9 683.0,506.3 683.3,511.0 683.9,508.4 684.5,510.5 685.2,508.3 685.7,511.3 686.6,509.3 687.0,509.8 687.9,512.2 688.2,511.6 688.7,508.4 689.4,509.4 690.2,510.7 690.5,510.1 691.6,511.6 692.0,509.7 692.8,508.1 693.2,509.5 694.1,510.5 694.3,511.6 694.9,511.9 695.9,512.6 696.3,511.3 697.2,510.8 697.5,512.1 698.3,511.0 698.7,510.6 699.1,510.7 700.4,512.6 700.7,513.4 701.5,513.2 702.0,509.4 702.2,513.0 703.3,510.1 704.0,511.2 704.7,512.5 705.4,510.0 705.8,510.2 706.3,510.9 706.9,514.2 707.3,513.5 708.3,510.9 708.9,512.3 709.5,512.4 709.9,512.7 710.8,511.3 711.2,514.3 712.1,511.9 712.4,513.6 713.0,510.3 713.7,513.1 714.2,512.8 714.8,514.5 715.5,509.2 715.7,513.6 717.2,514.0 717.5,512.6 718.1,514.7 718.5,515.9 719.4,514.3 719.9,514.2 720.6,515.0 720.9,513.8 721.8,514.9 722.1,514.2 723.0,512.5 723.5,512.0 724.2,515.1 724.8,514.4 725.7,512.7 726.4,513.7 726.8,515.7 727.2,511.5 728.3,512.6 728.3,514.8 729.1,515.0 729.8,512.4 730.3,512.7 731.4,514.3 731.8,516.0 732.6,514.2 732.9,511.1 733.8,515.7 734.2,514.3 734.8,513.8 735.5,512.9 736.1,516.1 736.8,514.9 737.3,515.2 737.6,515.1 738.5,515.3 738.6,515.9 739.7,517.1 740.2,513.4 741.2,514.8 741.1,514.4 742.7,517.3 742.8,514.7 743.2,512.9 744.2,515.1 744.8,514.2 745.4,514.3 746.4,514.7 746.4,513.6 747.3,512.8 747.9,518.1 748.3,515.4 749.1,514.3 749.9,516.5 750.2,517.5 751.0,513.4 751.8,515.2 752.3,516.2 752.5,514.7 753.5,516.5 754.0,514.3 754.9,515.1 755.3,515.9 756.3,516.7 756.3,516.2 757.2,515.3 757.6,515.8 758.7,513.5 759.3,519.3 759.4,515.9 760.4,516.1 760.9,516.9 761.2,517.3 761.9,517.1 762.7,515.7 763.4,514.5 763.9,516.5 764.6,515.7 765.3,516.1 765.9,516.9 766.2,517.3 767.1,518.7 767.8,516.8 768.0,514.7 769.2,517.9 769.8,518.4 770.2,515.0 771.2,518.1 771.2,517.6 771.8,516.6 772.5,517.6 773.1,518.0 774.2,518.3 774.5,519.1 775.1,517.6 775.8,517.6 776.7,521.0 777.0,516.3 777.5,517.4 778.3,517.3 779.1,518.9 779.4,519.4 780.4,516.2 780.8,519.7 781.3,516.4 782.0,521.6 783.0,517.2 783.1,519.7 784.1,517.9 784.5,519.2" fill="none" stroke="none" marker-start="url(#a8)" marker-mid="url(#a8)" marker-end="url(#a8)"/>
<text x="151.5" y="34.7" font-size="18.2">-0.39</text>
<text x="160.5" y="120.3" font-size="18.2">-0.37</text>
<text x="173.5" y="188.0" font-size="18.2">-0.35</text>
<text x="190.5" y="259.2" font-size="18.2">-0.33</text>
<text x="168.3" y="350.0" font-size="18.2">-0.31</text>
<text x="186" y="391.0" font-size="18.2">-0.27</text>
<text x="215.5" y="433.1" font-size="18.2">-0.25</text>
<text x="249.6" y="463.8" font-size="18.2">-0.23</text>
<text x="291.7" y="501.4" font-size="18.2">-0.21</text>
<path d="M408.5 34.0H770.0V315.5" fill="none" stroke="#cfcfcf" stroke-width="1.6"/>
<path d="M408.5 34.0V315.5H770.0" fill="none" stroke="#c4c4c4" stroke-width="1.5"/>
<path d="M404.0 315.5H413.0M404.0 280.3H413.0M404.0 245.1H413.0M404.0 209.9H413.0M404.0 174.8H413.0M404.0 139.6H413.0M404.0 104.4H413.0M404.0 69.2H413.0M404.0 34.0H413.0M408.5 310.5V320.5M438.6 310.5V320.5M468.8 310.5V320.5M498.9 310.5V320.5M529.0 310.5V320.5M559.1 310.5V320.5M589.2 310.5V320.5M619.4 310.5V320.5M649.5 310.5V320.5M679.6 310.5V320.5M709.8 310.5V320.5M739.9 310.5V320.5M770.0 310.5V320.5" stroke="#b0b0b0" stroke-width="1.1"/>
<text x="395.5" y="320.8" text-anchor="end" font-size="15.6" font-weight="bold">0</text>
<text x="395.5" y="250.4" text-anchor="end" font-size="15.6" font-weight="bold">0.00005</text>
<text x="395.5" y="180.1" text-anchor="end" font-size="15.6" font-weight="bold">0.0001</text>
<text x="395.5" y="109.7" text-anchor="end" font-size="15.6" font-weight="bold">0.00015</text>
<text x="395.5" y="39.3" text-anchor="end" font-size="15.6" font-weight="bold">0.0002</text>
<text x="408.5" y="346" text-anchor="middle" font-size="19.5" font-weight="bold">0</text>
<text x="468.8" y="346" text-anchor="middle" font-size="19.5" font-weight="bold">1</text>
<text x="529.0" y="346" text-anchor="middle" font-size="19.5" font-weight="bold">2</text>
<text x="589.2" y="346" text-anchor="middle" font-size="19.5" font-weight="bold">3</text>
<text x="649.5" y="346" text-anchor="middle" font-size="19.5" font-weight="bold">4</text>
<text x="709.8" y="346" text-anchor="middle" font-size="19.5" font-weight="bold">5</text>
<text x="770.0" y="346" text-anchor="middle" font-size="19.5" font-weight="bold">6</text>

<text x="571" y="366.3" font-size="25"><tspan font-style="italic">t</tspan> / s</text>
<text transform="translate(345.3 156.5) rotate(-90)" text-anchor="middle" font-size="25">-<tspan font-style="italic">j</tspan> / Acm<tspan font-size="16.5" dy="-8">-2</tspan></text>
<polyline points="414.3,294.4 415.7,291.8 417.1,289.1 418.5,286.1 419.9,283.0 421.4,279.7 422.8,276.2 424.2,272.3 425.6,268.3 427.0,264.3 428.4,260.3 429.8,256.4 431.2,252.5 432.7,248.6 434.1,244.7 435.5,240.8 436.9,236.9 438.3,233.0 439.7,229.1 441.1,225.3 442.5,221.5 444.0,217.7 445.4,214.0 446.8,210.5 448.2,207.2 449.6,203.9 451.0,200.6 452.4,197.3 453.8,193.8 455.3,190.1 456.7,186.1 458.1,181.7 459.5,176.9 460.9,171.7 462.3,166.5 463.7,161.2 465.1,156.0 466.6,151.1 468.0,146.1 469.4,141.0 470.8,136.1 472.2,131.3 473.6,126.8 475.0,122.6 476.4,118.8 477.9,115.1 479.3,111.5 480.7,108.2 482.1,105.0 483.5,102.0 484.9,99.2 486.3,96.5 487.7,93.9 489.2,91.4 490.6,89.0 492.0,86.8 493.4,84.7 494.8,82.7 496.2,80.9 497.6,79.3 499.0,77.7 500.5,76.2 501.9,74.8 503.3,73.5 504.7,72.3 506.1,71.1 507.5,70.1 508.9,69.1 510.3,68.3 511.8,67.5 513.2,66.8 514.6,66.1 516.0,65.4 517.4,64.8 518.8,64.2 520.2,63.7 521.6,63.3 523.1,62.9 524.5,62.6 525.9,62.4 527.3,62.1 528.7,61.9 530.1,61.7 531.5,61.6 532.9,61.4 534.4,61.3 535.8,61.2 537.2,61.1 538.6,61.0 540.0,61.0" fill="none" stroke="#E0181C" stroke-width="2.4"/>
<polyline points="411.8,316.9 413.0,315.5 415.9,314.9 415.7,313.5 416.3,312.2 414.3,311.3 415.1,308.9 416.3,308.1 416.1,306.7 418.1,306.3 417.4,305.3 419.6,304.2 419.4,304.1 419.6,301.8 421.4,301.2 421.8,300.7 422.0,299.3 421.9,295.2 422.9,293.7 421.1,291.6 421.6,287.4 423.7,286.8 425.3,283.8 428.0,282.8 426.7,282.0 425.4,278.7 426.7,278.8 426.1,276.4 428.4,274.5 428.8,273.5 429.5,270.3 430.5,267.5 432.2,267.7 432.2,265.2 430.0,264.2 433.5,261.6 431.3,260.3 433.9,258.7 434.1,256.9 437.0,255.8 434.9,254.3 435.4,253.6 435.7,255.6 437.9,249.3 437.7,246.3 437.4,247.2 439.6,243.1 442.0,241.7 441.8,240.5 442.2,239.1 439.7,237.2 440.9,235.5 441.9,233.1 439.7,232.9 445.3,230.7 441.2,226.9 444.4,225.5 442.6,222.0 445.1,222.9 446.7,219.8 446.8,220.8 445.3,215.1 446.2,216.3 449.1,210.9 448.1,207.9 449.0,207.2 450.7,207.2 446.2,206.5 450.8,201.8 452.8,202.9 454.2,198.9 453.1,197.2 451.6,195.9 454.6,197.3 456.5,193.3 453.3,191.8 453.8,187.2 455.2,188.2 455.3,186.7 453.5,187.2 453.6,181.2 455.7,179.7 457.2,177.5 459.3,176.1 458.5,176.5 460.0,172.0 462.4,173.8 465.3,169.7 462.7,166.1 460.5,164.7 464.0,161.3 463.1,159.1 464.1,161.7 465.6,159.0 465.9,153.1 463.4,151.8 464.2,153.4 466.8,146.7 468.0,146.3 470.6,144.6 468.9,141.0 468.0,138.8 468.4,136.3 468.6,135.2 468.3,129.8 468.9,131.2 470.5,129.8 472.0,125.0 471.4,127.0 473.0,122.5 473.2,117.4 473.8,117.3 474.1,120.1 475.5,119.6 475.7,116.0 473.2,112.3 477.1,113.7 477.5,114.7 477.3,111.2 478.6,106.6 478.3,109.6 479.7,106.7 479.3,105.4 481.3,104.6 481.5,104.4 480.5,101.5 481.7,98.2 483.5,98.8 483.7,98.0 484.1,99.2 483.7,92.4 484.6,93.7 485.7,90.8 486.4,92.4 486.7,89.4 486.7,82.4 487.7,91.0 488.1,86.1 488.3,84.2 488.9,82.2 489.6,82.4 489.9,80.9 491.3,82.9 492.0,82.7 492.5,81.4 492.5,81.7 493.1,78.0 493.9,80.8 494.3,78.4 494.9,79.1 495.4,78.8 495.7,75.7 496.8,79.2 497.0,77.5 497.5,73.8 498.3,78.8 498.7,78.0 499.4,69.2 499.9,66.8 500.5,70.5 501.0,72.9 501.6,73.7 502.1,72.5 502.7,70.3 503.2,72.5 503.8,71.4 504.3,68.0 504.9,69.3 505.4,71.4 506.0,66.5 506.5,66.2 507.1,65.3 507.6,71.3 508.2,68.8 508.7,69.0 509.3,65.4 509.8,66.1 510.4,69.3 510.9,64.9 511.5,68.7 512.0,65.2 512.6,64.9 513.1,66.3 513.7,67.0 514.2,69.3 514.8,63.2 515.3,68.8 515.9,61.7 516.4,61.3 517.0,57.2 517.5,65.9 518.1,67.6 518.6,59.7 519.2,62.1 519.7,62.2 520.3,58.2 520.8,62.8 521.4,63.4 521.9,60.9 522.5,59.2 523.0,62.4 523.6,63.6 524.1,57.6 524.7,61.3 525.2,63.1 525.8,53.1 526.3,62.1 526.9,66.1 527.4,57.2 528.0,64.7 528.5,59.9 529.1,62.4 529.6,60.1 530.2,57.2 530.7,55.4 531.3,67.4 531.8,56.4 532.4,59.4 532.9,64.3 533.5,60.9 534.0,60.5 534.6,54.0 535.1,58.0 535.7,55.8 536.2,54.4 536.8,60.6 537.3,61.9 537.9,57.1 538.4,57.4 539.0,60.4 539.5,61.7 540.1,55.9 540.6,62.3 541.2,61.6 541.7,58.8 542.3,55.6 542.8,60.5 543.4,60.9 543.9,64.1 544.5,57.2 545.0,63.7 545.6,58.1 546.1,60.7 546.7,58.9 547.2,59.6 547.8,63.8 548.3,57.6 548.9,62.2 549.4,59.1 550.0,59.9 550.5,58.0 551.1,60.8 551.6,54.5 552.2,59.7 552.7,63.6 553.3,63.3 553.8,56.2 554.4,57.9 554.9,60.2 555.5,67.1 556.0,60.5 556.6,62.0 557.1,61.5 557.7,63.4 558.2,60.1 558.8,63.8 559.3,64.7 559.9,66.6 560.4,61.2 561.0,66.8 561.5,70.1 562.1,67.1 562.6,67.1 563.2,58.2 563.7,69.7 564.3,71.8 564.8,70.1 565.4,68.3 565.9,69.7 566.5,76.5 567.0,65.9 567.6,67.1 568.1,72.0 568.7,69.8 569.2,63.0 569.8,70.5 570.3,71.2 570.9,67.7 571.4,72.0 572.0,71.9 572.5,66.2 573.1,73.4 573.6,78.6 574.2,77.7 574.7,69.5 575.3,69.3 575.8,73.7 576.4,74.7 576.9,70.2 577.5,72.3 578.0,78.9 578.6,75.9 579.1,78.5 579.7,75.6 580.2,79.1 580.8,74.7 581.3,75.0 581.9,74.0 582.4,71.4 583.0,76.2 583.5,73.6 584.1,76.4 584.6,78.5 585.2,78.8 585.7,79.7 586.3,77.5 586.8,78.7 587.4,82.6 587.9,78.9 588.5,79.6 589.0,72.4 589.6,76.6 590.1,83.3 590.7,77.7 591.2,77.2 591.8,83.5 592.3,77.1 592.9,83.9 593.4,80.8 594.0,79.4 594.5,75.3 595.1,85.6 595.6,76.4 596.2,78.3 596.7,84.5 597.3,78.6 597.8,84.0 598.4,82.6 598.9,82.1 599.5,79.9 600.0,81.3 600.6,84.3 601.1,80.7 601.7,85.7 602.2,84.8 602.8,85.9 603.3,85.2 603.9,86.4 604.4,86.1 605.0,87.7 605.5,86.6 606.1,86.7 606.6,83.2 607.2,81.1 607.7,86.6 608.3,89.6 608.8,84.2 609.4,82.5 609.9,85.9 610.5,88.9 611.0,90.7 611.6,87.5 612.1,85.2 612.7,88.9 613.2,91.4 613.8,89.5 614.3,93.0 614.9,88.8 615.4,93.2 616.0,95.8 616.5,88.3 617.1,89.0 617.6,93.8 618.2,101.5 618.7,94.1 619.3,92.8 619.8,97.1 620.4,93.2 620.9,89.1 621.5,91.4 622.0,98.6 622.6,89.8 623.1,90.9 623.7,98.0 624.2,96.3 624.8,99.8 625.3,93.3 625.9,94.6 626.4,96.1 627.0,93.7 627.5,97.0 628.1,97.5 628.6,100.9 629.2,98.3 629.7,97.7 630.3,100.6 630.8,102.7 631.4,102.8 631.9,100.7 632.5,99.0 633.0,99.0 633.6,96.7 634.1,101.0 634.7,101.0 635.2,106.2 635.8,102.1 636.3,103.9 636.9,105.7 637.4,96.4 638.0,100.3 638.5,101.6 639.1,102.9 639.6,99.3 640.2,105.4 640.7,105.7 641.3,104.6 641.8,105.3 642.4,100.1 642.9,106.9 643.5,101.8 644.0,98.1 644.6,104.2 645.1,105.2 645.7,102.0 646.2,99.2 646.8,100.8 647.3,103.9 647.9,96.9 648.4,107.7 649.0,107.7 649.5,104.2 650.1,108.0 650.6,104.5 651.2,101.7 651.7,107.0 652.3,106.9 652.8,102.6 653.4,101.2 653.9,102.6 654.5,109.2 655.0,104.9 655.6,114.3 656.1,104.0 656.7,107.9 657.2,107.2 657.8,105.7 658.3,109.0 658.9,104.1 659.4,106.6 660.0,103.5 660.5,100.6 661.1,107.5 661.6,104.1 662.2,103.8 662.7,109.6 663.3,107.6 663.8,109.4 664.4,113.7 664.9,109.3 665.5,110.3 666.0,105.7 666.6,112.0 667.1,112.3 667.7,106.9 668.2,112.2 668.8,111.5 669.3,110.2 669.9,111.4 670.4,118.7 671.0,109.8 671.5,111.0 672.1,112.6 672.6,112.1 673.2,107.5 673.7,115.2 674.3,116.3 674.8,119.0 675.4,112.5 675.9,110.7 676.5,116.7 677.0,112.0 677.6,115.4 678.1,114.5 678.7,116.6 679.2,115.0 679.8,118.7 680.3,114.2 680.9,124.4 681.4,119.9 682.0,115.9 682.5,115.2 683.1,117.9 683.6,117.3 684.2,116.5 684.7,123.5 685.3,122.5 685.8,116.6 686.4,121.8 686.9,120.4 687.5,122.9 688.0,118.9 688.6,127.5 689.1,121.6 689.7,127.6 690.2,120.4 690.8,126.1 691.3,122.0 691.9,127.5 692.4,122.2 693.0,119.7 693.5,119.9 694.1,121.4 694.6,125.3 695.2,124.8 695.7,124.2 696.3,127.2 696.8,129.1 697.4,121.3 697.9,127.5 698.5,131.6 699.0,122.9 699.6,123.2 700.1,126.3 700.7,125.9 701.2,123.7 701.8,125.2 702.3,130.4 702.9,128.4 703.4,123.4 704.0,120.8 704.5,122.7 705.1,126.6 705.6,123.8 706.2,123.8 706.7,128.6 707.3,125.7 707.8,125.5 708.4,127.3 708.9,131.2 709.5,127.8 710.0,129.1 710.6,127.4 711.1,131.9 711.7,123.7 712.2,124.1 712.8,126.1 713.3,133.8 713.9,132.5 714.4,124.7 715.0,126.7 715.5,129.9 716.1,128.6 716.6,131.2 717.2,127.2 717.7,123.8 718.3,130.8 718.8,132.9 719.4,124.7 719.9,123.8 720.5,128.2 721.0,124.2 721.6,131.2 722.1,126.7 722.7,132.5 723.2,129.5 723.8,131.1 724.3,132.9 724.9,130.5 725.4,128.3 726.0,134.3 726.5,127.3 727.1,136.2 727.6,130.3 728.2,130.8 728.7,133.8 729.3,134.1 729.8,134.6 730.4,128.9 730.9,130.9 731.5,134.8 732.0,135.1 732.6,134.0 733.1,138.4 733.7,134.2 734.2,137.8 734.8,138.5 735.3,136.6 735.9,135.2 736.4,138.3 737.0,137.6 737.5,138.4 738.1,134.2 738.6,138.5 739.2,142.1 739.7,136.7 740.3,138.2 740.8,137.3 741.4,140.9 741.9,132.4 742.5,143.6 743.0,140.6 743.6,138.6 744.1,140.3 744.7,143.1 745.2,141.0 745.8,142.1 746.3,143.9 746.9,141.0 747.4,142.9 748.0,145.3 748.5,142.8 749.1,139.4 749.6,143.7 750.2,147.7 750.7,140.8 751.3,143.2 751.8,143.3 752.4,144.8 752.9,141.0 753.5,142.3 754.0,148.3 754.6,144.7 755.1,140.8 755.7,145.1 756.2,143.0 756.8,147.5 757.3,138.2 757.9,143.4 758.4,146.1 759.0,139.4 759.5,141.1 760.1,144.8 760.6,143.5 761.2,142.6 761.7,144.4 762.3,139.4 762.8,141.1 763.4,148.8 763.9,141.8 764.5,145.0 765.0,143.6 765.6,146.4 766.1,144.8 766.7,145.1 767.2,147.4 767.8,145.0 768.3,139.0 768.9,142.1 769.4,148.4 770.0,147.4 770.5,143.6" fill="none" stroke="none" marker-start="url(#ib)" marker-mid="url(#ib)" marker-end="url(#ib)"/>
<polyline points="413.6,313.7 414.5,313.6 414.5,310.9 415.8,309.6 414.1,308.3 416.1,307.6 417.6,306.9 417.2,305.4 416.7,304.0 418.5,302.6 419.1,302.9 418.4,301.4 421.4,300.1 419.9,299.7 419.9,298.9 421.7,298.6 421.4,295.9 422.5,291.1 423.6,289.1 423.3,285.8 425.1,284.0 425.3,282.5 427.1,283.6 424.7,281.0 426.7,278.2 427.5,277.5 428.1,276.0 425.3,274.2 427.3,274.8 429.8,269.6 430.7,269.5 430.5,268.6 431.3,267.3 433.4,262.9 431.6,264.1 431.5,261.1 435.4,260.5 434.7,257.9 434.1,259.2 433.8,260.4 437.8,256.5 435.5,253.4 435.3,250.1 438.9,251.5 435.4,250.2 437.9,245.8 439.6,246.5 438.8,241.4 439.0,240.2 441.0,240.1 439.1,236.3 441.1,237.2 443.1,236.2 440.9,232.6 445.2,231.3 443.3,231.0 444.1,227.7 444.1,226.9 446.2,225.1 445.2,219.7 446.7,222.2 448.8,218.8 449.4,215.4 445.8,214.5 450.6,211.8 448.4,209.8 450.2,206.2 450.4,205.2 451.2,203.5 450.5,203.8 452.8,201.1 454.0,199.2 452.2,196.7 453.5,197.0 455.3,189.4 456.2,190.0 455.7,191.2 456.2,187.1 457.0,187.0 456.4,186.7 457.9,183.5 457.5,177.7 458.0,177.8 455.6,174.2 456.9,175.0 460.7,173.9 461.8,169.7 461.9,169.0 461.9,165.7 461.9,167.4 463.7,162.0 462.9,160.0 464.0,158.2 466.8,156.7 463.0,153.6 464.8,149.8 465.8,147.6 463.9,146.1 465.5,144.0 469.4,139.8 469.1,137.1 468.7,135.6 471.4,134.7 468.6,130.9 473.4,127.7 471.0,127.4 470.8,125.3 473.7,125.9 473.5,122.0 473.6,120.6 473.7,123.8 472.1,119.4 472.4,115.0 475.5,118.0 477.2,113.3 475.7,111.0 477.3,112.7 476.0,107.0 476.6,108.6 478.7,108.6 480.1,107.8 480.6,103.7 481.6,102.5 480.2,102.2 481.4,103.8 482.8,95.9 481.8,100.5 482.9,98.1 483.7,99.3 484.3,92.6 485.5,96.7 485.7,91.1 485.6,92.7 484.9,90.2 487.5,84.6 488.2,89.2 488.4,89.4 488.9,89.7 489.5,85.4 490.4,83.4 490.1,87.0 490.8,83.8 491.0,86.4 491.9,86.6 492.2,82.0 492.8,81.5 493.0,79.5 494.1,75.8 495.0,80.0 494.6,81.3 496.1,81.5 496.3,78.3 496.8,82.4 497.5,76.0 498.0,76.7 498.5,74.9 499.2,74.6 499.7,74.5 500.2,73.0 500.8,73.2 501.3,74.5 501.9,73.6 502.4,70.2 503.0,73.8 503.5,69.9 504.1,72.8 504.6,71.4 505.2,65.9 505.7,67.8 506.3,72.6 506.8,68.0 507.4,67.6 507.9,67.8 508.5,68.9 509.0,69.7 509.6,67.0 510.1,72.0 510.7,65.5 511.2,65.4 511.8,65.8 512.3,66.4 512.9,69.6 513.4,71.7 514.0,64.0 514.5,64.2 515.1,66.1 515.6,63.7 516.2,66.2 516.7,60.5 517.3,65.6 517.8,56.8 518.4,64.2 518.9,64.3 519.5,69.2 520.0,59.3 520.6,63.6 521.1,63.2 521.7,58.4 522.2,61.6 522.8,58.1 523.3,57.0 523.9,55.8 524.4,59.2 525.0,56.6 525.5,53.5 526.1,60.1 526.6,54.2 527.2,60.9 527.7,59.5 528.3,56.3 528.8,54.0 529.4,55.8 529.9,54.5 530.5,57.2 531.0,57.2 531.6,65.3 532.1,52.1 532.7,56.4 533.2,59.7 533.8,61.0 534.3,61.9 534.9,55.2 535.4,60.3 536.0,49.7 536.5,57.4 537.1,60.5 537.6,60.1 538.2,54.0 538.7,55.7 539.3,51.8 539.8,56.0 540.4,54.2 540.9,59.0 541.5,56.1 542.0,60.2 542.6,58.3 543.1,57.8 543.7,64.0 544.2,62.5 544.8,55.4 545.3,63.5 545.9,61.9 546.4,63.8 547.0,61.5 547.5,55.2 548.1,59.5 548.6,53.8 549.2,57.0 549.7,59.3 550.3,65.3 550.8,61.9 551.4,62.6 551.9,64.4 552.5,59.8 553.0,65.9 553.6,63.6 554.1,60.4 554.7,61.8 555.2,63.0 555.8,65.7 556.3,68.3 556.9,63.5 557.4,64.0 558.0,70.2 558.5,74.5 559.1,70.7 559.6,66.2 560.2,64.8 560.7,68.1 561.3,67.3 561.8,64.3 562.4,70.9 562.9,74.6 563.5,65.0 564.0,65.4 564.6,66.5 565.1,64.5 565.7,70.9 566.2,64.5 566.8,71.0 567.3,70.4 567.9,71.7 568.4,65.4 569.0,70.4 569.5,71.0 570.1,73.1 570.6,71.8 571.2,69.2 571.7,74.5 572.3,75.4 572.8,75.5 573.4,69.5 573.9,73.5 574.5,69.5 575.0,71.8 575.6,74.8 576.1,68.5 576.7,81.1 577.2,76.8 577.8,71.1 578.3,71.9 578.9,73.5 579.4,73.5 580.0,70.6 580.5,73.9 581.1,70.0 581.6,72.9 582.2,80.2 582.7,74.9 583.3,74.2 583.8,80.2 584.4,76.7 584.9,77.8 585.5,74.5 586.0,79.6 586.6,75.6 587.1,79.4 587.7,78.9 588.2,82.4 588.8,80.4 589.3,77.7 589.9,74.8 590.4,77.3 591.0,76.4 591.5,83.2 592.1,77.6 592.6,72.4 593.2,80.6 593.7,82.2 594.3,77.3 594.8,82.4 595.4,76.7 595.9,81.6 596.5,80.7 597.0,82.4 597.6,83.0 598.1,80.1 598.7,84.8 599.2,81.3 599.8,83.4 600.3,87.6 600.9,81.0 601.4,84.3 602.0,89.2 602.5,88.5 603.1,83.1 603.6,83.6 604.2,87.5 604.7,84.3 605.3,86.8 605.8,82.9 606.4,89.2 606.9,82.9 607.5,88.4 608.0,90.5 608.6,86.7 609.1,84.4 609.7,85.7 610.2,84.1 610.8,95.5 611.3,84.7 611.9,87.0 612.4,92.1 613.0,91.6 613.5,94.9 614.1,96.1 614.6,93.8 615.2,92.6 615.7,91.4 616.3,92.8 616.8,96.5 617.4,95.8 617.9,96.1 618.5,89.5 619.0,92.5 619.6,92.9 620.1,93.6 620.7,92.3 621.2,97.8 621.8,99.1 622.3,101.6 622.9,94.9 623.4,96.3 624.0,97.1 624.5,97.0 625.1,94.7 625.6,99.8 626.2,91.6 626.7,96.3 627.3,92.2 627.8,100.0 628.4,94.1 628.9,94.9 629.5,98.5 630.0,95.6 630.6,99.6 631.1,97.8 631.7,105.0 632.2,95.5 632.8,96.9 633.3,101.1 633.9,99.9 634.4,101.0 635.0,98.9 635.5,102.7 636.1,101.0 636.6,104.0 637.2,96.1 637.7,101.0 638.3,99.7 638.8,101.6 639.4,97.7 639.9,103.1 640.5,96.8 641.0,103.5 641.6,102.6 642.1,95.7 642.7,102.4 643.2,95.5 643.8,103.2 644.3,96.8 644.9,101.6 645.4,101.1 646.0,97.2 646.5,96.7 647.1,103.9 647.6,101.1 648.2,106.0 648.7,102.8 649.3,111.4 649.8,103.8 650.4,108.8 650.9,104.8 651.5,104.2 652.0,105.8 652.6,102.1 653.1,102.6 653.7,109.8 654.2,104.5 654.8,101.8 655.3,107.1 655.9,103.3 656.4,106.3 657.0,109.8 657.5,110.5 658.1,112.4 658.6,110.7 659.2,109.4 659.7,109.4 660.3,108.9 660.8,108.2 661.4,115.5 661.9,108.7 662.5,114.3 663.0,109.2 663.6,113.5 664.1,101.6 664.7,111.0 665.2,109.0 665.8,115.9 666.3,116.0 666.9,109.9 667.4,111.9 668.0,115.3 668.5,113.7 669.1,113.4 669.6,116.4 670.2,109.8 670.7,118.9 671.3,115.7 671.8,106.0 672.4,112.2 672.9,115.0 673.5,122.4 674.0,115.8 674.6,111.5 675.1,120.4 675.7,117.8 676.2,116.8 676.8,120.2 677.3,116.1 677.9,117.2 678.4,120.7 679.0,119.3 679.5,121.1 680.1,117.2 680.6,123.6 681.2,114.4 681.7,114.8 682.3,120.6 682.8,118.3 683.4,120.0 683.9,119.7 684.5,119.2 685.0,116.6 685.6,120.9 686.1,124.1 686.7,117.7 687.2,126.1 687.8,125.2 688.3,118.1 688.9,123.2 689.4,117.6 690.0,120.6 690.5,117.8 691.1,119.6 691.6,115.8 692.2,121.0 692.7,118.4 693.3,119.0 693.8,115.9 694.4,122.0 694.9,127.7 695.5,121.0 696.0,121.8 696.6,118.9 697.1,121.1 697.7,120.0 698.2,118.1 698.8,120.2 699.3,121.4 699.9,124.1 700.4,122.3 701.0,124.3 701.5,127.5 702.1,126.5 702.6,122.6 703.2,118.7 703.7,123.6 704.3,124.6 704.8,127.6 705.4,125.2 705.9,133.3 706.5,124.2 707.0,127.3 707.6,122.8 708.1,122.7 708.7,125.1 709.2,126.8 709.8,128.5 710.3,117.2 710.9,130.3 711.4,131.6 712.0,131.4 712.5,130.2 713.1,127.5 713.6,129.8 714.2,132.3 714.7,125.7 715.3,130.9 715.8,130.7 716.4,129.0 716.9,135.1 717.5,127.9 718.0,127.3 718.6,130.4 719.1,128.9 719.7,135.1 720.2,126.3 720.8,127.7 721.3,132.8 721.9,134.4 722.4,128.8 723.0,136.5 723.5,127.1 724.1,136.2 724.6,130.7 725.2,132.2 725.7,139.3 726.3,133.9 726.8,132.4 727.4,135.3 727.9,140.4 728.5,135.2 729.0,132.8 729.6,136.0 730.1,131.8 730.7,133.7 731.2,134.2 731.8,138.1 732.3,134.8 732.9,137.9 733.4,140.1 734.0,141.5 734.5,131.9 735.1,136.9 735.6,133.8 736.2,139.3 736.7,138.3 737.3,137.6 737.8,136.2 738.4,135.0 738.9,132.9 739.5,141.0 740.0,137.7 740.6,138.5 741.1,139.4 741.7,140.9 742.2,144.3 742.8,138.2 743.3,140.8 743.9,134.1 744.4,137.9 745.0,137.0 745.5,137.3 746.1,142.8 746.6,139.7 747.2,139.7 747.7,139.8 748.3,139.0 748.8,139.0 749.4,137.8 749.9,138.2 750.5,138.6 751.0,139.4 751.6,134.5 752.1,140.3 752.7,140.1 753.2,141.5 753.8,137.0 754.3,137.6 754.9,142.9 755.4,138.4 756.0,142.1 756.5,138.7 757.1,137.3 757.6,136.6 758.2,139.2 758.7,139.8 759.3,137.6 759.8,145.6 760.4,141.6 760.9,139.0 761.5,146.2 762.0,144.3 762.6,139.8 763.1,139.1 763.7,141.8 764.2,144.6 764.8,138.5 765.3,146.2 765.9,141.8 766.4,145.6 767.0,142.9 767.5,144.9 768.1,145.6 768.6,147.7 769.2,141.9 769.7,149.9 770.3,140.7" fill="none" stroke="none" marker-start="url(#ib)" marker-mid="url(#ib)" marker-end="url(#ib)"/>
<polyline points="413.3,313.1 414.8,311.6 413.7,311.0 414.5,310.0 416.4,308.7 415.1,308.2 418.4,306.7 417.2,306.8 418.2,305.3 419.9,304.8 419.1,303.1 419.8,301.2 419.6,301.2 421.3,300.6 422.1,299.5 420.9,297.0 423.2,296.1 424.1,291.1 424.1,288.5 423.2,288.4 425.8,286.3 426.9,285.5 425.1,284.6 423.9,285.3 425.9,279.7 427.4,278.4 429.7,277.9 430.1,274.7 430.0,273.8 428.7,274.4 431.2,271.3 430.7,269.7 429.7,269.5 429.2,264.8 433.8,265.4 430.5,263.8 435.2,262.8 437.2,259.9 434.6,259.0 433.9,257.8 434.7,257.2 435.2,253.7 437.3,253.6 438.7,248.5 436.7,249.8 437.9,248.4 438.0,244.4 441.1,243.3 441.4,241.7 439.3,240.1 440.7,239.3 441.9,236.0 439.6,233.5 442.0,231.5 443.5,230.2 441.8,228.9 444.7,226.2 445.0,223.0 444.7,221.2 447.6,218.4 445.3,216.1 447.8,214.6 447.3,212.3 449.8,212.3 447.7,207.4 450.2,207.3 450.8,203.4 452.1,204.5 453.3,201.8 449.4,201.4 452.0,198.4 451.1,194.1 454.6,194.0 455.7,191.1 453.9,189.4 455.2,186.7 457.3,186.0 456.3,184.8 456.3,183.1 454.7,185.0 456.6,178.6 459.6,177.0 456.6,174.7 459.7,172.4 460.1,170.4 460.3,169.0 462.1,166.6 460.4,166.3 464.0,163.7 461.9,159.3 464.6,158.7 462.8,157.1 464.6,153.7 464.3,151.4 467.7,149.3 464.4,148.4 465.5,145.3 469.1,141.7 468.7,140.5 468.0,140.8 468.2,134.4 467.3,135.5 469.3,131.7 470.8,137.8 472.5,129.9 472.7,127.1 473.9,125.2 473.0,120.8 472.1,121.4 473.1,125.2 476.0,120.4 474.8,117.7 476.9,117.0 473.9,115.8 475.8,112.4 476.0,113.4 477.7,113.0 477.1,107.5 477.1,109.0 479.0,102.4 477.4,103.5 479.6,107.8 481.1,107.5 480.2,107.8 481.8,99.6 481.6,101.1 482.6,99.4 483.6,101.4 484.4,98.6 484.9,97.0 484.6,97.1 486.7,93.7 486.4,96.0 486.3,92.1 488.1,94.5 487.6,91.5 489.5,90.8 489.4,86.7 489.5,84.9 489.8,84.0 490.2,88.1 490.8,81.0 491.6,88.6 492.8,83.8 492.9,80.6 493.3,83.9 494.0,79.4 494.4,81.7 494.7,80.3 495.2,83.2 496.4,81.8 496.6,81.2 497.4,77.1 498.0,80.7 498.3,76.7 498.9,76.6 499.4,76.7 499.9,75.7 500.5,71.0 501.1,75.4 501.6,69.1 502.2,73.8 502.7,71.8 503.3,71.6 503.8,68.1 504.4,73.0 504.9,69.5 505.5,71.6 506.0,67.0 506.6,66.5 507.1,68.1 507.7,70.1 508.2,63.4 508.8,64.9 509.3,64.7 509.9,64.9 510.4,63.9 511.0,67.6 511.5,66.2 512.1,64.0 512.6,65.8 513.2,66.0 513.7,61.1 514.3,60.5 514.8,64.1 515.4,67.8 515.9,55.0 516.5,59.6 517.0,63.3 517.6,58.7 518.1,63.2 518.7,61.1 519.2,56.7 519.8,58.8 520.3,61.0 520.9,57.2 521.4,61.3 522.0,60.3 522.5,58.4 523.1,60.3 523.6,58.0 524.2,59.5 524.7,56.0 525.3,62.8 525.8,57.9 526.4,61.9 526.9,64.7 527.5,63.1 528.0,58.5 528.6,59.0 529.1,58.5 529.7,59.6 530.2,56.4 530.8,53.7 531.3,59.9 531.9,59.2 532.4,63.5 533.0,64.4 533.5,55.4 534.1,56.7 534.6,61.7 535.2,62.9 535.7,60.0 536.3,59.9 536.8,54.6 537.4,66.5 537.9,58.0 538.5,61.7 539.0,61.2 539.6,57.7 540.1,62.8 540.7,64.6 541.2,60.4 541.8,61.1 542.3,62.7 542.9,63.7 543.4,63.6 544.0,58.7 544.5,58.7 545.1,60.0 545.6,54.0 546.2,58.1 546.7,61.5 547.3,60.4 547.8,60.0 548.4,65.1 548.9,63.7 549.5,65.2 550.0,62.5 550.6,61.9 551.1,60.8 551.7,64.1 552.2,58.3 552.8,61.1 553.3,65.4 553.9,66.2 554.4,63.7 555.0,60.7 555.5,65.8 556.1,62.1 556.6,64.0 557.2,61.7 557.7,69.8 558.3,68.9 558.8,62.4 559.4,61.5 559.9,64.9 560.5,66.9 561.0,68.8 561.6,65.2 562.1,62.0 562.7,66.5 563.2,66.6 563.8,61.5 564.3,65.4 564.9,65.5 565.4,63.7 566.0,67.4 566.5,69.9 567.1,70.0 567.6,64.8 568.2,65.8 568.7,69.7 569.3,67.0 569.8,67.1 570.4,74.7 570.9,61.2 571.5,66.9 572.0,66.6 572.6,69.1 573.1,74.4 573.7,69.3 574.2,69.2 574.8,70.7 575.3,69.6 575.9,71.9 576.4,78.3 577.0,69.4 577.5,71.0 578.1,71.7 578.6,66.2 579.2,74.2 579.7,72.6 580.3,67.5 580.8,72.7 581.4,74.3 581.9,71.6 582.5,77.6 583.0,73.1 583.6,70.8 584.1,77.8 584.7,75.4 585.2,76.5 585.8,71.9 586.3,72.9 586.9,74.3 587.4,77.1 588.0,77.5 588.5,82.2 589.1,83.0 589.6,79.3 590.2,79.0 590.7,85.1 591.3,80.2 591.8,83.3 592.4,79.4 592.9,80.8 593.5,80.7 594.0,79.8 594.6,83.2 595.1,80.1 595.7,82.5 596.2,84.4 596.8,89.6 597.3,78.4 597.9,84.4 598.4,86.4 599.0,83.9 599.5,87.7 600.1,87.0 600.6,87.2 601.2,84.9 601.7,85.8 602.3,86.1 602.8,84.2 603.4,87.9 603.9,84.6 604.5,85.3 605.0,84.2 605.6,91.6 606.1,87.1 606.7,86.5 607.2,91.5 607.8,88.3 608.3,90.7 608.9,89.5 609.4,91.3 610.0,91.0 610.5,84.5 611.1,95.1 611.6,94.0 612.2,87.1 612.7,94.0 613.3,91.0 613.8,92.2 614.4,95.7 614.9,95.1 615.5,95.2 616.0,98.3 616.6,95.8 617.1,91.2 617.7,89.4 618.2,95.6 618.8,88.5 619.3,92.5 619.9,92.6 620.4,91.8 621.0,97.8 621.5,95.0 622.1,93.6 622.6,97.0 623.2,93.4 623.7,98.1 624.3,100.7 624.8,94.6 625.4,94.7 625.9,98.6 626.5,89.9 627.0,92.0 627.6,92.9 628.1,91.3 628.7,96.1 629.2,97.1 629.8,96.4 630.3,96.6 630.9,99.4 631.4,100.1 632.0,100.7 632.5,97.0 633.1,97.6 633.6,102.0 634.2,99.1 634.7,101.9 635.3,97.0 635.8,98.4 636.4,96.9 636.9,98.9 637.5,100.4 638.0,98.2 638.6,105.3 639.1,95.7 639.7,102.6 640.2,97.3 640.8,101.5 641.3,98.7 641.9,101.3 642.4,101.6 643.0,99.4 643.5,98.4 644.1,100.2 644.6,102.5 645.2,105.0 645.7,107.6 646.3,98.4 646.8,104.9 647.4,102.5 647.9,104.2 648.5,105.3 649.0,107.0 649.6,106.1 650.1,105.2 650.7,110.0 651.2,106.6 651.8,106.1 652.3,109.6 652.9,103.3 653.4,104.2 654.0,111.3 654.5,106.8 655.1,102.6 655.6,110.2 656.2,111.6 656.7,106.2 657.3,104.9 657.8,108.7 658.4,110.1 658.9,107.6 659.5,107.0 660.0,111.3 660.6,111.5 661.1,105.7 661.7,107.3 662.2,109.8 662.8,109.1 663.3,111.7 663.9,112.8 664.4,116.8 665.0,112.7 665.5,114.5 666.1,107.7 666.6,110.3 667.2,115.5 667.7,108.5 668.3,116.6 668.8,114.6 669.4,113.6 669.9,113.0 670.5,110.2 671.0,110.6 671.6,112.3 672.1,112.8 672.7,117.6 673.2,111.4 673.8,112.7 674.3,109.6 674.9,115.2 675.4,114.8 676.0,118.1 676.5,120.5 677.1,116.7 677.6,112.9 678.2,116.1 678.7,116.4 679.3,115.6 679.8,112.8 680.4,117.0 680.9,112.7 681.5,116.0 682.0,115.5 682.6,109.2 683.1,118.4 683.7,122.9 684.2,115.9 684.8,115.4 685.3,119.9 685.9,113.7 686.4,117.7 687.0,118.5 687.5,116.4 688.1,117.9 688.6,115.9 689.2,116.9 689.7,120.6 690.3,116.4 690.8,117.5 691.4,117.3 691.9,121.0 692.5,118.7 693.0,117.6 693.6,121.1 694.1,114.7 694.7,115.3 695.2,121.7 695.8,126.5 696.3,120.0 696.9,122.7 697.4,118.0 698.0,122.6 698.5,123.0 699.1,124.4 699.6,120.9 700.2,128.8 700.7,120.9 701.3,128.2 701.8,121.1 702.4,126.7 702.9,128.5 703.5,131.2 704.0,125.0 704.6,120.9 705.1,128.3 705.7,124.1 706.2,123.4 706.8,125.1 707.3,124.4 707.9,129.5 708.4,128.1 709.0,129.8 709.5,130.6 710.1,127.3 710.6,130.7 711.2,132.4 711.7,134.5 712.3,129.9 712.8,128.9 713.4,127.3 713.9,129.0 714.5,130.4 715.0,131.3 715.6,127.0 716.1,129.9 716.7,130.7 717.2,129.8 717.8,129.9 718.3,132.9 718.9,129.3 719.4,133.6 720.0,129.3 720.5,133.2 721.1,129.6 721.6,136.2 722.2,135.1 722.7,137.0 723.3,130.9 723.8,129.6 724.4,129.8 724.9,133.0 725.5,136.7 726.0,135.8 726.6,135.8 727.1,130.5 727.7,137.2 728.2,136.2 728.8,132.7 729.3,127.1 729.9,132.1 730.4,134.1 731.0,139.0 731.5,135.2 732.1,134.5 732.6,139.2 733.2,139.2 733.7,135.9 734.3,136.7 734.8,138.6 735.4,133.0 735.9,136.3 736.5,134.0 737.0,132.5 737.6,136.8 738.1,138.6 738.7,140.9 739.2,137.9 739.8,139.0 740.3,135.4 740.9,131.7 741.4,134.3 742.0,137.4 742.5,134.7 743.1,142.0 743.6,140.1 744.2,136.2 744.7,141.9 745.3,138.9 745.8,141.9 746.4,136.9 746.9,139.8 747.5,137.1 748.0,138.0 748.6,141.4 749.1,143.8 749.7,138.8 750.2,139.5 750.8,136.4 751.3,138.5 751.9,140.7 752.4,135.9 753.0,138.4 753.5,136.7 754.1,140.7 754.6,142.9 755.2,141.5 755.7,140.0 756.3,138.1 756.8,136.6 757.4,141.5 757.9,146.0 758.5,141.2 759.0,142.0 759.6,141.1 760.1,139.4 760.7,145.9 761.2,145.1 761.8,139.1 762.3,140.0 762.9,147.6 763.4,141.5 764.0,144.1 764.5,141.5 765.1,145.6 765.6,142.6 766.2,143.4 766.7,142.1 767.3,150.9 767.8,153.1 768.4,146.5 768.9,148.0 769.5,147.9 770.0,146.5 770.6,146.4" fill="none" stroke="none" marker-start="url(#ib)" marker-mid="url(#ib)" marker-end="url(#ib)"/>
<polyline points="412.5,315.6 413.2,313.5 414.3,313.1 415.8,311.1 416.5,309.7 417.5,309.5 416.4,307.5 417.7,307.7 416.8,306.2 417.8,305.3 420.5,304.4 419.8,302.9 422.6,304.1 421.8,300.0 421.1,299.8 421.3,296.0 420.2,295.6 424.8,292.1 425.0,290.6 428.8,289.1 427.5,287.3 425.9,285.5 424.6,284.1 424.2,282.5 426.6,280.0 427.6,278.5 426.1,276.8 429.7,274.5 430.7,272.9 428.4,273.2 430.0,268.3 428.8,270.2 433.0,266.0 430.7,265.7 430.9,263.5 430.2,261.7 432.2,261.0 431.6,260.8 436.4,257.0 436.3,255.4 434.0,253.0 435.1,254.4 436.9,251.5 437.7,249.6 436.5,246.3 440.6,241.9 440.1,243.0 442.7,238.1 436.1,237.6 438.5,237.7 442.5,233.6 442.3,231.5 442.1,227.5 441.3,229.4 444.3,227.0 443.4,223.8 446.7,223.0 446.9,218.1 447.2,217.0 443.6,216.6 447.4,215.5 450.1,212.1 450.7,208.4 450.4,207.5 450.8,208.1 448.5,203.6 452.4,203.0 453.6,201.5 451.9,198.2 452.6,197.3 452.2,192.6 453.2,192.9 453.0,192.2 454.8,191.5 454.3,190.9 452.9,186.1 454.8,186.0 456.9,183.2 457.1,180.3 459.5,178.5 459.3,177.9 460.4,176.2 458.9,173.0 461.2,177.4 459.0,170.6 459.6,170.0 462.5,166.4 462.1,170.2 461.1,158.9 464.3,160.5 465.6,159.4 465.1,159.1 466.5,154.5 466.4,150.4 467.0,153.1 464.9,149.2 463.9,145.2 466.7,143.1 462.9,140.9 467.5,139.6 467.2,133.7 469.6,135.5 468.9,132.1 470.5,132.6 469.8,130.6 471.3,126.0 474.3,129.6 471.3,126.8 470.9,121.8 475.7,120.0 475.4,119.4 474.9,120.3 475.0,120.9 476.4,114.7 476.2,113.7 478.2,115.2 477.3,112.7 477.5,111.4 479.4,109.9 478.5,108.2 480.4,111.6 479.3,108.6 480.5,104.2 481.7,106.6 481.5,106.8 483.5,102.2 483.1,100.5 483.9,97.4 482.7,97.6 485.3,96.6 485.5,98.0 484.5,91.6 486.7,88.9 487.3,90.5 487.1,91.6 487.5,84.8 487.9,88.2 489.3,85.8 489.8,84.0 490.2,86.2 491.8,87.8 491.4,80.7 492.1,83.8 491.9,81.9 493.2,83.1 493.9,80.7 493.9,78.3 495.3,81.4 495.2,79.5 495.9,75.0 496.3,71.8 496.9,74.4 497.1,76.0 498.1,76.8 498.4,72.7 499.2,72.5 499.7,68.1 500.3,71.1 500.8,72.0 501.4,69.6 501.9,70.3 502.5,67.4 503.0,67.1 503.6,69.8 504.1,64.4 504.7,68.2 505.2,70.9 505.8,65.7 506.3,65.5 506.9,64.2 507.4,62.5 508.0,64.1 508.5,61.9 509.1,64.4 509.6,63.2 510.2,61.2 510.7,64.2 511.3,66.6 511.8,65.8 512.4,62.5 512.9,63.0 513.5,59.8 514.0,61.9 514.6,64.3 515.1,64.5 515.7,66.0 516.2,57.6 516.8,66.4 517.3,62.9 517.9,66.2 518.4,61.6 519.0,65.1 519.5,61.3 520.1,58.1 520.6,62.1 521.2,59.6 521.7,60.9 522.3,62.5 522.8,63.2 523.4,62.8 523.9,63.6 524.5,56.1 525.0,64.1 525.6,58.1 526.1,60.9 526.7,59.3 527.2,57.1 527.8,63.1 528.3,57.5 528.9,58.9 529.4,64.9 530.0,53.9 530.5,55.6 531.1,63.5 531.6,59.4 532.2,63.0 532.7,60.7 533.3,59.3 533.8,62.8 534.4,58.6 534.9,59.1 535.5,61.4 536.0,57.4 536.6,56.4 537.1,55.7 537.7,63.4 538.2,66.3 538.8,64.0 539.3,58.5 539.9,58.8 540.4,57.4 541.0,60.3 541.5,63.4 542.1,60.0 542.6,60.2 543.2,50.7 543.7,61.2 544.3,56.8 544.8,59.6 545.4,61.5 545.9,60.8 546.5,62.7 547.0,65.2 547.6,53.9 548.1,56.1 548.7,65.7 549.2,62.3 549.8,58.7 550.3,60.1 550.9,61.0 551.4,64.2 552.0,60.1 552.5,61.2 553.1,57.3 553.6,65.7 554.2,62.8 554.7,60.1 555.3,57.6 555.8,61.7 556.4,64.5 556.9,68.9 557.5,67.8 558.0,61.1 558.6,61.2 559.1,59.7 559.7,64.1 560.2,60.7 560.8,64.9 561.3,64.3 561.9,64.8 562.4,60.9 563.0,67.5 563.5,63.8 564.1,61.0 564.6,64.8 565.2,65.8 565.7,65.7 566.3,68.7 566.8,69.8 567.4,73.4 567.9,66.6 568.5,70.9 569.0,59.8 569.6,73.6 570.1,68.2 570.7,72.4 571.2,68.3 571.8,70.9 572.3,71.6 572.9,68.2 573.4,68.7 574.0,62.1 574.5,72.8 575.1,71.1 575.6,71.3 576.2,76.0 576.7,73.7 577.3,73.8 577.8,67.8 578.4,74.3 578.9,73.3 579.5,77.5 580.0,73.5 580.6,71.7 581.1,75.0 581.7,81.6 582.2,73.8 582.8,80.6 583.3,76.6 583.9,71.4 584.4,79.7 585.0,85.2 585.5,79.8 586.1,75.6 586.6,78.4 587.2,76.7 587.7,88.3 588.3,81.7 588.8,73.1 589.4,83.0 589.9,82.2 590.5,78.0 591.0,79.5 591.6,81.4 592.1,87.1 592.7,80.5 593.2,80.1 593.8,85.5 594.3,80.9 594.9,79.9 595.4,82.8 596.0,85.9 596.5,84.1 597.1,82.7 597.6,88.4 598.2,88.5 598.7,79.6 599.3,81.1 599.8,82.0 600.4,84.3 600.9,85.7 601.5,85.1 602.0,85.8 602.6,87.1 603.1,82.0 603.7,79.5 604.2,87.2 604.8,90.2 605.3,87.2 605.9,85.6 606.4,88.7 607.0,86.2 607.5,83.4 608.1,86.4 608.6,90.0 609.2,88.9 609.7,90.2 610.3,86.8 610.8,90.2 611.4,93.0 611.9,87.9 612.5,87.6 613.0,93.0 613.6,89.8 614.1,86.2 614.7,88.7 615.2,94.1 615.8,91.5 616.3,96.2 616.9,92.7 617.4,91.8 618.0,94.5 618.5,89.7 619.1,95.0 619.6,91.8 620.2,91.5 620.7,93.8 621.3,91.4 621.8,89.7 622.4,90.7 622.9,95.2 623.5,94.8 624.0,94.5 624.6,96.7 625.1,92.1 625.7,93.9 626.2,100.3 626.8,92.8 627.3,99.8 627.9,95.5 628.4,98.2 629.0,97.6 629.5,96.4 630.1,97.8 630.6,100.7 631.2,96.0 631.7,95.6 632.3,101.3 632.8,97.8 633.4,98.8 633.9,99.0 634.5,98.6 635.0,94.8 635.6,100.1 636.1,99.3 636.7,96.9 637.2,99.6 637.8,102.2 638.3,106.9 638.9,100.4 639.4,106.3 640.0,101.2 640.5,104.2 641.1,102.3 641.6,105.5 642.2,103.9 642.7,102.6 643.3,99.3 643.8,107.1 644.4,99.9 644.9,102.8 645.5,110.1 646.0,105.7 646.6,105.5 647.1,105.8 647.7,106.3 648.2,104.7 648.8,107.0 649.3,105.6 649.9,105.3 650.4,107.8 651.0,108.5 651.5,107.8 652.1,109.7 652.6,112.6 653.2,112.2 653.7,107.6 654.3,104.1 654.8,110.9 655.4,108.0 655.9,110.0 656.5,106.8 657.0,110.5 657.6,104.8 658.1,108.7 658.7,104.3 659.2,114.4 659.8,107.8 660.3,102.4 660.9,112.6 661.4,111.8 662.0,113.1 662.5,105.8 663.1,110.4 663.6,113.3 664.2,109.0 664.7,110.9 665.3,109.2 665.8,109.1 666.4,114.3 666.9,108.0 667.5,110.6 668.0,112.4 668.6,111.0 669.1,113.5 669.7,105.3 670.2,114.8 670.8,108.1 671.3,111.2 671.9,111.0 672.4,113.6 673.0,111.9 673.5,111.4 674.1,114.9 674.6,119.2 675.2,111.5 675.7,111.6 676.3,112.0 676.8,110.4 677.4,110.6 677.9,113.0 678.5,116.8 679.0,113.4 679.6,112.8 680.1,115.1 680.7,113.4 681.2,124.0 681.8,120.8 682.3,116.6 682.9,111.8 683.4,115.4 684.0,114.7 684.5,115.0 685.1,111.5 685.6,116.7 686.2,116.8 686.7,116.8 687.3,115.3 687.8,120.5 688.4,117.1 688.9,113.3 689.5,117.2 690.0,122.9 690.6,124.4 691.1,117.8 691.7,120.9 692.2,123.4 692.8,124.7 693.3,120.9 693.9,123.4 694.4,121.6 695.0,117.8 695.5,126.1 696.1,123.5 696.6,125.2 697.2,123.6 697.7,121.8 698.3,123.2 698.8,125.9 699.4,121.4 699.9,129.9 700.5,132.3 701.0,119.2 701.6,128.8 702.1,125.0 702.7,128.3 703.2,127.2 703.8,126.3 704.3,129.7 704.9,127.5 705.4,131.8 706.0,128.6 706.5,123.5 707.1,127.4 707.6,128.1 708.2,126.6 708.7,124.8 709.3,134.3 709.8,128.4 710.4,128.7 710.9,124.1 711.5,130.7 712.0,128.8 712.6,132.5 713.1,134.4 713.7,127.6 714.2,127.5 714.8,133.1 715.3,133.0 715.9,130.8 716.4,132.2 717.0,129.2 717.5,130.1 718.1,130.3 718.6,124.1 719.2,132.6 719.7,132.9 720.3,128.0 720.8,129.2 721.4,131.7 721.9,133.1 722.5,131.1 723.0,129.8 723.6,132.5 724.1,131.7 724.7,128.5 725.2,130.6 725.8,130.5 726.3,133.7 726.9,128.0 727.4,129.6 728.0,130.9 728.5,132.3 729.1,139.3 729.6,132.0 730.2,135.7 730.7,135.0 731.3,136.7 731.8,138.1 732.4,134.9 732.9,130.6 733.5,132.5 734.0,138.1 734.6,140.2 735.1,137.9 735.7,141.4 736.2,136.5 736.8,132.3 737.3,135.2 737.9,136.0 738.4,138.1 739.0,138.2 739.5,133.3 740.1,139.6 740.6,134.7 741.2,137.4 741.7,138.8 742.3,139.2 742.8,138.9 743.4,136.0 743.9,137.5 744.5,140.9 745.0,137.1 745.6,135.2 746.1,131.5 746.7,139.3 747.2,136.8 747.8,139.7 748.3,136.8 748.9,138.9 749.4,139.4 750.0,143.5 750.5,138.4 751.1,137.7 751.6,141.8 752.2,144.1 752.7,139.2 753.3,143.6 753.8,142.3 754.4,144.0 754.9,137.2 755.5,143.2 756.0,142.3 756.6,143.9 757.1,141.4 757.7,143.3 758.2,137.3 758.8,143.9 759.3,148.1 759.9,144.8 760.4,144.6 761.0,145.5 761.5,148.8 762.1,142.7 762.6,140.5 763.2,141.7 763.7,143.1 764.3,145.4 764.8,147.7 765.4,143.2 765.9,142.4 766.5,148.1 767.0,148.7 767.6,143.3 768.1,147.9 768.7,145.2 769.2,144.3 769.8,145.4 770.3,143.3" fill="none" stroke="none" marker-start="url(#ib)" marker-mid="url(#ib)" marker-end="url(#ib)"/>
<polyline points="414.3,294.4 415.5,292.2 416.7,289.9 417.9,287.5 419.1,284.9 420.3,282.2 421.5,279.4 422.7,276.4 423.9,273.2 425.1,269.9 426.2,266.4 427.4,263.1 428.6,259.7 429.8,256.4 431.0,253.1 432.2,249.8 433.4,246.5 434.6,243.2 435.8,239.9 437.0,236.6" fill="none" stroke="#E0181C" stroke-width="2.4" stroke-linecap="round"/><polyline points="436.0,239.4 437.6,235.0 439.2,230.6 440.8,226.3 442.3,222.0 443.9,217.8 445.5,213.7 447.1,209.8 448.7,206.0 450.3,202.3 451.9,198.6 453.4,194.8 455.0,190.7 456.6,186.2 458.2,181.3 459.8,175.8 461.4,170.0 463.0,164.0 464.6,158.2 466.1,152.5 467.7,146.9 469.3,141.3 470.9,135.7 472.5,130.4 474.1,125.4 475.7,120.9 477.2,116.7 478.8,112.6 480.4,108.8 482.0,105.2" fill="none" stroke="#C8304A" stroke-opacity="0.45" stroke-width="2"/>
<path d="M132.7 775.0H772.7V1175.0" fill="none" stroke="#d6d6d6" stroke-width="3.4"/>
<path d="M132.7 775.0V1175.0H772.7" fill="none" stroke="#c6c6c6" stroke-width="2.6"/>
<path d="M123.69999999999999 1175.0H140.7M126.19999999999999 1135.0H138.2M123.69999999999999 1095.0H140.7M126.19999999999999 1055.0H138.2M123.69999999999999 1015.0H140.7M126.19999999999999 975.0H138.2M123.69999999999999 935.0H140.7M126.19999999999999 895.0H138.2M123.69999999999999 855.0H140.7M126.19999999999999 815.0H138.2M123.69999999999999 775.0H140.7M132.7 1168.5V1181.0M196.7 1168.5V1181.0M260.7 1168.5V1181.0M324.7 1168.5V1181.0M388.7 1168.5V1181.0M452.7 1168.5V1181.0M516.7 1168.5V1181.0M580.7 1168.5V1181.0M644.7 1168.5V1181.0M708.7 1168.5V1181.0M772.7 1168.5V1181.0" stroke="#b2b2b2" stroke-width="2"/>
<text x="110.8" y="1184.4" text-anchor="end" font-size="28.3">0</text>
<text x="110.8" y="1104.4" text-anchor="end" font-size="28.3">0.2</text>
<text x="110.8" y="1024.4" text-anchor="end" font-size="28.3">0.4</text>
<text x="110.8" y="944.4" text-anchor="end" font-size="28.3">0.6</text>
<text x="110.8" y="864.4" text-anchor="end" font-size="28.3">0.8</text>
<text x="110.8" y="784.4" text-anchor="end" font-size="28.3">1</text>
<text x="132.7" y="1216.2" text-anchor="middle" font-size="27.5">0</text>
<text x="260.7" y="1216.2" text-anchor="middle" font-size="27.5">1</text>
<text x="388.7" y="1216.2" text-anchor="middle" font-size="27.5">2</text>
<text x="516.7" y="1216.2" text-anchor="middle" font-size="27.5">3</text>
<text x="644.7" y="1216.2" text-anchor="middle" font-size="27.5">4</text>
<text x="772.7" y="1216.2" text-anchor="middle" font-size="27.5">5</text>
<text x="417" y="1262.8" font-size="38"><tspan font-style="italic">t</tspan> / <tspan font-style="italic">t</tspan><tspan font-size="27.5" dy="9">m</tspan></text>
<text transform="translate(47 974.7) rotate(-90)" text-anchor="middle" font-size="38">(<tspan font-style="italic">j</tspan> / <tspan font-style="italic">j</tspan><tspan font-size="27" dy="8">m</tspan><tspan dy="-8">)</tspan><tspan font-size="27" dy="-12.5">2</tspan></text>
<text x="671" y="860" font-size="48">b)</text>
<polyline points="132.1,1143.8 137.0,1167.5 141.5,1167.0 146.0,1167.5 150.5,1168.0 155.0,1168.5 159.5,1169.0 163.5,988.1 168.7,971.6 173.9,953.3 179.1,933.8 184.3,919.0 189.5,896.1 194.7,881.8 199.9,867.4 205.1,847.5 210.3,836.4 215.5,825.1 220.7,809.6 225.9,798.6 231.1,794.1 236.3,785.2 241.5,778.8 246.7,776.0 251.9,775.6 257.1,777.0 262.3,778.3 267.5,779.9 272.7,785.4 277.9,791.0 283.1,795.1 288.3,799.7 293.5,802.3 298.7,806.1 303.9,811.2 309.1,815.1 314.3,818.3 319.5,825.3 324.7,826.3 329.9,831.4 335.1,835.3 340.3,839.2 345.5,845.6 350.7,850.8 355.9,853.9 361.1,858.7 366.3,866.0 371.5,866.2 376.7,871.9 381.9,877.6 387.1,881.7 392.3,885.4 397.5,890.5 402.7,895.3 407.9,899.7 413.1,904.5 418.3,910.8 423.5,913.6 428.7,917.3 433.9,922.7 439.1,926.4 444.3,928.1 449.5,932.4 454.7,935.6 459.9,941.2 465.1,945.6 470.3,947.9 475.5,953.4 480.7,954.8 485.9,958.8 491.1,962.7 496.3,966.6 501.5,972.0 506.7,972.4 511.9,978.0 517.1,980.9 522.3,985.6 527.5,985.8 532.7,989.2 537.9,995.6 543.1,998.0 548.3,1000.5 553.5,1001.6 558.7,1005.4 563.9,1006.5 569.1,1007.4 574.3,1010.6 579.5,1012.4 584.7,1013.4 589.9,1015.8 595.1,1017.5 600.3,1020.8 605.5,1023.0 610.7,1024.9 615.9,1026.5 621.1,1025.6 626.3,1029.2 631.5,1031.2 636.7,1032.4 641.9,1032.5 647.1,1031.9 652.3,1037.3 657.5,1037.9 662.7,1041.7 667.9,1040.6 673.1,1044.9 678.3,1045.5 683.5,1046.2 688.7,1048.7 693.9,1050.2 699.1,1052.4 704.3,1053.3 709.5,1054.6 714.7,1054.8 719.9,1054.1 725.1,1055.0 730.3,1056.7 735.5,1057.0 740.7,1056.4 745.9,1056.7 751.1,1060.8 756.3,1060.7 761.5,1063.4 766.7,1060.9 771.9,1063.2" fill="none" stroke="none" marker-start="url(#bs)" marker-mid="url(#bs)" marker-end="url(#bs)"/>
<polyline points="133.3,1175.0 134.4,1175.0 135.5,1175.0 136.5,1174.9 137.6,1174.8 138.7,1174.7 139.7,1174.6 140.8,1174.3 141.9,1174.0 142.9,1173.6 144.0,1173.2 145.1,1172.6 146.1,1172.0 147.2,1171.2 148.3,1170.3 149.4,1169.3 150.4,1168.2 151.5,1167.0 152.6,1165.6 153.6,1164.0 154.7,1162.3 155.8,1160.5 156.8,1158.5 157.9,1156.4 159.0,1154.0 160.0,1151.6 161.1,1148.9 162.2,1146.1 163.2,1143.2 164.3,1140.0 165.4,1136.7 166.4,1133.3 167.5,1129.6 168.6,1125.9 169.6,1121.9 170.7,1117.8 171.8,1113.6 172.8,1109.1 173.9,1104.6 175.0,1099.9 176.0,1095.1 177.1,1090.1 178.2,1085.0 179.2,1079.8 180.3,1074.5 181.4,1069.0 182.4,1063.5 183.5,1057.9 184.6,1052.1 185.6,1046.3 186.7,1040.4 187.8,1034.5 188.8,1028.5 189.9,1022.4 191.0,1016.3 192.0,1010.2 193.1,1004.0 194.2,997.8 195.2,991.6 196.3,985.3 197.4,979.1 198.5,972.9 199.5,966.7 200.6,960.5 201.7,954.4 202.7,948.3 203.8,942.2 204.9,936.2 205.9,930.2 207.0,924.3 208.1,918.5 209.1,912.7 210.2,907.0 211.3,901.4 212.3,895.9 213.4,890.5 214.5,885.2 215.5,880.0 216.6,874.8 217.7,869.9 218.7,865.0 219.8,860.2 220.9,855.6 221.9,851.1 223.0,846.7 224.1,842.4 225.1,838.3 226.2,834.3 227.3,830.4 228.3,826.7 229.4,823.1 230.5,819.6 231.5,816.3 232.6,813.1 233.7,810.0 234.7,807.1 235.8,804.4 236.9,801.7 237.9,799.2 239.0,796.8 240.1,794.6 241.1,792.5 242.2,790.5 243.3,788.7 244.3,786.9 245.4,785.4 246.5,783.9 247.5,782.5 248.6,781.3 249.7,780.2 250.8,779.2 251.8,778.3 252.9,777.5 254.0,776.9 255.0,776.3 256.1,775.9 257.2,775.5 258.2,775.2 259.3,775.1 260.4,775.0 261.4,775.0 262.5,775.1 263.6,775.3 264.6,775.6 265.7,775.9 266.8,776.3 267.8,776.8 268.9,777.4 270.0,778.0 271.0,778.7 272.1,779.5 273.2,780.3 274.2,781.2 275.3,782.1 276.4,783.1 277.4,784.1 278.5,785.2 279.6,786.3 280.6,787.5 281.7,788.7 282.8,789.9 283.8,791.2 284.9,792.5 286.0,793.9 287.0,795.2 288.1,796.6 289.2,798.1 290.2,799.5 291.3,801.0 292.4,802.5 293.4,804.0 294.5,805.6 295.6,807.1 296.6,808.7 297.7,810.3 298.8,811.9 299.9,813.5 300.9,815.1 302.0,816.7 303.1,818.4 304.1,820.0 305.2,821.6 306.3,823.3 307.3,824.9 308.4,826.6 309.5,828.2 310.5,829.9 311.6,831.6 312.7,833.2 313.7,834.9 314.8,836.5 315.9,838.2 316.9,839.8 318.0,841.4 319.1,843.1 320.1,844.7 321.2,846.3 322.3,848.0 323.3,849.6 324.4,851.2 325.5,852.8 326.5,854.4 327.6,855.9 328.7,857.5 329.7,859.1 330.8,860.6 331.9,862.2 332.9,863.7 334.0,865.3 335.1,866.8 336.1,868.3 337.2,869.8 338.3,871.3 339.3,872.8 340.4,874.2 341.5,875.7 342.5,877.1 343.6,878.6 344.7,880.0 345.7,881.4 346.8,882.8 347.9,884.2 349.0,885.6 350.0,887.0 351.1,888.3 352.2,889.7 353.2,891.0 354.3,892.4 355.4,893.7 356.4,895.0 357.5,896.3 358.6,897.6 359.6,898.9 360.7,900.1 361.8,901.4 362.8,902.7 363.9,903.9 365.0,905.1 366.0,906.3 367.1,907.5 368.2,908.7 369.2,909.9 370.3,911.1 371.4,912.3 372.4,913.4 373.5,914.6 374.6,915.7 375.6,916.9 376.7,918.0 377.8,919.1 378.8,920.2 379.9,921.3 381.0,922.4 382.0,923.4 383.1,924.5 384.2,925.6 385.2,926.6 386.3,927.7 387.4,928.7 388.4,929.7 389.5,930.7 390.6,931.7 391.6,932.7 392.7,933.7 393.8,934.7 394.8,935.7 395.9,936.7 397.0,937.6 398.0,938.6 399.1,939.5 400.2,940.5 401.3,941.4 402.3,942.3 403.4,943.2 404.5,944.1 405.5,945.0 406.6,945.9 407.7,946.8 408.7,947.7 409.8,948.6 410.9,949.5 411.9,950.3 413.0,951.2 414.1,952.0 415.1,952.9 416.2,953.7 417.3,954.5 418.3,955.3 419.4,956.2 420.5,957.0 421.5,957.8 422.6,958.6 423.7,959.4 424.7,960.2 425.8,960.9 426.9,961.7 427.9,962.5 429.0,963.3 430.1,964.0 431.1,964.8 432.2,965.5 433.3,966.3 434.3,967.0 435.4,967.7 436.5,968.5 437.5,969.2 438.6,969.9 439.7,970.6 440.7,971.3 441.8,972.0 442.9,972.7 443.9,973.4 445.0,974.1 446.1,974.8 447.1,975.5 448.2,976.2 449.3,976.8 450.4,977.5 451.4,978.1 452.5,978.8 453.6,979.5 454.6,980.1 455.7,980.8 456.8,981.4 457.8,982.0 458.9,982.7 460.0,983.3 461.0,983.9 462.1,984.5 463.2,985.1 464.2,985.8 465.3,986.4 466.4,987.0 467.4,987.6 468.5,988.2 469.6,988.8 470.6,989.3 471.7,989.9 472.8,990.5 473.8,991.1 474.9,991.7 476.0,992.2 477.0,992.8 478.1,993.4 479.2,993.9 480.2,994.5 481.3,995.0 482.4,995.6 483.4,996.1 484.5,996.7 485.6,997.2 486.6,997.7 487.7,998.3 488.8,998.8 489.8,999.3 490.9,999.9 492.0,1000.4 493.0,1000.9 494.1,1001.4 495.2,1001.9 496.2,1002.4 497.3,1002.9 498.4,1003.4 499.5,1003.9 500.5,1004.4 501.6,1004.9 502.7,1005.4 503.7,1005.9 504.8,1006.4 505.9,1006.9 506.9,1007.3 508.0,1007.8 509.1,1008.3 510.1,1008.8 511.2,1009.2 512.3,1009.7 513.3,1010.2 514.4,1010.6 515.5,1011.1 516.5,1011.5 517.6,1012.0 518.7,1012.4 519.7,1012.9 520.8,1013.3 521.9,1013.8 522.9,1014.2 524.0,1014.7 525.1,1015.1 526.1,1015.5 527.2,1016.0 528.3,1016.4 529.3,1016.8 530.4,1017.2 531.5,1017.7 532.5,1018.1 533.6,1018.5 534.7,1018.9 535.7,1019.3 536.8,1019.7 537.9,1020.2 538.9,1020.6 540.0,1021.0 541.1,1021.4 542.1,1021.8 543.2,1022.2 544.3,1022.6 545.3,1023.0 546.4,1023.3 547.5,1023.7 548.6,1024.1 549.6,1024.5 550.7,1024.9 551.8,1025.3 552.8,1025.7 553.9,1026.0 555.0,1026.4 556.0,1026.8 557.1,1027.2 558.2,1027.5 559.2,1027.9 560.3,1028.3 561.4,1028.6 562.4,1029.0 563.5,1029.4 564.6,1029.7 565.6,1030.1 566.7,1030.4 567.8,1030.8 568.8,1031.1 569.9,1031.5 571.0,1031.8 572.0,1032.2 573.1,1032.5 574.2,1032.9 575.2,1033.2 576.3,1033.6 577.4,1033.9 578.4,1034.2 579.5,1034.6 580.6,1034.9 581.6,1035.2 582.7,1035.6 583.8,1035.9 584.8,1036.2 585.9,1036.6 587.0,1036.9 588.0,1037.2 589.1,1037.5 590.2,1037.9 591.2,1038.2 592.3,1038.5 593.4,1038.8 594.4,1039.1 595.5,1039.4 596.6,1039.7 597.6,1040.1 598.7,1040.4 599.8,1040.7 600.9,1041.0 601.9,1041.3 603.0,1041.6 604.1,1041.9 605.1,1042.2 606.2,1042.5 607.3,1042.8 608.3,1043.1 609.4,1043.4 610.5,1043.7 611.5,1044.0 612.6,1044.3 613.7,1044.6 614.7,1044.8 615.8,1045.1 616.9,1045.4 617.9,1045.7 619.0,1046.0 620.1,1046.3 621.1,1046.5 622.2,1046.8 623.3,1047.1 624.3,1047.4 625.4,1047.7 626.5,1047.9 627.5,1048.2 628.6,1048.5 629.7,1048.8 630.7,1049.0 631.8,1049.3 632.9,1049.6 633.9,1049.8 635.0,1050.1 636.1,1050.4 637.1,1050.6 638.2,1050.9 639.3,1051.1 640.3,1051.4 641.4,1051.7 642.5,1051.9 643.5,1052.2 644.6,1052.4 645.7,1052.7 646.7,1052.9 647.8,1053.2 648.9,1053.5 650.0,1053.7 651.0,1054.0 652.1,1054.2 653.2,1054.5 654.2,1054.7 655.3,1054.9 656.4,1055.2 657.4,1055.4 658.5,1055.7 659.6,1055.9 660.6,1056.2 661.7,1056.4 662.8,1056.6 663.8,1056.9 664.9,1057.1 666.0,1057.3 667.0,1057.6 668.1,1057.8 669.2,1058.0 670.2,1058.3 671.3,1058.5 672.4,1058.7 673.4,1059.0 674.5,1059.2 675.6,1059.4 676.6,1059.7 677.7,1059.9 678.8,1060.1 679.8,1060.3 680.9,1060.6 682.0,1060.8 683.0,1061.0 684.1,1061.2 685.2,1061.4 686.2,1061.7 687.3,1061.9 688.4,1062.1 689.4,1062.3 690.5,1062.5 691.6,1062.7 692.6,1063.0 693.7,1063.2 694.8,1063.4 695.8,1063.6 696.9,1063.8 698.0,1064.0 699.1,1064.2 700.1,1064.4 701.2,1064.6 702.3,1064.8 703.3,1065.0 704.4,1065.3 705.5,1065.5 706.5,1065.7 707.6,1065.9 708.7,1066.1 709.7,1066.3 710.8,1066.5 711.9,1066.7 712.9,1066.9 714.0,1067.1 715.1,1067.3 716.1,1067.5 717.2,1067.7 718.3,1067.9 719.3,1068.0 720.4,1068.2 721.5,1068.4 722.5,1068.6 723.6,1068.8 724.7,1069.0 725.7,1069.2 726.8,1069.4 727.9,1069.6 728.9,1069.8 730.0,1070.0 731.1,1070.1 732.1,1070.3 733.2,1070.5 734.3,1070.7 735.3,1070.9 736.4,1071.1 737.5,1071.3 738.5,1071.4 739.6,1071.6 740.7,1071.8 741.7,1072.0 742.8,1072.2 743.9,1072.3 744.9,1072.5 746.0,1072.7 747.1,1072.9 748.2,1073.1 749.2,1073.2 750.3,1073.4 751.4,1073.6 752.4,1073.8 753.5,1073.9 754.6,1074.1 755.6,1074.3 756.7,1074.5 757.8,1074.6 758.8,1074.8 759.9,1075.0 761.0,1075.1 762.0,1075.3 763.1,1075.5 764.2,1075.6 765.2,1075.8 766.3,1076.0 767.4,1076.1 768.4,1076.3 769.5,1076.5 770.6,1076.6 771.6,1076.8 772.7,1077.0" fill="none" stroke="#F00000" stroke-width="3.8"/>
<polyline points="132.7,1175.0 133.8,1164.8 134.8,1154.8 135.9,1145.1 137.0,1135.5 138.0,1126.1 139.1,1117.0 140.2,1108.0 141.2,1099.2 142.3,1090.6 143.4,1082.2 144.5,1073.9 145.5,1065.9 146.6,1058.0 147.7,1050.3 148.7,1042.7 149.8,1035.3 150.9,1028.1 151.9,1021.0 153.0,1014.1 154.1,1007.4 155.1,1000.8 156.2,994.3 157.3,988.0 158.3,981.8 159.4,975.8 160.5,969.9 161.5,964.1 162.6,958.4 163.7,952.9 164.8,947.5 165.8,942.3 166.9,937.2 168.0,932.1 169.0,927.2 170.1,922.4 171.2,917.8 172.2,913.2 173.3,908.8 174.4,904.4 175.4,900.2 176.5,896.0 177.6,892.0 178.6,888.1 179.7,884.2 180.8,880.5 181.8,876.8 182.9,873.3 184.0,869.8 185.1,866.4 186.1,863.1 187.2,859.9 188.3,856.8 189.3,853.7 190.4,850.8 191.5,847.9 192.5,845.1 193.6,842.4 194.7,839.7 195.7,837.1 196.8,834.6 197.9,832.2 198.9,829.8 200.0,827.5 201.1,825.3 202.1,823.1 203.2,821.0 204.3,818.9 205.4,816.9 206.4,815.0 207.5,813.2 208.6,811.4 209.6,809.6 210.7,807.9 211.8,806.3 212.8,804.7 213.9,803.2 215.0,801.7 216.0,800.2 217.1,798.9 218.2,797.5 219.2,796.3 220.3,795.0 221.4,793.8 222.4,792.7 223.5,791.6 224.6,790.5 225.7,789.5 226.7,788.5 227.8,787.6 228.9,786.7 229.9,785.9 231.0,785.0 232.1,784.3 233.1,783.5 234.2,782.8 235.3,782.1 236.3,781.5 237.4,780.9 238.5,780.3 239.5,779.8 240.6,779.3 241.7,778.8 242.8,778.4 243.8,778.0 244.9,777.6 246.0,777.2 247.0,776.9 248.1,776.6 249.2,776.4 250.2,776.1 251.3,775.9 252.4,775.7 253.4,775.5 254.5,775.4 255.6,775.3 256.6,775.2 257.7,775.1 258.8,775.1 259.8,775.0 260.9,775.0 262.0,775.0 263.1,775.1 264.1,775.1 265.2,775.2 266.3,775.3 267.3,775.4 268.4,775.5 269.5,775.7 270.5,775.9 271.6,776.0 272.7,776.2 273.7,776.5 274.8,776.7 275.9,776.9 276.9,777.2 278.0,777.5 279.1,777.8 280.1,778.1 281.2,778.4 282.3,778.8 283.4,779.1 284.4,779.5 285.5,779.8 286.6,780.2 287.6,780.6 288.7,781.0 289.8,781.5 290.8,781.9 291.9,782.3 293.0,782.8 294.0,783.3 295.1,783.7 296.2,784.2 297.2,784.7 298.3,785.2 299.4,785.8 300.4,786.3 301.5,786.8 302.6,787.4 303.7,787.9 304.7,788.5 305.8,789.0 306.9,789.6 307.9,790.2 309.0,790.8 310.1,791.4 311.1,792.0 312.2,792.6 313.3,793.2 314.3,793.8 315.4,794.5 316.5,795.1 317.5,795.7 318.6,796.4 319.7,797.0 320.7,797.7 321.8,798.4 322.9,799.0 324.0,799.7 325.0,800.4 326.1,801.0 327.2,801.7 328.2,802.4 329.3,803.1 330.4,803.8 331.4,804.5 332.5,805.2 333.6,805.9 334.6,806.6 335.7,807.4 336.8,808.1 337.8,808.8 338.9,809.5 340.0,810.3 341.0,811.0 342.1,811.7 343.2,812.5 344.3,813.2 345.3,813.9 346.4,814.7 347.5,815.4 348.5,816.2 349.6,816.9 350.7,817.7 351.7,818.4 352.8,819.2 353.9,819.9 354.9,820.7 356.0,821.4 357.1,822.2 358.1,823.0 359.2,823.7 360.3,824.5 361.3,825.3 362.4,826.0 363.5,826.8 364.6,827.6 365.6,828.3 366.7,829.1 367.8,829.9 368.8,830.6 369.9,831.4 371.0,832.2 372.0,832.9 373.1,833.7 374.2,834.5 375.2,835.2 376.3,836.0 377.4,836.8 378.4,837.6 379.5,838.3 380.6,839.1 381.6,839.9 382.7,840.6 383.8,841.4 384.9,842.2 385.9,842.9 387.0,843.7 388.1,844.5 389.1,845.2 390.2,846.0 391.3,846.8 392.3,847.5 393.4,848.3 394.5,849.1 395.5,849.8 396.6,850.6 397.7,851.4 398.7,852.1 399.8,852.9 400.9,853.6 401.9,854.4 403.0,855.2 404.1,855.9 405.2,856.7 406.2,857.4 407.3,858.2 408.4,858.9 409.4,859.7 410.5,860.4 411.6,861.2 412.6,861.9 413.7,862.7 414.8,863.4 415.8,864.1 416.9,864.9 418.0,865.6 419.0,866.4 420.1,867.1 421.2,867.8 422.2,868.6 423.3,869.3 424.4,870.0 425.5,870.8 426.5,871.5 427.6,872.2 428.7,872.9 429.7,873.7 430.8,874.4 431.9,875.1 432.9,875.8 434.0,876.5 435.1,877.2 436.1,878.0 437.2,878.7 438.3,879.4 439.3,880.1 440.4,880.8 441.5,881.5 442.5,882.2 443.6,882.9 444.7,883.6 445.8,884.3 446.8,885.0 447.9,885.7 449.0,886.4 450.0,887.1 451.1,887.8 452.2,888.4 453.2,889.1 454.3,889.8 455.4,890.5 456.4,891.2 457.5,891.8 458.6,892.5 459.6,893.2 460.7,893.9 461.8,894.5 462.9,895.2 463.9,895.9 465.0,896.5 466.1,897.2 467.1,897.9 468.2,898.5 469.3,899.2 470.3,899.8 471.4,900.5 472.5,901.1 473.5,901.8 474.6,902.4 475.7,903.1 476.7,903.7 477.8,904.3 478.9,905.0 479.9,905.6 481.0,906.3 482.1,906.9 483.2,907.5 484.2,908.1 485.3,908.8 486.4,909.4 487.4,910.0 488.5,910.6 489.6,911.3 490.6,911.9 491.7,912.5 492.8,913.1 493.8,913.7 494.9,914.3 496.0,914.9 497.0,915.5 498.1,916.1 499.2,916.7 500.2,917.3 501.3,917.9 502.4,918.5 503.5,919.1 504.5,919.7 505.6,920.3 506.7,920.9 507.7,921.5 508.8,922.1 509.9,922.6 510.9,923.2 512.0,923.8 513.1,924.4 514.1,925.0 515.2,925.5 516.3,926.1 517.3,926.7 518.4,927.2 519.5,927.8 520.5,928.4 521.6,928.9 522.7,929.5 523.8,930.0 524.8,930.6 525.9,931.1 527.0,931.7 528.0,932.2 529.1,932.8 530.2,933.3 531.2,933.9 532.3,934.4 533.4,935.0 534.4,935.5 535.5,936.0 536.6,936.6 537.6,937.1 538.7,937.6 539.8,938.2 540.8,938.7 541.9,939.2 543.0,939.7 544.1,940.3 545.1,940.8 546.2,941.3 547.3,941.8 548.3,942.3 549.4,942.9 550.5,943.4 551.5,943.9 552.6,944.4 553.7,944.9 554.7,945.4 555.8,945.9 556.9,946.4 557.9,946.9 559.0,947.4 560.1,947.9 561.1,948.4 562.2,948.9 563.3,949.4 564.4,949.9 565.4,950.3 566.5,950.8 567.6,951.3 568.6,951.8 569.7,952.3 570.8,952.8 571.8,953.2 572.9,953.7 574.0,954.2 575.0,954.7 576.1,955.1 577.2,955.6 578.2,956.1 579.3,956.5 580.4,957.0 581.4,957.5 582.5,957.9 583.6,958.4 584.7,958.8 585.7,959.3 586.8,959.7 587.9,960.2 588.9,960.6 590.0,961.1 591.1,961.5 592.1,962.0 593.2,962.4 594.3,962.9 595.3,963.3 596.4,963.8 597.5,964.2 598.5,964.6 599.6,965.1 600.7,965.5 601.7,965.9 602.8,966.4 603.9,966.8 605.0,967.2 606.0,967.7 607.1,968.1 608.2,968.5 609.2,968.9 610.3,969.3 611.4,969.8 612.4,970.2 613.5,970.6 614.6,971.0 615.6,971.4 616.7,971.8 617.8,972.2 618.8,972.7 619.9,973.1 621.0,973.5 622.0,973.9 623.1,974.3 624.2,974.7 625.3,975.1 626.3,975.5 627.4,975.9 628.5,976.3 629.5,976.7 630.6,977.1 631.7,977.5 632.7,977.8 633.8,978.2 634.9,978.6 635.9,979.0 637.0,979.4 638.1,979.8 639.1,980.2 640.2,980.5 641.3,980.9 642.3,981.3 643.4,981.7 644.5,982.1 645.6,982.4 646.6,982.8 647.7,983.2 648.8,983.6 649.8,983.9 650.9,984.3 652.0,984.7 653.0,985.0 654.1,985.4 655.2,985.8 656.2,986.1 657.3,986.5 658.4,986.8 659.4,987.2 660.5,987.6 661.6,987.9 662.6,988.3 663.7,988.6 664.8,989.0 665.9,989.3 666.9,989.7 668.0,990.0 669.1,990.4 670.1,990.7 671.2,991.1 672.3,991.4 673.3,991.8 674.4,992.1 675.5,992.4 676.5,992.8 677.6,993.1 678.7,993.5 679.7,993.8 680.8,994.1 681.9,994.5 683.0,994.8 684.0,995.1 685.1,995.5 686.2,995.8 687.2,996.1 688.3,996.5 689.4,996.8 690.4,997.1 691.5,997.4 692.6,997.8 693.6,998.1 694.7,998.4 695.8,998.7 696.8,999.0 697.9,999.4 699.0,999.7 700.0,1000.0 701.1,1000.3 702.2,1000.6 703.3,1000.9 704.3,1001.2 705.4,1001.6 706.5,1001.9 707.5,1002.2 708.6,1002.5 709.7,1002.8 710.7,1003.1 711.8,1003.4 712.9,1003.7 713.9,1004.0 715.0,1004.3 716.1,1004.6 717.1,1004.9 718.2,1005.2 719.3,1005.5 720.3,1005.8 721.4,1006.1 722.5,1006.4 723.6,1006.7 724.6,1007.0 725.7,1007.3 726.8,1007.6 727.8,1007.9 728.9,1008.1 730.0,1008.4 731.0,1008.7 732.1,1009.0 733.2,1009.3 734.2,1009.6 735.3,1009.9 736.4,1010.1 737.4,1010.4 738.5,1010.7 739.6,1011.0 740.6,1011.3 741.7,1011.5 742.8,1011.8 743.9,1012.1 744.9,1012.4 746.0,1012.6 747.1,1012.9 748.1,1013.2 749.2,1013.5 750.3,1013.7 751.3,1014.0 752.4,1014.3 753.5,1014.5 754.5,1014.8 755.6,1015.1 756.7,1015.3 757.7,1015.6 758.8,1015.9 759.9,1016.1 760.9,1016.4 762.0,1016.7 763.1,1016.9 764.2,1017.2 765.2,1017.5 766.3,1017.7 767.4,1018.0 768.4,1018.2 769.5,1018.5 770.6,1018.7 771.6,1019.0 772.7,1019.2" fill="none" stroke="#000" stroke-width="4" stroke-dasharray="11 6.5"/>
<polyline points="133.0,1171.5 133.6,1172.1 136.2,1172.1 136.6,1173.1 138.4,1172.8 138.8,1172.1 140.2,1172.3 142.3,1172.2 143.9,1172.4 144.3,1172.4 146.9,1171.8 147.2,1171.3 149.8,1171.1 149.3,1169.0 151.2,1169.8 153.2,1168.9 154.1,1165.3 155.1,1165.9 157.3,1165.5 158.8,1162.5 159.3,1163.1 161.4,1161.9 162.0,1159.8 163.1,1158.1 165.8,1155.0 165.9,1153.2 167.3,1150.5 169.5,1147.2 169.7,1144.6 171.1,1140.2 172.9,1137.1 174.5,1135.3 176.4,1131.2 177.0,1125.4 178.0,1120.2 178.9,1114.8 180.9,1111.8 182.2,1104.7 184.6,1099.0 184.1,1091.9 185.3,1086.0 186.6,1078.3 189.1,1070.4 190.9,1063.9 193.0,1057.1 192.2,1043.1 194.8,1032.0 195.6,1020.1 198.4,1010.9 198.9,999.3 201.1,989.8 201.4,982.6 203.5,970.9 204.3,967.1 205.0,959.8 207.4,952.4 207.9,946.0 208.0,936.0 210.8,927.6 211.4,918.2 213.9,911.2 215.9,903.0 216.4,897.1 218.0,893.6 218.1,886.6 219.7,880.3 221.2,873.6 224.3,867.7 224.1,861.9 225.9,854.2 225.8,849.2 228.0,843.4 229.8,836.8 231.0,834.0 232.2,830.7 234.1,825.0 235.5,821.3 235.7,818.1 236.9,813.8 239.6,809.4 241.1,807.9 241.0,804.5 243.7,801.6 243.6,801.0 245.8,797.4 248.2,794.3 247.5,792.2 250.0,792.5 251.2,789.8 251.9,785.5 254.6,786.1 254.7,783.4 256.3,781.8 257.3,782.2 259.7,780.8 261.2,778.4 263.1,778.5 263.3,778.5 264.3,777.2 267.1,777.3 267.1,775.7 269.3,777.8 271.2,778.1 272.0,775.6 271.9,774.8 273.7,776.3 275.2,778.4 277.4,777.9 277.9,778.0 280.0,778.9 281.1,777.1 282.4,780.0 283.7,780.7 284.7,780.7 287.0,783.9 287.8,782.4 289.7,783.4 290.1,786.7 291.2,787.7 293.6,787.9 294.1,789.3 295.9,790.8 297.1,791.8 298.5,790.4 299.8,795.0 301.0,798.3 302.3,795.9 304.0,795.5 305.2,799.2 307.0,799.0 308.0,797.1 309.6,799.2 310.6,799.1 312.1,803.2 313.3,799.3 314.7,805.4 316.1,802.4 317.4,805.2 318.9,804.7 320.1,807.3 321.5,809.9 322.8,809.8 324.2,807.2 325.5,810.2 326.9,812.2 328.2,816.9 329.6,813.4 330.9,814.9 332.3,815.6 333.6,818.6 335.0,821.7 336.3,820.2 337.7,826.9 339.0,828.5 340.4,829.6 341.7,831.3 343.1,836.9 344.4,832.0 345.8,835.0 347.1,842.5 348.5,837.7 349.8,842.7 351.2,843.7 352.5,844.0 353.9,845.8 355.2,849.0 356.6,851.7 357.9,853.8 359.3,855.6 360.6,856.1 362.0,857.6 363.3,860.3 364.7,859.4 366.0,859.5 367.4,865.4 368.7,861.0 370.1,867.8 371.4,870.7 372.8,867.0 374.1,866.4 375.5,870.5 376.8,874.2 378.2,872.9 379.5,878.2 380.9,878.6 382.2,876.4 383.6,881.1 384.9,877.7 386.3,880.8 387.6,883.3 389.0,886.7 390.3,886.7 391.7,889.2 393.0,884.4 394.4,894.9 395.7,887.7 397.1,891.1 398.4,894.8 399.8,893.7 401.1,896.3 402.5,892.6 403.8,894.1 405.2,896.7 406.5,897.7 407.9,900.2 409.2,900.6 410.6,900.1 411.9,904.1 413.3,902.0 414.6,904.6 416.0,907.7 417.3,906.3 418.7,909.2 420.0,911.6 421.4,914.2 422.7,914.6 424.1,914.8 425.4,914.9 426.8,912.2 428.1,913.7 429.5,914.4 430.8,915.7 432.2,917.1 433.5,916.0 434.9,917.5 436.2,921.1 437.6,918.4 438.9,915.7 440.3,919.4 441.6,920.0 443.0,919.9 444.3,925.2 445.7,923.0 447.0,924.8 448.4,920.4 449.7,923.4 451.1,922.5 452.4,922.0 453.8,920.7 455.1,923.1 456.5,919.0 457.8,925.1 459.2,929.2 460.5,927.0 461.9,920.3 463.2,925.6 464.6,924.4 465.9,925.5 467.3,927.3 468.6,931.4 470.0,931.8 471.3,930.1 472.7,934.4 474.0,935.1 475.4,940.5 476.7,935.1 478.1,939.4 479.4,939.3 480.8,942.7 482.1,940.2 483.5,944.0 484.8,947.2 486.2,947.7 487.5,948.7 488.9,951.7 490.2,952.3 491.6,953.0 492.9,955.8 494.3,957.8 495.6,959.8 497.0,956.9 498.3,960.9 499.7,965.3 501.0,961.2 502.4,965.5 503.7,965.3 505.1,969.5 506.4,970.8 507.8,969.9 509.1,969.3 510.5,968.1 511.8,971.1 513.2,971.4 514.5,974.0 515.9,977.9 517.2,979.4 518.6,977.1 519.9,977.5 521.3,977.8 522.6,979.5 524.0,979.3 525.3,984.1 526.7,979.9 528.0,982.4 529.4,981.8 530.7,985.8 532.1,988.3 533.4,986.9 534.8,986.8 536.1,987.4 537.5,989.3 538.8,988.1 540.2,993.3 541.5,994.4 542.9,993.9 544.2,994.4 545.6,992.9 546.9,998.3 548.3,992.9 549.6,995.1 551.0,1001.7 552.3,997.6 553.7,997.7 555.0,996.9 556.4,1003.1 557.7,1004.3 559.1,1003.2 560.4,1000.3 561.8,1004.1 563.1,1003.5 564.5,1007.5 565.8,1009.3 567.2,1007.9 568.5,1008.4 569.9,1011.1 571.2,1011.9 572.6,1006.6 573.9,1010.2 575.3,1007.4 576.6,1008.5 578.0,1012.6 579.3,1008.3 580.7,1010.5 582.0,1013.5 583.4,1012.1 584.7,1008.1 586.1,1011.3 587.4,1011.2 588.8,1009.9 590.1,1015.9 591.5,1012.1 592.8,1012.2 594.2,1014.3 595.5,1012.7 596.9,1009.9 598.2,1012.6 599.6,1013.6 600.9,1013.2 602.3,1015.2 603.6,1015.0 605.0,1014.5 606.3,1013.3 607.7,1014.0 609.0,1018.0 610.4,1011.1 611.7,1016.9 613.1,1015.9 614.4,1014.0 615.8,1015.7 617.1,1017.3 618.5,1013.7 619.8,1017.3 621.2,1018.5 622.5,1016.1 623.9,1018.5 625.2,1021.5 626.6,1019.6 627.9,1018.0 629.3,1017.1 630.6,1017.2 632.0,1023.2 633.3,1021.3 634.7,1022.0 636.0,1022.3 637.4,1021.7 638.7,1027.1 640.1,1025.5 641.4,1027.5 642.8,1022.6 644.1,1026.6 645.5,1027.1 646.8,1023.9 648.2,1024.8 649.5,1025.2 650.9,1029.2 652.2,1028.0 653.6,1026.5 654.9,1029.6 656.3,1027.2 657.6,1029.1 659.0,1029.0 660.3,1027.7 661.7,1031.6 663.0,1030.2 664.4,1025.9 665.7,1030.4 667.1,1034.1 668.4,1027.2 669.8,1033.8 671.1,1032.7 672.5,1030.0 673.8,1032.6 675.2,1030.7 676.5,1030.2 677.9,1034.2 679.2,1034.4 680.6,1030.6 681.9,1033.5 683.3,1035.0 684.6,1032.2 686.0,1037.9 687.3,1034.7 688.7,1037.4 690.0,1038.3 691.4,1035.6 692.7,1038.6 694.1,1038.6 695.4,1039.6 696.8,1038.3 698.1,1041.4 699.5,1041.3 700.8,1043.4 702.2,1043.0 703.5,1038.8 704.9,1040.8 706.2,1043.2 707.6,1044.7 708.9,1041.7 710.3,1043.4 711.6,1044.3 713.0,1043.7 714.3,1046.1 715.7,1042.3 717.0,1045.4 718.4,1042.9 719.7,1045.4 721.1,1042.9 722.4,1044.2 723.8,1046.6 725.1,1043.0 726.5,1045.1 727.8,1046.2 729.2,1044.8 730.5,1044.5 731.9,1045.1 733.2,1043.4 734.6,1046.7 735.9,1046.8 737.3,1048.9 738.6,1046.2 740.0,1047.9 741.3,1044.9 742.7,1047.1 744.0,1044.5 745.4,1047.1 746.7,1046.2 748.1,1049.0 749.4,1043.5 750.8,1047.4 752.1,1047.5 753.5,1049.7 754.8,1047.3 756.2,1048.1 757.5,1051.7 758.9,1048.4 760.2,1049.2 761.6,1052.5 762.9,1046.5 764.3,1051.7 765.6,1051.9 767.0,1052.1 768.3,1048.4 769.7,1049.4 771.0,1050.8 772.4,1051.0" fill="none" stroke="none" marker-start="url(#bc)" marker-mid="url(#bc)" marker-end="url(#bc)"/>
<polyline points="133.1,1172.5 131.1,1172.7 135.5,1172.5 137.3,1174.4 137.5,1173.6 138.0,1173.9 140.9,1174.4 143.6,1172.7 143.7,1174.0 146.4,1173.4 146.4,1173.2 147.4,1171.4 148.4,1171.3 151.2,1171.1 150.7,1170.2 152.5,1170.4 154.0,1168.1 155.8,1167.5 157.0,1165.8 157.3,1163.7 158.9,1162.9 162.2,1161.6 162.5,1161.1 163.7,1158.6 164.9,1154.9 166.6,1152.1 167.3,1150.1 169.9,1147.0 171.1,1146.5 171.8,1142.1 173.8,1138.1 174.4,1133.9 175.6,1129.4 177.9,1125.8 178.5,1119.2 179.4,1115.8 182.4,1110.1 182.5,1105.1 184.3,1095.5 186.4,1091.0 185.8,1083.5 187.8,1077.7 190.1,1069.7 190.5,1063.9 191.8,1055.8 193.3,1045.0 194.6,1029.6 195.9,1019.2 197.8,1008.6 198.9,998.2 201.4,989.3 201.8,980.8 204.1,972.4 204.3,963.9 206.8,958.9 206.9,950.8 209.1,944.1 209.8,935.9 212.1,924.5 211.8,916.6 213.4,909.4 215.3,902.6 215.7,896.1 218.8,890.7 219.0,885.6 220.8,878.2 222.5,872.8 223.6,867.2 224.0,859.6 224.9,852.7 226.0,848.4 227.9,842.8 229.4,838.0 230.7,832.5 232.9,827.5 233.0,825.4 234.2,821.3 236.8,817.3 239.2,812.7 238.7,810.0 240.6,806.0 242.0,802.9 244.2,801.3 245.3,799.1 245.8,797.0 248.1,794.4 248.8,794.1 250.7,789.4 252.8,789.7 251.3,786.5 253.2,786.2 254.6,782.9 256.0,784.5 258.3,782.7 259.7,778.9 262.1,781.1 263.3,779.5 263.8,779.8 264.9,778.5 266.8,778.1 268.0,776.6 268.8,777.6 270.8,778.3 271.4,776.7 273.0,777.9 274.4,779.6 275.5,780.7 276.8,780.1 278.5,783.3 279.8,781.4 280.6,783.8 283.3,785.8 284.6,783.6 285.9,787.5 287.1,786.5 287.9,786.3 288.9,791.5 290.3,792.7 291.4,790.6 293.2,794.3 294.1,795.5 296.1,794.9 297.5,800.3 298.6,797.2 299.9,797.3 301.4,799.8 302.9,800.6 304.1,801.1 305.8,802.5 306.7,801.6 308.1,806.5 309.5,803.9 310.8,809.8 312.2,810.3 313.6,809.4 314.9,810.6 316.4,811.4 317.5,814.0 319.0,818.7 320.3,817.3 321.7,817.2 323.0,822.8 324.4,820.0 325.7,821.6 327.1,827.9 328.4,826.5 329.8,829.0 331.1,829.4 332.5,830.7 333.8,832.6 335.2,834.3 336.5,838.7 337.9,833.8 339.2,833.0 340.6,838.7 341.9,837.9 343.3,842.6 344.6,841.5 346.0,845.3 347.3,848.7 348.7,846.9 350.0,847.7 351.4,851.7 352.7,849.8 354.1,852.0 355.4,852.8 356.8,851.4 358.1,856.6 359.5,853.4 360.8,858.0 362.2,857.7 363.5,855.6 364.9,857.8 366.2,860.9 367.6,859.5 368.9,865.2 370.3,859.9 371.6,865.0 373.0,860.4 374.3,864.1 375.7,867.6 377.0,862.9 378.4,868.2 379.7,866.6 381.1,867.3 382.4,869.5 383.8,871.1 385.1,872.4 386.5,873.4 387.8,874.2 389.2,872.1 390.5,881.2 391.9,884.1 393.2,882.3 394.6,882.3 395.9,882.4 397.3,886.3 398.6,887.7 400.0,886.8 401.3,889.8 402.7,893.2 404.0,893.9 405.4,894.8 406.7,896.7 408.1,896.5 409.4,899.3 410.8,900.9 412.1,900.7 413.5,903.2 414.8,906.5 416.2,908.0 417.5,902.9 418.9,905.5 420.2,911.3 421.6,911.3 422.9,912.3 424.3,909.7 425.6,913.4 427.0,915.3 428.3,915.9 429.7,914.5 431.0,915.6 432.4,918.1 433.7,918.6 435.1,921.5 436.4,915.3 437.8,919.3 439.1,923.7 440.5,919.8 441.8,923.0 443.2,926.4 444.5,922.4 445.9,925.9 447.2,929.8 448.6,924.4 449.9,923.9 451.3,930.7 452.6,928.5 454.0,930.2 455.3,931.3 456.7,934.5 458.0,932.5 459.4,936.0 460.7,936.6 462.1,936.2 463.4,939.4 464.8,939.2 466.1,939.8 467.5,947.3 468.8,939.1 470.2,942.4 471.5,944.3 472.9,947.2 474.2,950.1 475.6,951.0 476.9,957.5 478.3,953.6 479.6,953.9 481.0,957.4 482.3,957.9 483.7,959.0 485.0,963.0 486.4,963.0 487.7,965.7 489.1,962.4 490.4,966.7 491.8,966.5 493.1,966.2 494.5,965.1 495.8,968.9 497.2,967.5 498.5,971.9 499.9,972.0 501.2,972.7 502.6,977.8 503.9,975.4 505.3,969.5 506.6,975.2 508.0,974.9 509.3,975.5 510.7,974.6 512.0,977.9 513.4,971.1 514.7,974.6 516.1,979.0 517.4,978.8 518.8,980.8 520.1,978.9 521.5,979.2 522.8,982.5 524.2,982.0 525.5,978.9 526.9,984.9 528.2,981.7 529.6,986.3 530.9,985.7 532.3,987.2 533.6,988.8 535.0,985.6 536.3,989.6 537.7,989.0 539.0,989.3 540.4,990.6 541.7,990.4 543.1,992.2 544.4,993.3 545.8,992.3 547.1,996.4 548.5,995.1 549.8,993.4 551.2,997.1 552.5,997.8 553.9,994.6 555.2,998.6 556.6,997.8 557.9,999.6 559.3,999.2 560.6,1000.8 562.0,1000.8 563.3,996.4 564.7,1001.5 566.0,1002.8 567.4,1003.5 568.7,1004.9 570.1,1003.4 571.4,1005.7 572.8,1005.1 574.1,1002.8 575.5,1002.7 576.8,1007.0 578.2,1006.2 579.5,1001.8 580.9,1003.6 582.2,1008.3 583.6,1006.8 584.9,1003.6 586.3,1008.3 587.6,1009.9 589.0,1009.8 590.3,1009.0 591.7,1009.3 593.0,1009.3 594.4,1010.0 595.7,1012.2 597.1,1017.4 598.4,1018.2 599.8,1013.5 601.1,1011.7 602.5,1015.2 603.8,1015.5 605.2,1016.4 606.5,1014.3 607.9,1018.2 609.2,1017.8 610.6,1020.0 611.9,1017.6 613.3,1021.5 614.6,1019.7 616.0,1021.2 617.3,1022.3 618.7,1023.1 620.0,1023.8 621.4,1024.4 622.7,1025.0 624.1,1025.4 625.4,1026.2 626.8,1027.2 628.1,1032.2 629.5,1030.8 630.8,1028.3 632.2,1027.3 633.5,1032.7 634.9,1030.9 636.2,1032.0 637.6,1034.1 638.9,1028.4 640.3,1031.4 641.6,1033.4 643.0,1036.1 644.3,1033.6 645.7,1034.3 647.0,1034.4 648.4,1034.8 649.7,1035.6 651.1,1034.5 652.4,1034.7 653.8,1035.7 655.1,1038.1 656.5,1039.6 657.8,1037.9 659.2,1037.6 660.5,1041.0 661.9,1040.1 663.2,1040.9 664.6,1039.7 665.9,1039.6 667.3,1041.9 668.6,1041.1 670.0,1044.2 671.3,1040.4 672.7,1043.0 674.0,1042.5 675.4,1040.7 676.7,1042.2 678.1,1041.0 679.4,1042.5 680.8,1042.8 682.1,1048.6 683.5,1041.4 684.8,1044.8 686.2,1042.6 687.5,1044.2 688.9,1042.7 690.2,1041.6 691.6,1045.9 692.9,1045.1 694.3,1039.2 695.6,1042.1 697.0,1041.3 698.3,1038.5 699.7,1041.6 701.0,1042.1 702.4,1041.1 703.7,1041.8 705.1,1044.2 706.4,1039.6 707.8,1042.8 709.1,1044.4 710.5,1034.2 711.8,1039.3 713.2,1042.2 714.5,1040.1 715.9,1038.1 717.2,1042.0 718.6,1040.8 719.9,1035.9 721.3,1040.6 722.6,1038.7 724.0,1039.5 725.3,1036.9 726.7,1040.4 728.0,1039.8 729.4,1037.8 730.7,1039.3 732.1,1043.0 733.4,1043.6 734.8,1038.0 736.1,1042.3 737.5,1041.1 738.8,1041.1 740.2,1043.1 741.5,1046.1 742.9,1044.7 744.2,1042.2 745.6,1044.8 746.9,1046.1 748.3,1048.0 749.6,1046.2 751.0,1047.1 752.3,1047.9 753.7,1049.2 755.0,1044.6 756.4,1051.5 757.7,1049.9 759.1,1049.7 760.4,1048.0 761.8,1051.1 763.1,1054.9 764.5,1050.2 765.8,1048.6 767.2,1053.1 768.5,1052.6 769.9,1052.8 771.2,1050.3 772.6,1054.4" fill="none" stroke="none" marker-start="url(#bc)" marker-mid="url(#bc)" marker-end="url(#bc)"/>
<polyline points="132.4,1172.6 135.6,1172.3 134.3,1172.3 137.0,1172.8 138.3,1172.7 139.7,1173.0 140.6,1174.3 141.1,1173.3 144.2,1172.6 145.5,1173.2 146.6,1172.2 147.9,1172.9 149.9,1172.0 151.1,1170.3 152.2,1169.6 152.6,1168.7 155.2,1167.0 155.2,1165.8 157.4,1165.3 157.8,1163.3 159.7,1162.4 161.7,1161.4 162.3,1158.8 164.6,1157.3 164.9,1155.8 167.8,1151.6 167.8,1150.4 171.1,1146.0 171.1,1142.9 172.0,1140.9 172.6,1137.2 174.4,1132.4 177.4,1130.4 176.5,1125.7 177.6,1119.6 180.3,1115.0 182.3,1109.5 182.5,1101.8 183.5,1096.2 185.3,1088.3 186.7,1081.5 189.0,1077.4 190.9,1068.9 190.8,1062.1 191.7,1053.5 192.7,1040.7 193.7,1030.7 196.2,1018.3 196.5,1008.1 199.5,998.2 200.2,990.1 201.2,977.9 204.0,972.5 203.2,964.7 206.4,958.1 207.2,952.2 208.6,943.7 209.8,932.5 210.3,924.8 212.9,915.7 214.7,909.6 213.8,900.3 216.6,896.6 217.8,890.4 219.0,885.2 220.9,879.1 221.8,870.8 223.0,866.9 225.5,859.9 225.3,852.9 227.0,848.5 228.4,842.2 229.5,838.9 231.0,833.8 233.7,827.6 233.5,825.3 237.2,820.8 235.7,817.3 236.4,813.9 239.0,811.8 239.9,807.1 243.0,805.5 243.8,801.0 244.1,800.4 246.1,796.7 247.3,794.5 250.8,793.7 250.4,790.9 251.8,791.4 253.3,787.8 254.5,789.0 255.7,787.0 256.4,785.1 258.4,784.7 259.9,783.6 260.1,785.3 262.5,783.0 262.9,781.5 264.0,782.2 266.4,781.2 268.1,781.5 269.8,780.9 270.2,781.2 271.0,783.2 272.7,782.4 274.4,783.9 275.9,782.9 277.5,783.6 278.5,783.6 280.5,786.7 281.0,788.0 282.9,786.1 284.3,788.4 285.5,785.5 286.9,786.5 287.6,790.7 289.8,787.5 290.6,796.2 292.1,794.3 293.1,796.7 294.9,794.5 296.0,793.3 297.3,795.3 299.1,796.4 300.0,800.8 301.7,798.2 303.0,799.7 304.4,805.4 305.6,801.0 306.8,803.2 308.4,808.3 309.7,811.6 311.3,804.6 312.6,804.2 313.8,808.7 315.2,811.7 316.3,812.4 317.8,812.6 319.1,812.3 320.5,817.7 321.8,816.2 323.2,817.2 324.5,819.7 325.9,823.7 327.2,822.3 328.6,828.3 329.9,823.7 331.3,826.7 332.6,822.3 334.0,826.5 335.3,828.9 336.7,828.8 338.0,829.8 339.4,831.5 340.7,831.9 342.1,834.0 343.4,836.4 344.8,838.2 346.1,836.5 347.5,839.4 348.8,839.3 350.2,843.8 351.5,846.5 352.9,844.4 354.2,845.8 355.6,845.5 356.9,848.0 358.3,847.6 359.6,846.6 361.0,852.8 362.3,855.9 363.7,854.0 365.0,854.1 366.4,856.5 367.7,860.4 369.1,857.7 370.4,861.8 371.8,862.5 373.1,859.6 374.5,865.2 375.8,869.0 377.2,870.5 378.5,871.6 379.9,871.4 381.2,876.5 382.6,878.4 383.9,881.2 385.3,885.9 386.6,884.5 388.0,888.8 389.3,889.7 390.7,896.4 392.0,893.9 393.4,900.3 394.7,895.0 396.1,896.5 397.4,901.8 398.8,902.3 400.1,907.0 401.5,907.7 402.8,909.3 404.2,907.7 405.5,910.7 406.9,913.8 408.2,912.3 409.6,914.7 410.9,918.3 412.3,916.9 413.6,918.5 415.0,921.5 416.3,920.9 417.7,918.0 419.0,922.0 420.4,922.6 421.7,924.0 423.1,928.7 424.4,927.2 425.8,925.9 427.1,925.0 428.5,928.7 429.8,928.1 431.2,931.0 432.5,929.8 433.9,931.8 435.2,928.9 436.6,930.9 437.9,932.1 439.3,931.1 440.6,934.2 442.0,933.5 443.3,934.2 444.7,934.3 446.0,936.3 447.4,934.0 448.7,939.8 450.1,939.5 451.4,940.5 452.8,942.5 454.1,941.2 455.5,940.6 456.8,944.5 458.2,941.6 459.5,943.3 460.9,939.3 462.2,943.1 463.6,944.8 464.9,946.9 466.3,947.4 467.6,949.2 469.0,947.1 470.3,948.0 471.7,950.6 473.0,949.6 474.4,951.3 475.7,953.2 477.1,950.0 478.4,951.6 479.8,956.4 481.1,954.8 482.5,958.4 483.8,956.5 485.2,956.0 486.5,959.9 487.9,958.8 489.2,960.6 490.6,959.1 491.9,959.4 493.3,960.9 494.6,960.6 496.0,962.4 497.3,961.3 498.7,964.6 500.0,966.1 501.4,966.1 502.7,963.3 504.1,969.0 505.4,963.8 506.8,968.4 508.1,969.0 509.5,971.1 510.8,969.1 512.2,970.3 513.5,974.5 514.9,975.4 516.2,972.1 517.6,974.6 518.9,974.6 520.3,972.0 521.6,980.5 523.0,977.9 524.3,980.4 525.7,981.9 527.0,979.9 528.4,985.3 529.7,983.2 531.1,982.7 532.4,987.2 533.8,987.9 535.1,987.4 536.5,989.4 537.8,993.8 539.2,992.7 540.5,992.3 541.9,992.4 543.2,997.7 544.6,994.0 545.9,991.7 547.3,998.9 548.6,996.2 550.0,993.6 551.3,995.9 552.7,996.7 554.0,995.7 555.4,999.3 556.7,1000.3 558.1,1005.4 559.4,1002.6 560.8,1002.3 562.1,1003.8 563.5,1005.2 564.8,1007.5 566.2,1008.8 567.5,1002.9 568.9,1004.6 570.2,1008.2 571.6,1012.7 572.9,1008.6 574.3,1012.5 575.6,1010.0 577.0,1010.8 578.3,1012.2 579.7,1016.3 581.0,1013.3 582.4,1015.3 583.7,1016.6 585.1,1018.6 586.4,1017.8 587.8,1020.3 589.1,1022.8 590.5,1021.8 591.8,1020.3 593.2,1021.6 594.5,1023.2 595.9,1022.9 597.2,1022.0 598.6,1023.1 599.9,1024.5 601.3,1022.4 602.6,1032.8 604.0,1029.3 605.3,1027.0 606.7,1027.1 608.0,1031.5 609.4,1026.7 610.7,1027.8 612.1,1032.3 613.4,1030.4 614.8,1032.4 616.1,1031.2 617.5,1031.2 618.8,1030.1 620.2,1032.4 621.5,1032.1 622.9,1032.1 624.2,1030.9 625.6,1034.2 626.9,1031.9 628.3,1033.0 629.6,1029.5 631.0,1028.6 632.3,1033.4 633.7,1030.6 635.0,1030.3 636.4,1032.8 637.7,1034.9 639.1,1031.8 640.4,1031.9 641.8,1033.5 643.1,1033.9 644.5,1033.2 645.8,1029.6 647.2,1035.1 648.5,1032.3 649.9,1038.3 651.2,1033.1 652.6,1035.2 653.9,1035.1 655.3,1035.9 656.6,1041.0 658.0,1035.8 659.3,1038.8 660.7,1037.2 662.0,1036.9 663.4,1039.5 664.7,1039.1 666.1,1038.4 667.4,1037.2 668.8,1040.4 670.1,1046.7 671.5,1039.7 672.8,1041.3 674.2,1038.8 675.5,1047.0 676.9,1037.1 678.2,1038.7 679.6,1036.1 680.9,1041.1 682.3,1039.9 683.6,1040.3 685.0,1039.2 686.3,1042.1 687.7,1041.5 689.0,1040.9 690.4,1032.8 691.7,1036.1 693.1,1037.9 694.4,1039.3 695.8,1031.7 697.1,1040.2 698.5,1037.5 699.8,1039.8 701.2,1034.3 702.5,1035.3 703.9,1034.9 705.2,1035.9 706.6,1035.8 707.9,1034.2 709.3,1040.6 710.6,1039.4 712.0,1037.0 713.3,1034.9 714.7,1041.8 716.0,1035.3 717.4,1038.2 718.7,1038.4 720.1,1040.0 721.4,1043.0 722.8,1044.5 724.1,1044.0 725.5,1041.7 726.8,1047.4 728.2,1047.8 729.5,1047.7 730.9,1051.6 732.2,1045.4 733.6,1046.7 734.9,1047.4 736.3,1048.4 737.6,1051.6 739.0,1051.3 740.3,1050.7 741.7,1054.5 743.0,1052.6 744.4,1052.2 745.7,1052.5 747.1,1051.7 748.4,1054.3 749.8,1053.5 751.1,1055.4 752.5,1056.8 753.8,1057.3 755.2,1055.8 756.5,1060.9 757.9,1055.0 759.2,1059.1 760.6,1058.0 761.9,1058.7 763.3,1057.0 764.6,1057.1 766.0,1060.1 767.3,1055.6 768.7,1059.5 770.0,1056.5 771.4,1056.0 772.7,1060.0" fill="none" stroke="none" marker-start="url(#bc)" marker-mid="url(#bc)" marker-end="url(#bc)"/>
<polyline points="131.3,1172.3 133.4,1173.5 136.7,1172.6 136.2,1172.7 137.9,1174.1 138.9,1173.5 139.5,1171.9 142.4,1172.9 144.3,1172.3 145.4,1172.4 145.6,1172.4 147.5,1170.8 150.4,1170.8 150.4,1171.9 151.3,1169.5 153.9,1168.4 154.4,1168.6 154.6,1165.8 156.7,1165.5 159.3,1165.3 159.9,1162.8 161.3,1161.5 163.2,1159.3 163.5,1157.6 164.3,1155.5 166.7,1152.4 167.7,1150.0 169.4,1147.5 170.3,1142.9 171.6,1142.1 172.5,1139.4 175.1,1134.8 177.6,1130.2 176.7,1125.3 179.7,1121.2 180.7,1117.3 181.1,1111.1 182.2,1102.6 184.7,1097.6 185.4,1089.2 186.8,1082.7 188.0,1076.4 191.1,1070.2 189.9,1062.8 192.7,1054.3 195.1,1041.0 195.2,1030.0 198.0,1016.5 197.8,1007.3 199.3,998.0 201.1,989.6 201.4,978.1 203.2,971.7 205.0,963.0 205.4,958.6 207.6,950.8 209.4,943.4 209.1,934.7 211.2,925.2 212.9,915.7 213.5,909.3 216.1,905.1 217.6,895.9 217.7,891.1 219.6,884.5 220.3,879.8 222.0,872.2 223.8,867.1 224.7,858.8 226.3,854.1 227.2,850.3 229.7,841.6 230.9,837.3 231.1,834.2 233.3,828.0 236.1,822.9 235.3,819.8 238.0,818.0 240.2,815.5 239.5,811.4 241.6,808.3 240.8,806.5 244.7,802.8 245.5,801.7 247.0,799.6 247.9,795.6 249.8,795.2 251.3,792.8 252.3,790.3 253.0,788.9 254.4,788.5 255.9,784.8 257.1,783.1 258.0,784.8 259.0,784.8 261.2,782.5 262.0,782.6 263.7,779.3 264.5,779.1 265.8,779.5 267.8,779.5 269.2,780.0 272.0,779.2 272.0,779.9 274.0,779.9 275.1,781.3 276.3,782.2 277.3,782.3 279.2,783.5 280.4,781.8 280.9,782.1 283.2,780.6 284.1,781.6 284.9,786.4 286.6,786.8 288.6,787.0 290.0,787.5 290.9,787.0 292.7,786.5 293.9,790.6 294.5,792.6 296.0,789.5 297.8,798.3 298.8,795.8 300.3,799.4 301.8,802.4 303.1,804.1 304.3,801.8 305.6,805.8 307.5,807.0 308.3,806.7 309.8,808.6 311.4,807.6 312.6,811.4 313.8,810.9 315.2,813.3 316.7,815.3 318.0,818.5 319.2,817.5 320.6,818.9 322.0,820.0 323.4,827.7 324.7,822.7 326.1,825.9 327.4,823.3 328.8,827.8 330.1,826.6 331.5,829.2 332.8,833.2 334.2,836.6 335.5,834.9 336.9,837.2 338.2,837.8 339.6,838.1 340.9,840.7 342.3,844.0 343.6,844.1 345.0,844.5 346.3,845.9 347.7,849.4 349.0,849.4 350.4,853.5 351.7,850.4 353.1,856.3 354.4,854.7 355.8,857.8 357.1,863.8 358.5,863.3 359.8,861.8 361.2,863.8 362.5,868.2 363.9,870.1 365.2,870.0 366.6,873.5 367.9,873.1 369.3,870.4 370.6,880.2 372.0,879.1 373.3,883.3 374.7,883.8 376.0,885.6 377.4,886.4 378.7,891.7 380.1,893.7 381.4,896.4 382.8,897.0 384.1,898.2 385.5,897.9 386.8,900.7 388.2,903.0 389.5,898.5 390.9,902.6 392.2,905.9 393.6,909.1 394.9,911.4 396.3,913.1 397.6,909.1 399.0,911.6 400.3,911.2 401.7,911.2 403.0,912.8 404.4,914.3 405.7,916.3 407.1,912.1 408.4,915.4 409.8,914.1 411.1,919.4 412.5,920.5 413.8,916.5 415.2,916.5 416.5,919.7 417.9,920.9 419.2,917.4 420.6,919.1 421.9,921.1 423.3,919.0 424.6,924.7 426.0,922.4 427.3,923.2 428.7,921.4 430.0,926.9 431.4,922.4 432.7,924.4 434.1,925.4 435.4,927.2 436.8,925.3 438.1,927.4 439.5,931.0 440.8,930.5 442.2,931.6 443.5,934.1 444.9,933.8 446.2,935.7 447.6,934.4 448.9,933.3 450.3,939.0 451.6,932.8 453.0,934.0 454.3,935.0 455.7,942.5 457.0,938.4 458.4,940.8 459.7,936.0 461.1,937.4 462.4,940.7 463.8,939.7 465.1,941.5 466.5,943.2 467.8,943.0 469.2,943.9 470.5,945.1 471.9,945.3 473.2,947.4 474.6,949.9 475.9,947.1 477.3,950.7 478.6,952.9 480.0,951.8 481.3,953.0 482.7,957.9 484.0,957.5 485.4,961.0 486.7,961.2 488.1,957.9 489.4,958.3 490.8,960.3 492.1,963.9 493.5,956.4 494.8,964.7 496.2,968.3 497.5,967.2 498.9,969.0 500.2,969.2 501.6,967.6 502.9,974.1 504.3,972.9 505.6,975.8 507.0,976.1 508.3,981.3 509.7,979.6 511.0,980.8 512.4,981.0 513.7,980.8 515.1,984.5 516.4,987.1 517.8,986.1 519.1,982.9 520.5,986.8 521.8,993.3 523.2,989.4 524.5,991.9 525.9,988.6 527.2,992.2 528.6,992.6 529.9,996.8 531.3,997.3 532.6,997.9 534.0,999.6 535.3,997.4 536.7,1002.5 538.0,999.2 539.4,1002.2 540.7,1005.3 542.1,1000.6 543.4,1003.0 544.8,1002.6 546.1,1003.6 547.5,1004.5 548.8,1004.3 550.2,1005.0 551.5,1006.9 552.9,1003.4 554.2,1005.1 555.6,1006.1 556.9,1004.9 558.3,1009.0 559.6,1007.9 561.0,1007.7 562.3,1007.3 563.7,1008.8 565.0,1012.1 566.4,1009.3 567.7,1014.3 569.1,1014.3 570.4,1014.3 571.8,1010.9 573.1,1013.4 574.5,1017.7 575.8,1015.4 577.2,1015.3 578.5,1016.0 579.9,1018.8 581.2,1014.9 582.6,1021.3 583.9,1020.2 585.3,1018.2 586.6,1022.1 588.0,1015.9 589.3,1019.3 590.7,1022.8 592.0,1025.6 593.4,1020.6 594.7,1020.5 596.1,1023.5 597.4,1024.1 598.8,1022.6 600.1,1022.8 601.5,1027.6 602.8,1022.8 604.2,1021.5 605.5,1024.0 606.9,1027.5 608.2,1026.3 609.6,1024.8 610.9,1022.3 612.3,1024.7 613.6,1030.6 615.0,1026.1 616.3,1027.0 617.7,1021.7 619.0,1024.1 620.4,1023.8 621.7,1028.5 623.1,1024.6 624.4,1025.1 625.8,1024.5 627.1,1019.9 628.5,1028.2 629.8,1022.4 631.2,1025.4 632.5,1023.8 633.9,1026.2 635.2,1026.9 636.6,1027.4 637.9,1031.9 639.3,1027.2 640.6,1029.6 642.0,1032.0 643.3,1030.8 644.7,1031.3 646.0,1037.0 647.4,1035.4 648.7,1033.0 650.1,1036.0 651.4,1034.4 652.8,1038.0 654.1,1035.0 655.5,1040.2 656.8,1040.1 658.2,1040.8 659.5,1040.8 660.9,1041.9 662.2,1040.4 663.6,1042.9 664.9,1044.6 666.3,1044.8 667.6,1042.7 669.0,1046.2 670.3,1043.1 671.7,1044.2 673.0,1044.1 674.4,1044.7 675.7,1045.7 677.1,1047.4 678.4,1048.2 679.8,1047.0 681.1,1044.7 682.5,1047.7 683.8,1048.1 685.2,1044.6 686.5,1043.7 687.9,1045.8 689.2,1050.0 690.6,1045.4 691.9,1045.7 693.3,1047.5 694.6,1043.7 696.0,1043.9 697.3,1045.9 698.7,1047.9 700.0,1045.6 701.4,1045.3 702.7,1043.7 704.1,1050.7 705.4,1045.4 706.8,1051.0 708.1,1047.4 709.5,1051.6 710.8,1053.2 712.2,1048.4 713.5,1051.8 714.9,1052.6 716.2,1054.1 717.6,1051.4 718.9,1055.0 720.3,1053.2 721.6,1051.3 723.0,1055.8 724.3,1056.7 725.7,1054.5 727.0,1054.6 728.4,1056.7 729.7,1058.8 731.1,1053.1 732.4,1058.0 733.8,1060.1 735.1,1054.4 736.5,1057.4 737.8,1056.5 739.2,1057.1 740.5,1059.0 741.9,1053.3 743.2,1055.4 744.6,1053.7 745.9,1055.8 747.3,1060.1 748.6,1054.2 750.0,1055.3 751.3,1055.0 752.7,1057.0 754.0,1055.5 755.4,1054.5 756.7,1054.5 758.1,1055.7 759.4,1053.5 760.8,1051.1 762.1,1058.4 763.5,1056.3 764.8,1054.9 766.2,1055.9 767.5,1057.8 768.9,1054.8 770.2,1056.7 771.6,1055.8 772.9,1059.6" fill="none" stroke="none" marker-start="url(#bc)" marker-mid="url(#bc)" marker-end="url(#bc)"/>
<polyline points="132.6,1175.1 134.6,1173.0 135.4,1172.8 136.9,1175.3 138.6,1173.6 139.7,1173.9 140.7,1173.2 143.1,1173.7 145.2,1174.2 144.8,1174.0 147.2,1172.6 147.5,1173.5 149.1,1171.7 149.9,1170.4 151.6,1171.3 152.8,1170.0 154.6,1168.7 155.8,1167.2 158.9,1167.1 158.2,1165.0 160.5,1163.1 162.0,1162.4 161.6,1160.4 163.0,1157.0 166.1,1156.5 166.1,1151.7 168.0,1149.7 167.8,1147.9 170.2,1144.7 172.1,1142.2 174.4,1138.5 176.4,1132.3 175.9,1131.0 178.7,1125.0 179.0,1120.6 180.2,1114.7 181.6,1108.4 182.9,1102.9 183.4,1095.9 185.7,1089.2 186.4,1081.8 188.7,1076.9 191.7,1069.0 190.3,1062.3 193.7,1051.8 193.1,1039.1 195.0,1027.9 197.3,1016.9 198.3,1006.5 200.1,995.9 201.6,986.9 201.8,977.4 203.0,970.4 205.1,963.0 206.4,956.2 208.5,949.9 207.3,941.6 210.8,931.6 211.8,921.4 212.6,914.3 213.6,907.5 214.9,901.4 216.3,894.4 219.3,888.3 219.6,882.1 220.7,877.9 222.3,871.2 224.0,865.9 225.5,857.7 226.3,854.0 227.5,846.8 228.5,841.5 230.3,837.0 231.6,833.0 232.6,828.9 234.2,822.4 236.6,819.9 237.6,817.4 238.6,814.2 240.6,810.6 241.2,806.6 243.3,805.0 243.8,801.9 246.2,799.6 246.9,798.5 247.7,795.1 248.4,793.6 250.7,792.8 252.0,790.7 252.6,786.9 254.5,785.6 255.6,783.3 257.5,785.1 257.8,782.9 260.0,781.8 262.7,781.7 263.4,780.0 264.1,781.4 266.4,779.5 266.6,781.3 268.7,780.5 269.7,780.3 270.6,781.3 272.5,780.7 274.9,781.5 274.4,783.7 275.8,785.0 278.5,784.1 278.6,786.2 280.3,782.8 281.4,786.4 282.7,787.3 284.6,787.7 285.3,790.5 286.6,794.1 288.3,793.2 290.0,795.7 291.6,797.7 292.5,799.2 294.1,798.6 295.6,799.0 296.7,803.9 298.1,805.0 299.2,804.0 300.2,809.7 302.1,806.4 303.0,807.2 304.7,811.1 305.8,810.1 307.1,813.9 308.7,815.6 309.9,816.1 311.4,818.8 312.7,817.6 314.1,817.0 315.5,824.4 316.8,826.0 318.1,827.2 319.5,826.0 320.8,829.0 322.2,828.7 323.5,832.9 324.9,829.4 326.2,833.5 327.6,833.2 328.9,836.7 330.3,836.7 331.6,834.3 333.0,838.4 334.3,838.3 335.7,842.4 337.0,844.4 338.4,841.7 339.7,846.3 341.1,845.0 342.4,847.4 343.8,850.2 345.1,853.8 346.5,853.9 347.8,855.8 349.2,855.0 350.5,857.2 351.9,860.1 353.2,860.7 354.6,862.1 355.9,864.0 357.3,867.8 358.6,868.7 360.0,870.2 361.3,869.5 362.7,868.6 364.0,869.2 365.4,873.2 366.7,872.4 368.1,872.0 369.4,876.7 370.8,883.1 372.1,880.1 373.5,881.8 374.8,882.7 376.2,884.4 377.5,882.8 378.9,887.1 380.2,889.3 381.6,889.4 382.9,890.5 384.3,891.0 385.6,893.3 387.0,890.6 388.3,889.9 389.7,893.8 391.0,895.6 392.4,897.7 393.7,895.9 395.1,898.6 396.4,899.0 397.8,901.4 399.1,899.9 400.5,902.9 401.8,904.0 403.2,903.0 404.5,904.2 405.9,904.7 407.2,905.2 408.6,906.5 409.9,906.8 411.3,911.5 412.6,912.1 414.0,912.3 415.3,914.0 416.7,915.2 418.0,919.4 419.4,919.6 420.7,918.6 422.1,921.9 423.4,918.8 424.8,922.4 426.1,923.3 427.5,926.8 428.8,926.5 430.2,927.3 431.5,928.8 432.9,928.7 434.2,930.2 435.6,932.0 436.9,935.9 438.3,936.8 439.6,938.8 441.0,941.7 442.3,941.2 443.7,936.8 445.0,940.0 446.4,945.0 447.7,943.2 449.1,944.3 450.4,944.7 451.8,942.1 453.1,946.2 454.5,945.6 455.8,944.4 457.2,947.5 458.5,950.6 459.9,947.3 461.2,945.7 462.6,948.5 463.9,947.6 465.3,945.3 466.6,949.9 468.0,952.6 469.3,951.1 470.7,953.9 472.0,955.0 473.4,955.7 474.7,957.1 476.1,958.6 477.4,960.0 478.8,961.5 480.1,964.0 481.5,963.3 482.8,963.9 484.2,967.7 485.5,966.7 486.9,973.4 488.2,970.0 489.6,975.6 490.9,973.5 492.3,974.8 493.6,977.2 495.0,977.5 496.3,977.5 497.7,978.2 499.0,978.2 500.4,979.1 501.7,983.7 503.1,978.2 504.4,987.2 505.8,986.6 507.1,985.0 508.5,989.7 509.8,990.8 511.2,990.0 512.5,983.8 513.9,985.2 515.2,991.0 516.6,987.9 517.9,991.6 519.3,990.4 520.6,992.5 522.0,991.5 523.3,992.5 524.7,989.6 526.0,993.2 527.4,991.9 528.7,996.0 530.1,993.0 531.4,995.6 532.8,996.2 534.1,995.1 535.5,994.1 536.8,996.4 538.2,996.2 539.5,998.4 540.9,995.5 542.2,995.5 543.6,999.6 544.9,999.2 546.3,1001.5 547.6,1002.4 549.0,996.6 550.3,1001.3 551.7,1001.7 553.0,1002.2 554.4,1004.5 555.7,1007.2 557.1,1003.7 558.4,1004.5 559.8,1006.8 561.1,1007.8 562.5,1006.8 563.8,1009.5 565.2,1011.2 566.5,1008.3 567.9,1012.5 569.2,1009.3 570.6,1014.1 571.9,1010.5 573.3,1011.3 574.6,1011.0 576.0,1013.7 577.3,1014.9 578.7,1015.3 580.0,1015.5 581.4,1016.4 582.7,1016.5 584.1,1017.2 585.4,1018.8 586.8,1017.9 588.1,1019.8 589.5,1017.9 590.8,1017.8 592.2,1022.4 593.5,1019.8 594.9,1021.9 596.2,1020.2 597.6,1019.6 598.9,1020.2 600.3,1021.6 601.6,1026.2 603.0,1022.6 604.3,1024.9 605.7,1024.0 607.0,1025.4 608.4,1023.2 609.7,1028.2 611.1,1026.9 612.4,1026.1 613.8,1029.0 615.1,1025.0 616.5,1027.1 617.8,1029.8 619.2,1032.8 620.5,1029.4 621.9,1034.6 623.2,1034.1 624.6,1030.7 625.9,1034.2 627.3,1036.2 628.6,1032.9 630.0,1038.5 631.3,1033.4 632.7,1040.0 634.0,1040.5 635.4,1042.3 636.7,1041.6 638.1,1041.4 639.4,1038.6 640.8,1046.0 642.1,1044.6 643.5,1045.8 644.8,1043.8 646.2,1041.3 647.5,1047.4 648.9,1045.3 650.2,1047.6 651.6,1049.4 652.9,1046.3 654.3,1050.2 655.6,1048.3 657.0,1049.1 658.3,1052.1 659.7,1048.0 661.0,1050.0 662.4,1050.9 663.7,1053.6 665.1,1051.6 666.4,1053.2 667.8,1049.9 669.1,1049.2 670.5,1052.1 671.8,1055.9 673.2,1054.2 674.5,1052.7 675.9,1052.8 677.2,1057.0 678.6,1056.0 679.9,1052.4 681.3,1051.7 682.6,1059.8 684.0,1056.8 685.3,1056.9 686.7,1058.1 688.0,1057.7 689.4,1058.0 690.7,1058.7 692.1,1055.4 693.4,1059.2 694.8,1059.5 696.1,1063.0 697.5,1063.4 698.8,1061.2 700.2,1062.2 701.5,1062.8 702.9,1066.8 704.2,1065.2 705.6,1062.0 706.9,1066.3 708.3,1061.8 709.6,1066.1 711.0,1064.2 712.3,1061.9 713.7,1063.4 715.0,1064.0 716.4,1066.6 717.7,1067.1 719.1,1061.2 720.4,1063.7 721.8,1066.8 723.1,1065.7 724.5,1065.8 725.8,1066.0 727.2,1066.2 728.5,1067.3 729.9,1063.9 731.2,1060.3 732.6,1065.6 733.9,1063.4 735.3,1061.3 736.6,1064.7 738.0,1063.1 739.3,1064.5 740.7,1060.6 742.0,1065.8 743.4,1064.7 744.7,1065.3 746.1,1063.6 747.4,1063.7 748.8,1067.3 750.1,1066.9 751.5,1065.4 752.8,1063.9 754.2,1067.6 755.5,1065.9 756.9,1068.9 758.2,1066.3 759.6,1068.5 760.9,1069.3 762.3,1068.0 763.6,1070.7 765.0,1067.5 766.3,1073.4 767.7,1070.6 769.0,1071.2 770.4,1072.3 771.7,1072.6" fill="none" stroke="none" marker-start="url(#bc)" marker-mid="url(#bc)" marker-end="url(#bc)"/>
<polyline points="133.2,1174.0 134.9,1174.2 137.2,1173.1 137.7,1172.9 140.7,1174.3 140.2,1173.9 141.7,1175.0 143.2,1173.0 145.0,1173.8 146.0,1174.2 146.8,1173.7 148.1,1171.9 149.3,1171.1 150.9,1170.9 151.2,1171.9 152.8,1168.8 154.2,1168.1 157.3,1168.0 157.8,1166.4 159.7,1165.6 160.2,1162.5 161.9,1160.8 162.5,1160.0 163.1,1156.9 165.6,1154.6 166.8,1151.3 168.0,1148.8 168.8,1146.0 171.6,1143.2 173.0,1139.9 174.2,1136.6 175.9,1132.6 176.0,1129.5 178.3,1125.5 179.2,1119.0 180.3,1115.1 182.0,1108.2 182.6,1099.1 184.4,1094.3 186.0,1086.4 186.1,1081.8 189.7,1073.8 190.7,1068.7 191.9,1061.6 193.9,1049.4 194.6,1036.2 195.9,1026.2 197.9,1013.8 197.8,1004.2 198.6,995.5 201.5,985.7 202.0,978.1 204.3,971.5 205.4,963.2 205.8,957.1 207.6,948.9 208.2,938.6 210.3,931.7 211.5,922.4 213.6,914.7 215.6,907.4 215.9,900.6 216.9,894.8 218.5,889.7 219.7,883.2 220.8,876.8 222.6,872.1 223.0,865.4 224.6,859.6 226.7,852.5 228.5,847.1 229.6,841.2 230.4,836.9 232.7,833.6 233.5,830.2 235.8,824.4 236.3,821.4 237.3,816.9 237.8,812.9 240.9,810.5 242.0,807.9 243.6,805.1 243.7,802.1 244.7,800.6 247.7,799.2 248.1,795.5 247.8,794.5 251.3,792.9 251.3,791.8 254.5,790.1 255.6,789.1 254.9,787.0 257.8,784.7 258.9,784.1 260.7,784.2 260.8,783.3 262.0,783.2 264.9,783.5 264.4,783.5 266.9,783.0 268.6,784.0 270.1,786.2 271.3,783.2 273.7,784.3 274.4,784.1 275.0,787.7 276.4,788.1 277.4,785.8 279.3,789.2 281.5,787.5 282.2,791.1 283.2,791.6 284.0,792.8 284.9,791.0 287.2,795.2 288.3,796.4 290.1,799.5 290.9,798.8 292.9,799.8 293.9,800.0 295.2,803.5 296.8,805.3 297.9,806.5 299.4,808.0 300.6,807.1 302.2,805.9 303.1,809.9 304.8,813.7 306.3,814.4 307.6,811.7 308.9,818.1 310.4,817.8 311.6,817.7 313.2,815.2 314.2,819.4 315.5,820.9 316.8,824.4 318.2,820.3 319.6,821.6 321.0,825.5 322.3,826.4 323.7,827.0 325.0,825.4 326.4,826.3 327.7,829.2 329.1,830.8 330.4,832.9 331.8,831.1 333.1,830.8 334.5,837.4 335.8,836.6 337.2,838.1 338.5,841.8 339.9,838.9 341.2,843.3 342.6,844.4 343.9,847.8 345.3,848.6 346.6,851.7 348.0,849.7 349.3,853.1 350.7,853.9 352.0,859.3 353.4,861.3 354.7,860.5 356.1,863.2 357.4,863.0 358.8,863.6 360.1,869.0 361.5,867.6 362.8,871.9 364.2,875.3 365.5,869.9 366.9,874.8 368.2,874.5 369.6,877.5 370.9,873.7 372.3,880.9 373.6,879.6 375.0,883.4 376.3,885.2 377.7,887.6 379.0,887.5 380.4,889.6 381.7,889.9 383.1,889.1 384.4,892.4 385.8,894.2 387.1,896.1 388.5,898.7 389.8,900.5 391.2,903.8 392.5,907.3 393.9,903.2 395.2,907.3 396.6,909.6 397.9,910.1 399.3,913.7 400.6,909.7 402.0,917.1 403.3,917.2 404.7,915.7 406.0,920.6 407.4,926.6 408.7,924.3 410.1,930.2 411.4,932.2 412.8,930.1 414.1,930.5 415.5,934.0 416.8,937.0 418.2,939.1 419.5,937.6 420.9,936.6 422.2,942.5 423.6,937.1 424.9,941.3 426.3,942.9 427.6,944.8 429.0,943.5 430.3,945.8 431.7,948.0 433.0,946.9 434.4,945.8 435.7,949.5 437.1,948.8 438.4,947.0 439.8,947.8 441.1,953.2 442.5,949.5 443.8,951.1 445.2,949.3 446.5,950.1 447.9,950.5 449.2,949.7 450.6,952.2 451.9,952.8 453.3,952.4 454.6,950.0 456.0,949.6 457.3,947.0 458.7,953.1 460.0,950.5 461.4,949.0 462.7,949.4 464.1,953.6 465.4,952.1 466.8,954.8 468.1,954.5 469.5,956.9 470.8,956.6 472.2,951.7 473.5,961.1 474.9,957.1 476.2,963.8 477.6,962.3 478.9,961.6 480.3,963.2 481.6,963.7 483.0,967.1 484.3,968.4 485.7,965.8 487.0,965.8 488.4,972.9 489.7,972.1 491.1,969.7 492.4,975.2 493.8,976.5 495.1,975.9 496.5,976.8 497.8,975.5 499.2,971.5 500.5,979.3 501.9,977.0 503.2,983.1 504.6,978.9 505.9,981.4 507.3,979.3 508.6,978.5 510.0,980.9 511.3,986.6 512.7,983.0 514.0,979.6 515.4,986.0 516.7,986.9 518.1,983.4 519.4,985.8 520.8,986.2 522.1,985.2 523.5,987.5 524.8,984.9 526.2,989.4 527.5,991.4 528.9,988.4 530.2,992.2 531.6,993.2 532.9,993.6 534.3,996.2 535.6,994.2 537.0,993.6 538.3,997.6 539.7,998.1 541.0,993.8 542.4,999.2 543.7,998.6 545.1,1000.4 546.4,1002.4 547.8,1006.4 549.1,1005.2 550.5,1004.2 551.8,1005.5 553.2,1008.1 554.5,1009.6 555.9,1015.3 557.2,1009.0 558.6,1010.9 559.9,1015.0 561.3,1013.3 562.6,1015.4 564.0,1012.7 565.3,1013.6 566.7,1019.1 568.0,1016.6 569.4,1020.9 570.7,1019.2 572.1,1021.5 573.4,1023.9 574.8,1020.6 576.1,1021.3 577.5,1025.8 578.8,1024.1 580.2,1024.3 581.5,1026.9 582.9,1023.7 584.2,1026.1 585.6,1024.1 586.9,1024.5 588.3,1028.9 589.6,1030.4 591.0,1028.8 592.3,1026.0 593.7,1029.1 595.0,1030.4 596.4,1030.2 597.7,1033.0 599.1,1029.5 600.4,1032.2 601.8,1031.4 603.1,1032.4 604.5,1032.4 605.8,1034.5 607.2,1031.7 608.5,1034.0 609.9,1035.8 611.2,1037.3 612.6,1038.3 613.9,1037.0 615.3,1039.5 616.6,1040.3 618.0,1038.0 619.3,1042.7 620.7,1042.3 622.0,1039.2 623.4,1040.1 624.7,1039.9 626.1,1041.0 627.4,1042.4 628.8,1042.7 630.1,1041.8 631.5,1043.9 632.8,1045.7 634.2,1045.5 635.5,1045.3 636.9,1043.7 638.2,1044.0 639.6,1048.1 640.9,1045.1 642.3,1043.7 643.6,1047.2 645.0,1048.8 646.3,1042.6 647.7,1049.0 649.0,1043.8 650.4,1047.5 651.7,1046.0 653.1,1044.6 654.4,1044.0 655.8,1043.8 657.1,1043.3 658.5,1045.1 659.8,1047.8 661.2,1045.3 662.5,1049.6 663.9,1045.3 665.2,1044.5 666.6,1045.9 667.9,1049.3 669.3,1044.7 670.6,1046.5 672.0,1049.0 673.3,1046.6 674.7,1049.2 676.0,1048.5 677.4,1049.1 678.7,1049.9 680.1,1050.4 681.4,1053.1 682.8,1049.3 684.1,1050.6 685.5,1053.0 686.8,1051.7 688.2,1053.7 689.5,1054.0 690.9,1057.0 692.2,1054.7 693.6,1058.3 694.9,1058.4 696.3,1062.5 697.6,1058.1 699.0,1058.7 700.3,1059.5 701.7,1060.8 703.0,1061.6 704.4,1064.9 705.7,1062.4 707.1,1063.9 708.4,1064.3 709.8,1065.9 711.1,1062.3 712.5,1063.7 713.8,1065.4 715.2,1068.3 716.5,1064.5 717.9,1064.6 719.2,1067.6 720.6,1066.6 721.9,1066.6 723.3,1070.4 724.6,1065.5 726.0,1068.7 727.3,1071.2 728.7,1066.8 730.0,1072.4 731.4,1069.7 732.7,1069.2 734.1,1071.7 735.4,1069.6 736.8,1064.6 738.1,1070.5 739.5,1070.0 740.8,1067.9 742.2,1072.6 743.5,1070.6 744.9,1070.5 746.2,1077.0 747.6,1075.5 748.9,1076.8 750.3,1077.8 751.6,1072.3 753.0,1079.1 754.3,1074.0 755.7,1074.6 757.0,1077.9 758.4,1077.2 759.7,1081.8 761.1,1078.4 762.4,1080.9 763.8,1080.2 765.1,1079.3 766.5,1080.8 767.8,1081.0 769.2,1082.7 770.5,1082.5 771.9,1084.9" fill="none" stroke="none" marker-start="url(#bc)" marker-mid="url(#bc)" marker-end="url(#bc)"/>
<polyline points="133.3,1173.5 134.5,1172.7 136.2,1174.1 138.7,1174.1 138.4,1174.7 139.4,1175.3 140.8,1174.1 142.5,1174.4 143.3,1174.7 144.8,1173.2 146.4,1173.3 148.7,1171.6 149.9,1172.3 150.8,1171.8 152.7,1170.7 153.8,1169.8 155.0,1167.9 155.8,1166.8 158.4,1167.1 159.1,1165.2 160.3,1162.8 161.6,1161.9 163.3,1158.9 164.5,1156.5 165.0,1155.1 166.8,1152.2 167.8,1149.8 167.9,1148.7 170.4,1144.3 174.4,1140.9 172.7,1138.8 175.3,1132.6 177.2,1128.9 177.9,1124.1 179.3,1119.5 180.0,1116.1 181.6,1106.5 182.9,1102.2 184.0,1093.4 186.0,1086.7 187.9,1081.3 189.5,1074.7 191.4,1067.8 192.0,1059.9 195.2,1050.3 194.4,1035.8 194.8,1026.1 195.9,1017.2 198.5,1003.5 200.3,995.3 201.7,986.4 202.4,976.8 204.7,970.5 205.1,964.5 206.1,958.0 207.7,950.5 209.2,940.7 210.9,931.7 211.0,921.8 212.4,915.7 215.3,907.1 215.6,900.6 218.1,895.2 219.0,891.5 220.1,882.7 222.1,879.0 222.5,872.6 224.4,865.0 225.9,859.3 227.4,851.5 227.4,847.5 229.4,842.4 231.8,836.5 232.6,832.9 234.4,828.6 235.9,825.2 235.7,821.6 237.5,818.5 239.9,814.0 240.6,811.5 240.9,808.9 243.2,806.9 244.5,802.8 245.2,799.9 246.7,797.4 248.9,795.9 250.1,792.3 250.2,791.3 251.7,791.5 253.5,791.5 255.0,789.5 256.3,786.3 257.1,787.1 259.3,785.4 259.0,784.1 261.2,785.5 263.1,784.8 264.5,784.5 265.8,784.0 267.4,784.4 268.6,783.0 269.7,783.2 272.2,783.2 272.5,785.6 275.4,785.5 274.4,786.8 277.1,785.5 277.3,786.2 278.5,787.3 280.2,788.1 280.7,788.6 283.1,792.1 284.7,791.0 285.6,787.3 287.2,791.6 288.9,794.1 289.9,795.1 291.8,796.1 292.6,796.8 294.8,801.2 295.5,798.1 296.5,802.4 298.4,804.0 299.6,805.3 300.5,809.0 302.7,804.0 303.5,805.8 305.1,809.1 306.8,810.7 307.6,812.1 308.9,810.9 310.4,812.9 311.4,818.2 313.2,817.9 314.3,819.4 315.9,821.3 317.2,824.8 318.4,822.5 319.8,825.1 321.2,823.0 322.5,827.3 323.9,830.4 325.2,832.9 326.6,832.1 327.9,832.7 329.3,835.7 330.6,835.2 332.0,839.3 333.3,843.2 334.7,846.5 336.0,850.5 337.4,849.9 338.7,850.1 340.1,854.1 341.4,854.9 342.8,859.8 344.1,861.9 345.5,858.3 346.8,863.0 348.2,869.6 349.5,869.6 350.9,868.4 352.2,864.2 353.6,873.4 354.9,874.3 356.3,874.6 357.6,878.0 359.0,878.3 360.3,880.2 361.7,879.9 363.0,881.4 364.4,883.8 365.7,883.8 367.1,883.5 368.4,884.8 369.8,889.4 371.1,888.6 372.5,890.1 373.8,892.0 375.2,896.4 376.5,892.3 377.9,893.2 379.2,900.2 380.6,901.0 381.9,906.1 383.3,904.1 384.6,903.4 386.0,908.6 387.3,910.4 388.7,912.2 390.0,914.0 391.4,919.3 392.7,916.0 394.1,919.2 395.4,920.0 396.8,918.2 398.1,920.8 399.5,922.9 400.8,925.5 402.2,924.9 403.5,931.4 404.9,929.5 406.2,928.8 407.6,930.3 408.9,932.9 410.3,932.4 411.6,932.3 413.0,932.7 414.3,935.9 415.7,940.0 417.0,931.5 418.4,936.8 419.7,938.1 421.1,936.7 422.4,943.2 423.8,939.3 425.1,935.8 426.5,940.0 427.8,937.2 429.2,941.4 430.5,939.9 431.9,942.4 433.2,938.2 434.6,941.0 435.9,943.6 437.3,940.0 438.6,938.6 440.0,940.1 441.3,941.4 442.7,940.5 444.0,942.4 445.4,944.0 446.7,940.4 448.1,939.3 449.4,940.9 450.8,939.9 452.1,941.9 453.5,943.4 454.8,940.9 456.2,944.9 457.5,945.2 458.9,942.7 460.2,945.7 461.6,944.0 462.9,949.3 464.3,948.4 465.6,950.9 467.0,953.9 468.3,953.8 469.7,953.8 471.0,955.9 472.4,955.8 473.7,958.2 475.1,963.3 476.4,960.1 477.8,962.5 479.1,964.6 480.5,966.1 481.8,968.1 483.2,965.6 484.5,968.0 485.9,970.0 487.2,971.9 488.6,973.7 489.9,974.3 491.3,974.7 492.6,973.7 494.0,974.2 495.3,975.1 496.7,980.0 498.0,982.3 499.4,978.4 500.7,978.1 502.1,981.0 503.4,982.9 504.8,982.2 506.1,983.6 507.5,986.2 508.8,986.4 510.2,985.7 511.5,984.9 512.9,988.0 514.2,991.3 515.6,986.7 516.9,994.0 518.3,992.2 519.6,995.8 521.0,992.5 522.3,993.2 523.7,993.1 525.0,997.2 526.4,998.1 527.7,998.4 529.1,1000.0 530.4,1001.8 531.8,1000.4 533.1,1004.9 534.5,1001.0 535.8,1004.3 537.2,1007.0 538.5,1006.9 539.9,1008.7 541.2,1006.3 542.6,1009.8 543.9,1011.3 545.3,1009.5 546.6,1014.3 548.0,1011.6 549.3,1013.2 550.7,1013.1 552.0,1016.7 553.4,1015.5 554.7,1018.9 556.1,1020.0 557.4,1018.3 558.8,1020.6 560.1,1023.5 561.5,1017.2 562.8,1017.5 564.2,1024.8 565.5,1020.0 566.9,1027.7 568.2,1024.1 569.6,1018.1 570.9,1024.6 572.3,1022.9 573.6,1023.6 575.0,1025.3 576.3,1022.7 577.7,1023.5 579.0,1024.7 580.4,1021.2 581.7,1024.3 583.1,1025.7 584.4,1025.5 585.8,1026.0 587.1,1026.0 588.5,1022.5 589.8,1025.0 591.2,1023.2 592.5,1028.1 593.9,1029.8 595.2,1028.6 596.6,1024.7 597.9,1028.4 599.3,1031.2 600.6,1031.0 602.0,1032.0 603.3,1032.6 604.7,1029.3 606.0,1032.4 607.4,1033.0 608.7,1030.8 610.1,1032.1 611.4,1033.4 612.8,1037.9 614.1,1036.6 615.5,1034.9 616.8,1035.4 618.2,1032.5 619.5,1036.0 620.9,1038.3 622.2,1035.8 623.6,1038.0 624.9,1039.9 626.3,1036.8 627.6,1034.7 629.0,1037.8 630.3,1037.9 631.7,1043.8 633.0,1038.5 634.4,1038.7 635.7,1041.2 637.1,1038.0 638.4,1039.0 639.8,1039.7 641.1,1039.9 642.5,1041.3 643.8,1041.2 645.2,1036.6 646.5,1043.8 647.9,1041.1 649.2,1043.8 650.6,1043.0 651.9,1044.5 653.3,1046.4 654.6,1044.0 656.0,1044.0 657.3,1046.2 658.7,1045.9 660.0,1050.3 661.4,1047.0 662.7,1047.0 664.1,1052.8 665.4,1048.3 666.8,1052.0 668.1,1050.0 669.5,1053.4 670.8,1056.2 672.2,1057.0 673.5,1054.7 674.9,1057.8 676.2,1060.2 677.6,1059.3 678.9,1063.9 680.3,1064.5 681.6,1065.9 683.0,1063.7 684.3,1065.5 685.7,1063.3 687.0,1065.0 688.4,1068.9 689.7,1067.2 691.1,1069.6 692.4,1068.2 693.8,1069.6 695.1,1069.2 696.5,1072.8 697.8,1071.3 699.2,1073.5 700.5,1074.7 701.9,1072.9 703.2,1073.8 704.6,1078.3 705.9,1074.9 707.3,1076.9 708.6,1076.8 710.0,1075.5 711.3,1074.8 712.7,1070.5 714.0,1074.6 715.4,1071.7 716.7,1071.0 718.1,1073.5 719.4,1075.9 720.8,1074.9 722.1,1075.2 723.5,1075.4 724.8,1075.5 726.2,1072.0 727.5,1072.0 728.9,1074.5 730.2,1076.6 731.6,1074.7 732.9,1073.5 734.3,1074.1 735.6,1074.5 737.0,1074.4 738.3,1073.8 739.7,1079.4 741.0,1076.8 742.4,1073.4 743.7,1077.3 745.1,1078.3 746.4,1079.2 747.8,1075.7 749.1,1074.2 750.5,1082.7 751.8,1075.8 753.2,1075.8 754.5,1079.2 755.9,1081.3 757.2,1081.3 758.6,1077.8 759.9,1079.7 761.3,1078.3 762.6,1079.9 764.0,1078.7 765.3,1085.1 766.7,1082.6 768.0,1079.9 769.4,1080.0 770.7,1083.1 772.1,1079.0" fill="none" stroke="none" marker-start="url(#bc)" marker-mid="url(#bc)" marker-end="url(#bc)"/>
<polyline points="135.1,1174.2 135.7,1174.8 136.1,1173.9 137.2,1173.7 138.8,1175.1 140.0,1173.0 142.2,1173.5 143.9,1173.7 143.4,1175.2 146.1,1174.9 147.1,1176.3 148.3,1173.2 150.4,1172.4 150.7,1171.7 152.0,1169.9 153.9,1170.7 154.8,1168.3 156.3,1167.2 158.6,1166.7 158.4,1164.7 161.6,1163.9 163.0,1162.4 163.2,1160.4 165.2,1157.5 165.4,1154.4 167.3,1152.5 168.5,1149.0 169.6,1145.9 172.2,1142.9 173.1,1141.7 174.9,1136.2 174.5,1134.2 176.8,1128.9 178.0,1124.1 178.5,1119.5 181.7,1115.4 182.4,1106.5 183.9,1101.1 186.1,1093.7 186.0,1086.7 188.8,1079.2 187.8,1073.4 191.4,1066.6 192.3,1059.8 192.3,1049.0 193.6,1035.7 197.6,1023.9 196.8,1014.9 199.4,1002.6 200.2,993.7 201.3,984.6 202.5,977.3 203.1,969.5 204.5,962.3 206.1,956.2 208.6,948.5 208.0,938.7 209.9,930.7 212.3,920.3 213.3,912.3 214.4,906.8 215.4,899.5 216.2,894.1 218.2,890.7 219.3,883.3 221.1,876.0 222.1,869.7 223.1,864.6 226.4,857.7 225.4,850.4 228.8,846.2 229.2,839.0 230.5,837.1 231.4,832.6 232.9,828.9 234.6,822.3 234.8,820.5 238.3,818.4 239.1,813.6 240.3,810.0 241.6,808.5 243.8,803.2 244.4,802.1 246.3,800.3 246.6,797.2 249.6,795.7 249.3,794.7 250.4,793.0 252.0,790.7 254.5,788.3 256.3,786.7 256.8,786.2 259.4,785.7 258.5,784.8 260.0,788.0 261.6,784.6 264.2,784.4 264.0,785.0 266.0,782.8 266.6,783.6 268.8,785.1 269.5,783.9 273.2,786.5 273.2,784.9 273.8,786.7 275.9,789.0 276.7,789.2 277.8,788.6 279.7,789.4 280.1,791.2 282.9,790.5 284.1,790.5 284.4,794.9 286.2,796.3 286.8,796.1 289.1,796.5 290.4,796.3 291.7,798.6 292.8,800.6 294.3,803.2 295.5,805.9 297.0,806.0 298.2,808.3 299.6,806.5 300.9,811.0 301.8,814.8 303.6,812.8 305.3,812.1 306.7,819.1 307.7,822.5 309.2,822.8 310.7,822.2 311.7,826.3 313.3,822.8 314.4,829.0 316.0,829.2 317.3,834.9 318.6,832.6 320.0,840.6 321.4,843.2 322.7,844.2 324.0,844.1 325.4,842.5 326.7,845.2 328.1,849.5 329.4,850.1 330.8,849.8 332.1,852.3 333.5,852.7 334.8,856.5 336.2,857.0 337.5,861.1 338.9,861.3 340.2,860.5 341.6,865.3 342.9,859.2 344.3,862.2 345.6,865.1 347.0,868.5 348.3,872.4 349.7,871.3 351.0,871.3 352.4,871.6 353.7,869.0 355.1,872.3 356.4,876.6 357.8,876.0 359.1,875.1 360.5,877.1 361.8,876.9 363.2,875.4 364.5,879.9 365.9,880.3 367.2,880.3 368.6,883.7 369.9,884.9 371.3,887.3 372.6,888.6 374.0,890.4 375.3,891.2 376.7,891.8 378.0,894.8 379.4,896.6 380.7,900.2 382.1,900.0 383.4,900.2 384.8,904.9 386.1,904.9 387.5,908.3 388.8,912.6 390.2,911.6 391.5,909.1 392.9,911.3 394.2,915.8 395.6,912.9 396.9,916.7 398.3,919.4 399.6,919.3 401.0,919.7 402.3,922.4 403.7,922.7 405.0,923.4 406.4,926.4 407.7,924.9 409.1,926.6 410.4,930.3 411.8,930.4 413.1,929.4 414.5,929.7 415.8,931.3 417.2,931.9 418.5,929.6 419.9,931.3 421.2,935.7 422.6,932.3 423.9,938.2 425.3,937.0 426.6,936.4 428.0,936.2 429.3,938.2 430.7,940.4 432.0,940.6 433.4,943.2 434.7,942.4 436.1,941.1 437.4,944.5 438.8,945.9 440.1,945.2 441.5,944.6 442.8,945.9 444.2,949.7 445.5,947.8 446.9,954.2 448.2,953.3 449.6,949.2 450.9,951.7 452.3,955.0 453.6,953.3 455.0,956.4 456.3,959.4 457.7,959.8 459.0,957.2 460.4,961.8 461.7,963.2 463.1,960.7 464.4,964.4 465.8,963.0 467.1,962.7 468.5,969.0 469.8,970.1 471.2,967.2 472.5,965.1 473.9,973.7 475.2,971.7 476.6,974.8 477.9,972.5 479.3,977.2 480.6,979.2 482.0,978.2 483.3,980.4 484.7,980.2 486.0,982.3 487.4,980.1 488.7,980.8 490.1,978.7 491.4,982.4 492.8,983.4 494.1,982.4 495.5,987.4 496.8,985.5 498.2,992.7 499.5,988.6 500.9,986.4 502.2,988.7 503.6,990.9 504.9,992.3 506.3,993.8 507.6,990.6 509.0,994.2 510.3,992.9 511.7,995.6 513.0,994.2 514.4,995.2 515.7,996.7 517.1,995.5 518.4,997.5 519.8,999.1 521.1,995.4 522.5,998.8 523.8,999.6 525.2,1003.3 526.5,1002.3 527.9,1002.7 529.2,1001.9 530.6,1005.0 531.9,1004.2 533.3,1007.4 534.6,1005.6 536.0,1006.7 537.3,1008.6 538.7,1008.9 540.0,1005.4 541.4,1009.4 542.7,1009.4 544.1,1006.3 545.4,1008.0 546.8,1012.7 548.1,1011.9 549.5,1010.7 550.8,1013.8 552.2,1008.8 553.5,1015.4 554.9,1011.8 556.2,1016.3 557.6,1012.9 558.9,1013.0 560.3,1015.0 561.6,1014.2 563.0,1017.2 564.3,1017.1 565.7,1015.2 567.0,1016.0 568.4,1016.8 569.7,1020.7 571.1,1017.6 572.4,1020.3 573.8,1018.7 575.1,1017.7 576.5,1016.7 577.8,1021.0 579.2,1022.2 580.5,1022.4 581.9,1025.2 583.2,1024.8 584.6,1027.8 585.9,1026.2 587.3,1023.9 588.6,1028.8 590.0,1025.2 591.3,1027.8 592.7,1026.4 594.0,1031.6 595.4,1033.4 596.7,1028.6 598.1,1030.3 599.4,1031.4 600.8,1029.8 602.1,1034.1 603.5,1034.5 604.8,1032.9 606.2,1031.8 607.5,1034.0 608.9,1038.1 610.2,1035.1 611.6,1038.7 612.9,1039.7 614.3,1041.1 615.6,1040.0 617.0,1041.1 618.3,1044.0 619.7,1040.3 621.0,1042.0 622.4,1044.9 623.7,1040.4 625.1,1044.4 626.4,1038.3 627.8,1040.7 629.1,1041.2 630.5,1044.4 631.8,1045.2 633.2,1041.1 634.5,1049.9 635.9,1051.0 637.2,1049.8 638.6,1047.5 639.9,1049.4 641.3,1047.7 642.6,1048.6 644.0,1048.9 645.3,1051.7 646.7,1050.8 648.0,1051.6 649.4,1056.8 650.7,1053.3 652.1,1056.0 653.4,1056.3 654.8,1055.4 656.1,1056.2 657.5,1060.1 658.8,1057.5 660.2,1060.6 661.5,1059.1 662.9,1059.9 664.2,1064.3 665.6,1058.5 666.9,1061.2 668.3,1062.0 669.6,1064.6 671.0,1063.1 672.3,1065.5 673.7,1067.4 675.0,1070.7 676.4,1069.3 677.7,1065.2 679.1,1072.1 680.4,1069.1 681.8,1067.7 683.1,1070.5 684.5,1068.4 685.8,1070.0 687.2,1069.2 688.5,1070.3 689.9,1066.6 691.2,1074.3 692.6,1072.0 693.9,1073.5 695.3,1072.7 696.6,1071.7 698.0,1074.6 699.3,1074.5 700.7,1071.0 702.0,1073.1 703.4,1070.5 704.7,1069.9 706.1,1071.6 707.4,1070.7 708.8,1070.1 710.1,1066.1 711.5,1068.4 712.8,1070.3 714.2,1071.4 715.5,1071.4 716.9,1069.0 718.2,1071.1 719.6,1067.8 720.9,1071.3 722.3,1074.4 723.6,1070.4 725.0,1069.0 726.3,1073.5 727.7,1071.4 729.0,1071.9 730.4,1073.3 731.7,1071.8 733.1,1074.2 734.4,1071.7 735.8,1071.9 737.1,1074.2 738.5,1074.8 739.8,1074.7 741.2,1075.8 742.5,1074.7 743.9,1073.7 745.2,1076.2 746.6,1072.3 747.9,1075.7 749.3,1077.8 750.6,1077.2 752.0,1078.5 753.3,1076.0 754.7,1076.2 756.0,1076.0 757.4,1076.1 758.7,1077.8 760.1,1079.5 761.4,1077.7 762.8,1081.2 764.1,1079.2 765.5,1074.4 766.8,1080.1 768.2,1078.1 769.5,1079.5 770.9,1078.2 772.2,1078.9" fill="none" stroke="none" marker-start="url(#bc)" marker-mid="url(#bc)" marker-end="url(#bc)"/>
<polyline points="236.0,813.0 237.0,811.9 238.0,811.3 239.0,808.0 240.0,810.2 241.0,810.0 242.0,808.3 243.0,805.6 244.0,806.9 245.0,807.2 246.0,806.9 247.0,803.4 248.0,806.9 249.0,808.9 250.0,805.2 251.0,808.7 252.0,805.4 253.0,803.1 254.0,801.3 255.0,800.3 256.0,801.1 257.0,802.0 258.0,799.3 259.0,800.9 260.0,805.5 261.0,795.8 262.0,800.8 263.0,800.1 264.0,800.2 265.0,799.7 266.0,798.4 267.0,797.1" fill="none" stroke="none" marker-mid="url(#bc)"/>
</svg>
</body></html>
